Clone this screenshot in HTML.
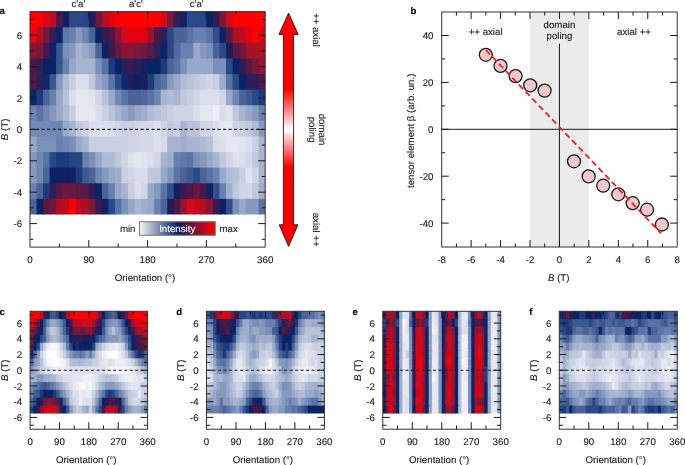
<!DOCTYPE html><html><head><meta charset="utf-8"><style>html,body{margin:0;padding:0;background:#fff;}svg{display:block;will-change:transform;}text{font-family:"Liberation Sans", sans-serif;text-rendering:geometricPrecision;stroke:#1a1a1a;stroke-width:0.12px;}</style></head><body>
<svg width="685" height="465" viewBox="0 0 685 465">
<defs><linearGradient id="cb" x1="0" x2="1" y1="0" y2="0"><stop offset="0" stop-color="#f6f7fb"/><stop offset="0.5" stop-color="#0a2266"/><stop offset="1" stop-color="#ff0000"/></linearGradient><linearGradient id="arr" x1="0" x2="0" y1="12" y2="247" gradientUnits="userSpaceOnUse"><stop offset="0" stop-color="#ff0000"/><stop offset="0.33" stop-color="#ff0000"/><stop offset="0.5" stop-color="#ffffff"/><stop offset="0.66" stop-color="#ff0000"/><stop offset="1" stop-color="#ff0000"/></linearGradient></defs>
<rect width="685" height="465" fill="#fff"/>
<rect x="30" y="11.7" width="14.07" height="16.6" fill="#ff0000"/>
<rect x="43.07" y="11.7" width="7.53" height="16.6" fill="#d80517"/>
<rect x="49.6" y="11.7" width="7.53" height="16.6" fill="#c00a20"/>
<rect x="56.13" y="11.7" width="7.53" height="16.6" fill="#4a1848"/>
<rect x="62.67" y="11.7" width="7.53" height="16.6" fill="#142060"/>
<rect x="69.2" y="11.7" width="14.07" height="16.6" fill="#2a4888"/>
<rect x="82.27" y="11.7" width="7.53" height="16.6" fill="#274484"/>
<rect x="88.8" y="11.7" width="7.53" height="16.6" fill="#1a1e5c"/>
<rect x="95.33" y="11.7" width="7.53" height="16.6" fill="#70183d"/>
<rect x="101.87" y="11.7" width="7.53" height="16.6" fill="#b01020"/>
<rect x="108.4" y="11.7" width="7.53" height="16.6" fill="#e00010"/>
<rect x="114.93" y="11.7" width="46.73" height="16.6" fill="#ff0000"/>
<rect x="160.67" y="11.7" width="7.53" height="16.6" fill="#d80517"/>
<rect x="167.2" y="11.7" width="7.53" height="16.6" fill="#7a1838"/>
<rect x="173.73" y="11.7" width="7.53" height="16.6" fill="#321c54"/>
<rect x="180.27" y="11.7" width="7.53" height="16.6" fill="#142060"/>
<rect x="186.8" y="11.7" width="14.07" height="16.6" fill="#2a4888"/>
<rect x="199.87" y="11.7" width="7.53" height="16.6" fill="#274484"/>
<rect x="206.4" y="11.7" width="7.53" height="16.6" fill="#0a2266"/>
<rect x="212.93" y="11.7" width="7.53" height="16.6" fill="#321c54"/>
<rect x="219.47" y="11.7" width="7.53" height="16.6" fill="#7a1838"/>
<rect x="226" y="11.7" width="7.53" height="16.6" fill="#d00a1e"/>
<rect x="232.53" y="11.7" width="32.67" height="16.6" fill="#ff0000"/>
<rect x="30" y="27.3" width="7.53" height="16.6" fill="#f00008"/>
<rect x="36.53" y="27.3" width="7.53" height="16.6" fill="#b01020"/>
<rect x="43.07" y="27.3" width="7.53" height="16.6" fill="#70183d"/>
<rect x="49.6" y="27.3" width="7.53" height="16.6" fill="#3a1a50"/>
<rect x="56.13" y="27.3" width="7.53" height="16.6" fill="#0a2266"/>
<rect x="62.67" y="27.3" width="7.53" height="16.6" fill="#6077aa"/>
<rect x="69.2" y="27.3" width="7.53" height="16.6" fill="#6a80b0"/>
<rect x="75.73" y="27.3" width="7.53" height="16.6" fill="#8899be"/>
<rect x="82.27" y="27.3" width="7.53" height="16.6" fill="#7086b4"/>
<rect x="88.8" y="27.3" width="7.53" height="16.6" fill="#4a6498"/>
<rect x="95.33" y="27.3" width="7.53" height="16.6" fill="#0a2266"/>
<rect x="101.87" y="27.3" width="7.53" height="16.6" fill="#321c54"/>
<rect x="108.4" y="27.3" width="7.53" height="16.6" fill="#4a1848"/>
<rect x="114.93" y="27.3" width="7.53" height="16.6" fill="#8a1434"/>
<rect x="121.47" y="27.3" width="7.53" height="16.6" fill="#d00a1e"/>
<rect x="128" y="27.3" width="20.6" height="16.6" fill="#e00010"/>
<rect x="147.6" y="27.3" width="7.53" height="16.6" fill="#95142e"/>
<rect x="154.13" y="27.3" width="7.53" height="16.6" fill="#4a1848"/>
<rect x="160.67" y="27.3" width="7.53" height="16.6" fill="#2d1d56"/>
<rect x="167.2" y="27.3" width="7.53" height="16.6" fill="#2a4888"/>
<rect x="173.73" y="27.3" width="14.07" height="16.6" fill="#4a6498"/>
<rect x="186.8" y="27.3" width="7.53" height="16.6" fill="#5a72a6"/>
<rect x="193.33" y="27.3" width="14.07" height="16.6" fill="#6a80b0"/>
<rect x="206.4" y="27.3" width="7.53" height="16.6" fill="#5a72a6"/>
<rect x="212.93" y="27.3" width="7.53" height="16.6" fill="#304e8b"/>
<rect x="219.47" y="27.3" width="7.53" height="16.6" fill="#0a2266"/>
<rect x="226" y="27.3" width="7.53" height="16.6" fill="#5a1844"/>
<rect x="232.53" y="27.3" width="7.53" height="16.6" fill="#a51326"/>
<rect x="239.07" y="27.3" width="7.53" height="16.6" fill="#c00a20"/>
<rect x="245.6" y="27.3" width="7.53" height="16.6" fill="#e00010"/>
<rect x="252.13" y="27.3" width="7.53" height="16.6" fill="#ff0000"/>
<rect x="258.67" y="27.3" width="6.53" height="16.6" fill="#d80517"/>
<rect x="30" y="42.9" width="7.53" height="16.6" fill="#8a1434"/>
<rect x="36.53" y="42.9" width="7.53" height="16.6" fill="#7a1838"/>
<rect x="43.07" y="42.9" width="7.53" height="16.6" fill="#4a1848"/>
<rect x="49.6" y="42.9" width="7.53" height="16.6" fill="#0a2266"/>
<rect x="56.13" y="42.9" width="7.53" height="16.6" fill="#3a5890"/>
<rect x="62.67" y="42.9" width="7.53" height="16.6" fill="#7a90ba"/>
<rect x="69.2" y="42.9" width="7.53" height="16.6" fill="#8899be"/>
<rect x="75.73" y="42.9" width="7.53" height="16.6" fill="#a8b4d0"/>
<rect x="82.27" y="42.9" width="7.53" height="16.6" fill="#98a8c8"/>
<rect x="88.8" y="42.9" width="7.53" height="16.6" fill="#8899be"/>
<rect x="95.33" y="42.9" width="7.53" height="16.6" fill="#4a6498"/>
<rect x="101.87" y="42.9" width="7.53" height="16.6" fill="#0a2266"/>
<rect x="108.4" y="42.9" width="7.53" height="16.6" fill="#3a1a50"/>
<rect x="114.93" y="42.9" width="7.53" height="16.6" fill="#6a1840"/>
<rect x="121.47" y="42.9" width="14.07" height="16.6" fill="#8a1434"/>
<rect x="134.53" y="42.9" width="7.53" height="16.6" fill="#7a1838"/>
<rect x="141.07" y="42.9" width="7.53" height="16.6" fill="#70183d"/>
<rect x="147.6" y="42.9" width="7.53" height="16.6" fill="#5a1844"/>
<rect x="154.13" y="42.9" width="7.53" height="16.6" fill="#2f1d56"/>
<rect x="160.67" y="42.9" width="7.53" height="16.6" fill="#0a2266"/>
<rect x="167.2" y="42.9" width="7.53" height="16.6" fill="#2a4888"/>
<rect x="173.73" y="42.9" width="7.53" height="16.6" fill="#4f689c"/>
<rect x="180.27" y="42.9" width="14.07" height="16.6" fill="#6a80b0"/>
<rect x="193.33" y="42.9" width="7.53" height="16.6" fill="#9baac9"/>
<rect x="199.87" y="42.9" width="7.53" height="16.6" fill="#8899be"/>
<rect x="206.4" y="42.9" width="7.53" height="16.6" fill="#7a90ba"/>
<rect x="212.93" y="42.9" width="7.53" height="16.6" fill="#4a6498"/>
<rect x="219.47" y="42.9" width="7.53" height="16.6" fill="#2a4888"/>
<rect x="226" y="42.9" width="7.53" height="16.6" fill="#1a1e5c"/>
<rect x="232.53" y="42.9" width="7.53" height="16.6" fill="#5a1844"/>
<rect x="239.07" y="42.9" width="7.53" height="16.6" fill="#6a1840"/>
<rect x="245.6" y="42.9" width="14.07" height="16.6" fill="#a51326"/>
<rect x="258.67" y="42.9" width="6.53" height="16.6" fill="#b01020"/>
<rect x="30" y="58.5" width="7.53" height="16.6" fill="#4a1848"/>
<rect x="36.53" y="58.5" width="7.53" height="16.6" fill="#2f1d56"/>
<rect x="43.07" y="58.5" width="14.07" height="16.6" fill="#0a2266"/>
<rect x="56.13" y="58.5" width="7.53" height="16.6" fill="#3a5890"/>
<rect x="62.67" y="58.5" width="7.53" height="16.6" fill="#6a80b0"/>
<rect x="69.2" y="58.5" width="7.53" height="16.6" fill="#98a8c8"/>
<rect x="75.73" y="58.5" width="20.6" height="16.6" fill="#a8b4d0"/>
<rect x="95.33" y="58.5" width="7.53" height="16.6" fill="#7a90ba"/>
<rect x="101.87" y="58.5" width="7.53" height="16.6" fill="#5a72a6"/>
<rect x="108.4" y="58.5" width="7.53" height="16.6" fill="#1e3a7a"/>
<rect x="114.93" y="58.5" width="7.53" height="16.6" fill="#0a2266"/>
<rect x="121.47" y="58.5" width="7.53" height="16.6" fill="#2a1e58"/>
<rect x="128" y="58.5" width="7.53" height="16.6" fill="#3a1a50"/>
<rect x="134.53" y="58.5" width="7.53" height="16.6" fill="#241e5a"/>
<rect x="141.07" y="58.5" width="7.53" height="16.6" fill="#1a1e5c"/>
<rect x="147.6" y="58.5" width="14.07" height="16.6" fill="#0a2266"/>
<rect x="160.67" y="58.5" width="7.53" height="16.6" fill="#1e3a7a"/>
<rect x="167.2" y="58.5" width="7.53" height="16.6" fill="#4a6498"/>
<rect x="173.73" y="58.5" width="7.53" height="16.6" fill="#5a72a6"/>
<rect x="180.27" y="58.5" width="7.53" height="16.6" fill="#7a90ba"/>
<rect x="186.8" y="58.5" width="27.13" height="16.6" fill="#98a8c8"/>
<rect x="212.93" y="58.5" width="14.07" height="16.6" fill="#7a90ba"/>
<rect x="226" y="58.5" width="7.53" height="16.6" fill="#2a4888"/>
<rect x="232.53" y="58.5" width="7.53" height="16.6" fill="#0a2266"/>
<rect x="239.07" y="58.5" width="7.53" height="16.6" fill="#2a1e58"/>
<rect x="245.6" y="58.5" width="7.53" height="16.6" fill="#5a1844"/>
<rect x="252.13" y="58.5" width="7.53" height="16.6" fill="#7a1838"/>
<rect x="258.67" y="58.5" width="6.53" height="16.6" fill="#95142e"/>
<rect x="30" y="74.1" width="7.53" height="16.6" fill="#501846"/>
<rect x="36.53" y="74.1" width="7.53" height="16.6" fill="#2d1d56"/>
<rect x="43.07" y="74.1" width="7.53" height="16.6" fill="#0f286b"/>
<rect x="49.6" y="74.1" width="7.53" height="16.6" fill="#3a5890"/>
<rect x="56.13" y="74.1" width="7.53" height="16.6" fill="#8899be"/>
<rect x="62.67" y="74.1" width="7.53" height="16.6" fill="#b0bcd6"/>
<rect x="69.2" y="74.1" width="7.53" height="16.6" fill="#c8d0e2"/>
<rect x="75.73" y="74.1" width="14.07" height="16.6" fill="#dce0ec"/>
<rect x="88.8" y="74.1" width="7.53" height="16.6" fill="#c0c8dc"/>
<rect x="95.33" y="74.1" width="7.53" height="16.6" fill="#98a8c8"/>
<rect x="101.87" y="74.1" width="7.53" height="16.6" fill="#8899be"/>
<rect x="108.4" y="74.1" width="7.53" height="16.6" fill="#5a72a6"/>
<rect x="114.93" y="74.1" width="7.53" height="16.6" fill="#2a4888"/>
<rect x="121.47" y="74.1" width="7.53" height="16.6" fill="#0f286b"/>
<rect x="128" y="74.1" width="7.53" height="16.6" fill="#201e5a"/>
<rect x="134.53" y="74.1" width="7.53" height="16.6" fill="#102062"/>
<rect x="141.07" y="74.1" width="7.53" height="16.6" fill="#1a1e5c"/>
<rect x="147.6" y="74.1" width="7.53" height="16.6" fill="#1e3a7a"/>
<rect x="154.13" y="74.1" width="7.53" height="16.6" fill="#4a6498"/>
<rect x="160.67" y="74.1" width="7.53" height="16.6" fill="#5a72a6"/>
<rect x="167.2" y="74.1" width="7.53" height="16.6" fill="#8899be"/>
<rect x="173.73" y="74.1" width="7.53" height="16.6" fill="#9baac9"/>
<rect x="180.27" y="74.1" width="7.53" height="16.6" fill="#b0bcd6"/>
<rect x="186.8" y="74.1" width="7.53" height="16.6" fill="#b8c2d8"/>
<rect x="193.33" y="74.1" width="7.53" height="16.6" fill="#c0c8dc"/>
<rect x="199.87" y="74.1" width="7.53" height="16.6" fill="#c8d0e2"/>
<rect x="206.4" y="74.1" width="7.53" height="16.6" fill="#d0d6e6"/>
<rect x="212.93" y="74.1" width="7.53" height="16.6" fill="#c8d0e2"/>
<rect x="219.47" y="74.1" width="7.53" height="16.6" fill="#9baac9"/>
<rect x="226" y="74.1" width="7.53" height="16.6" fill="#5a72a6"/>
<rect x="232.53" y="74.1" width="7.53" height="16.6" fill="#2a4888"/>
<rect x="239.07" y="74.1" width="7.53" height="16.6" fill="#0a2266"/>
<rect x="245.6" y="74.1" width="14.07" height="16.6" fill="#2f1d56"/>
<rect x="258.67" y="74.1" width="6.53" height="16.6" fill="#4a1848"/>
<rect x="30" y="89.7" width="7.53" height="16.6" fill="#0a2266"/>
<rect x="36.53" y="89.7" width="7.53" height="16.6" fill="#1e3a7a"/>
<rect x="43.07" y="89.7" width="7.53" height="16.6" fill="#4a6498"/>
<rect x="49.6" y="89.7" width="7.53" height="16.6" fill="#6a80b0"/>
<rect x="56.13" y="89.7" width="7.53" height="16.6" fill="#98a8c8"/>
<rect x="62.67" y="89.7" width="7.53" height="16.6" fill="#b8c2d8"/>
<rect x="69.2" y="89.7" width="7.53" height="16.6" fill="#dce0ec"/>
<rect x="75.73" y="89.7" width="7.53" height="16.6" fill="#e6e9f1"/>
<rect x="82.27" y="89.7" width="7.53" height="16.6" fill="#e4e8f0"/>
<rect x="88.8" y="89.7" width="7.53" height="16.6" fill="#e0e4ee"/>
<rect x="95.33" y="89.7" width="7.53" height="16.6" fill="#d0d6e6"/>
<rect x="101.87" y="89.7" width="7.53" height="16.6" fill="#b8c2d8"/>
<rect x="108.4" y="89.7" width="7.53" height="16.6" fill="#98a8c8"/>
<rect x="114.93" y="89.7" width="7.53" height="16.6" fill="#7086b4"/>
<rect x="121.47" y="89.7" width="7.53" height="16.6" fill="#5a72a6"/>
<rect x="128" y="89.7" width="14.07" height="16.6" fill="#4a6498"/>
<rect x="141.07" y="89.7" width="7.53" height="16.6" fill="#4f689c"/>
<rect x="147.6" y="89.7" width="7.53" height="16.6" fill="#5a72a6"/>
<rect x="154.13" y="89.7" width="7.53" height="16.6" fill="#7086b4"/>
<rect x="160.67" y="89.7" width="7.53" height="16.6" fill="#a8b4d0"/>
<rect x="167.2" y="89.7" width="7.53" height="16.6" fill="#b0bcd6"/>
<rect x="173.73" y="89.7" width="7.53" height="16.6" fill="#a8b4d0"/>
<rect x="180.27" y="89.7" width="7.53" height="16.6" fill="#c0c8dc"/>
<rect x="186.8" y="89.7" width="7.53" height="16.6" fill="#c8d0e2"/>
<rect x="193.33" y="89.7" width="7.53" height="16.6" fill="#d0d6e6"/>
<rect x="199.87" y="89.7" width="20.6" height="16.6" fill="#dce0ec"/>
<rect x="219.47" y="89.7" width="7.53" height="16.6" fill="#d0d6e6"/>
<rect x="226" y="89.7" width="7.53" height="16.6" fill="#98a8c8"/>
<rect x="232.53" y="89.7" width="7.53" height="16.6" fill="#7086b4"/>
<rect x="239.07" y="89.7" width="7.53" height="16.6" fill="#4a6498"/>
<rect x="245.6" y="89.7" width="7.53" height="16.6" fill="#3a5890"/>
<rect x="252.13" y="89.7" width="7.53" height="16.6" fill="#2a4888"/>
<rect x="258.67" y="89.7" width="6.53" height="16.6" fill="#1e3a7a"/>
<rect x="30" y="105.3" width="7.53" height="16.6" fill="#6d83b2"/>
<rect x="36.53" y="105.3" width="7.53" height="16.6" fill="#5a72a6"/>
<rect x="43.07" y="105.3" width="7.53" height="16.6" fill="#7086b4"/>
<rect x="49.6" y="105.3" width="7.53" height="16.6" fill="#8899be"/>
<rect x="56.13" y="105.3" width="7.53" height="16.6" fill="#98a8c8"/>
<rect x="62.67" y="105.3" width="7.53" height="16.6" fill="#b0bcd6"/>
<rect x="69.2" y="105.3" width="7.53" height="16.6" fill="#c8d0e2"/>
<rect x="75.73" y="105.3" width="20.6" height="16.6" fill="#e4e8f0"/>
<rect x="95.33" y="105.3" width="7.53" height="16.6" fill="#dadeeb"/>
<rect x="101.87" y="105.3" width="7.53" height="16.6" fill="#c8d0e2"/>
<rect x="108.4" y="105.3" width="7.53" height="16.6" fill="#b8c2d8"/>
<rect x="114.93" y="105.3" width="7.53" height="16.6" fill="#a8b4d0"/>
<rect x="121.47" y="105.3" width="7.53" height="16.6" fill="#98a8c8"/>
<rect x="128" y="105.3" width="7.53" height="16.6" fill="#8899be"/>
<rect x="134.53" y="105.3" width="7.53" height="16.6" fill="#98a8c8"/>
<rect x="141.07" y="105.3" width="7.53" height="16.6" fill="#a0aecc"/>
<rect x="147.6" y="105.3" width="7.53" height="16.6" fill="#b0bcd6"/>
<rect x="154.13" y="105.3" width="7.53" height="16.6" fill="#b8c2d8"/>
<rect x="160.67" y="105.3" width="7.53" height="16.6" fill="#c0c8dc"/>
<rect x="167.2" y="105.3" width="7.53" height="16.6" fill="#c8d0e2"/>
<rect x="173.73" y="105.3" width="20.6" height="16.6" fill="#d0d6e6"/>
<rect x="193.33" y="105.3" width="7.53" height="16.6" fill="#dadeeb"/>
<rect x="199.87" y="105.3" width="14.07" height="16.6" fill="#e4e8f0"/>
<rect x="212.93" y="105.3" width="7.53" height="16.6" fill="#eeeff5"/>
<rect x="219.47" y="105.3" width="7.53" height="16.6" fill="#dadeeb"/>
<rect x="226" y="105.3" width="7.53" height="16.6" fill="#e0e4ee"/>
<rect x="232.53" y="105.3" width="7.53" height="16.6" fill="#c0c8dc"/>
<rect x="239.07" y="105.3" width="7.53" height="16.6" fill="#a8b4d0"/>
<rect x="245.6" y="105.3" width="7.53" height="16.6" fill="#98a8c8"/>
<rect x="252.13" y="105.3" width="7.53" height="16.6" fill="#8899be"/>
<rect x="258.67" y="105.3" width="6.53" height="16.6" fill="#6a80b0"/>
<rect x="30" y="120.9" width="20.6" height="16.6" fill="#748ab6"/>
<rect x="49.6" y="120.9" width="7.53" height="16.6" fill="#7086b4"/>
<rect x="56.13" y="120.9" width="7.53" height="16.6" fill="#6d83b2"/>
<rect x="62.67" y="120.9" width="7.53" height="16.6" fill="#98a8c8"/>
<rect x="69.2" y="120.9" width="7.53" height="16.6" fill="#a8b4d0"/>
<rect x="75.73" y="120.9" width="7.53" height="16.6" fill="#c0c8dc"/>
<rect x="82.27" y="120.9" width="7.53" height="16.6" fill="#c8d0e2"/>
<rect x="88.8" y="120.9" width="20.6" height="16.6" fill="#dce0ec"/>
<rect x="108.4" y="120.9" width="7.53" height="16.6" fill="#dadeeb"/>
<rect x="114.93" y="120.9" width="7.53" height="16.6" fill="#d0d6e6"/>
<rect x="121.47" y="120.9" width="14.07" height="16.6" fill="#c8d0e2"/>
<rect x="134.53" y="120.9" width="7.53" height="16.6" fill="#d0d6e6"/>
<rect x="141.07" y="120.9" width="14.07" height="16.6" fill="#d5dae8"/>
<rect x="154.13" y="120.9" width="7.53" height="16.6" fill="#dce0ec"/>
<rect x="160.67" y="120.9" width="7.53" height="16.6" fill="#d0d6e6"/>
<rect x="167.2" y="120.9" width="7.53" height="16.6" fill="#c0c8dc"/>
<rect x="173.73" y="120.9" width="7.53" height="16.6" fill="#c8d0e2"/>
<rect x="180.27" y="120.9" width="7.53" height="16.6" fill="#a8b4d0"/>
<rect x="186.8" y="120.9" width="14.07" height="16.6" fill="#b8c2d8"/>
<rect x="199.87" y="120.9" width="14.07" height="16.6" fill="#d0d6e6"/>
<rect x="212.93" y="120.9" width="7.53" height="16.6" fill="#dce0ec"/>
<rect x="219.47" y="120.9" width="14.07" height="16.6" fill="#e4e8f0"/>
<rect x="232.53" y="120.9" width="7.53" height="16.6" fill="#d0d6e6"/>
<rect x="239.07" y="120.9" width="7.53" height="16.6" fill="#c8d0e2"/>
<rect x="245.6" y="120.9" width="7.53" height="16.6" fill="#c0c8dc"/>
<rect x="252.13" y="120.9" width="7.53" height="16.6" fill="#b0bcd6"/>
<rect x="258.67" y="120.9" width="6.53" height="16.6" fill="#8899be"/>
<rect x="30" y="136.5" width="7.53" height="16.6" fill="#98a8c8"/>
<rect x="36.53" y="136.5" width="20.6" height="16.6" fill="#7d92bb"/>
<rect x="56.13" y="136.5" width="7.53" height="16.6" fill="#6a80b0"/>
<rect x="62.67" y="136.5" width="7.53" height="16.6" fill="#7086b4"/>
<rect x="69.2" y="136.5" width="7.53" height="16.6" fill="#7a90ba"/>
<rect x="75.73" y="136.5" width="7.53" height="16.6" fill="#98a8c8"/>
<rect x="82.27" y="136.5" width="7.53" height="16.6" fill="#a8b4d0"/>
<rect x="88.8" y="136.5" width="40.2" height="16.6" fill="#c8d0e2"/>
<rect x="128" y="136.5" width="14.07" height="16.6" fill="#d0d6e6"/>
<rect x="141.07" y="136.5" width="14.07" height="16.6" fill="#d5dae8"/>
<rect x="154.13" y="136.5" width="7.53" height="16.6" fill="#dce0ec"/>
<rect x="160.67" y="136.5" width="7.53" height="16.6" fill="#d5dae8"/>
<rect x="167.2" y="136.5" width="14.07" height="16.6" fill="#a8b4d0"/>
<rect x="180.27" y="136.5" width="7.53" height="16.6" fill="#a0aecc"/>
<rect x="186.8" y="136.5" width="14.07" height="16.6" fill="#a8b4d0"/>
<rect x="199.87" y="136.5" width="7.53" height="16.6" fill="#b0bcd6"/>
<rect x="206.4" y="136.5" width="7.53" height="16.6" fill="#b8c2d8"/>
<rect x="212.93" y="136.5" width="7.53" height="16.6" fill="#dadeeb"/>
<rect x="219.47" y="136.5" width="7.53" height="16.6" fill="#dce0ec"/>
<rect x="226" y="136.5" width="14.07" height="16.6" fill="#e4e8f0"/>
<rect x="239.07" y="136.5" width="7.53" height="16.6" fill="#e0e4ee"/>
<rect x="245.6" y="136.5" width="7.53" height="16.6" fill="#dce0ec"/>
<rect x="252.13" y="136.5" width="7.53" height="16.6" fill="#c8d0e2"/>
<rect x="258.67" y="136.5" width="6.53" height="16.6" fill="#a8b4d0"/>
<rect x="30" y="152.1" width="7.53" height="16.6" fill="#8899be"/>
<rect x="36.53" y="152.1" width="7.53" height="16.6" fill="#7086b4"/>
<rect x="43.07" y="152.1" width="7.53" height="16.6" fill="#5a72a6"/>
<rect x="49.6" y="152.1" width="7.53" height="16.6" fill="#2a4888"/>
<rect x="56.13" y="152.1" width="14.07" height="16.6" fill="#1e3a7a"/>
<rect x="69.2" y="152.1" width="14.07" height="16.6" fill="#274484"/>
<rect x="82.27" y="152.1" width="7.53" height="16.6" fill="#6a80b0"/>
<rect x="88.8" y="152.1" width="7.53" height="16.6" fill="#7a90ba"/>
<rect x="95.33" y="152.1" width="7.53" height="16.6" fill="#98a8c8"/>
<rect x="101.87" y="152.1" width="14.07" height="16.6" fill="#b0bcd6"/>
<rect x="114.93" y="152.1" width="7.53" height="16.6" fill="#c0c8dc"/>
<rect x="121.47" y="152.1" width="7.53" height="16.6" fill="#d0d6e6"/>
<rect x="128" y="152.1" width="7.53" height="16.6" fill="#e0e4ee"/>
<rect x="134.53" y="152.1" width="7.53" height="16.6" fill="#e4e8f0"/>
<rect x="141.07" y="152.1" width="7.53" height="16.6" fill="#e0e4ee"/>
<rect x="147.6" y="152.1" width="7.53" height="16.6" fill="#dadeeb"/>
<rect x="154.13" y="152.1" width="7.53" height="16.6" fill="#d0d6e6"/>
<rect x="160.67" y="152.1" width="7.53" height="16.6" fill="#a8b4d0"/>
<rect x="167.2" y="152.1" width="7.53" height="16.6" fill="#a0aecc"/>
<rect x="173.73" y="152.1" width="7.53" height="16.6" fill="#6a80b0"/>
<rect x="180.27" y="152.1" width="7.53" height="16.6" fill="#6077aa"/>
<rect x="186.8" y="152.1" width="7.53" height="16.6" fill="#5a72a6"/>
<rect x="193.33" y="152.1" width="7.53" height="16.6" fill="#7a90ba"/>
<rect x="199.87" y="152.1" width="7.53" height="16.6" fill="#8899be"/>
<rect x="206.4" y="152.1" width="7.53" height="16.6" fill="#98a8c8"/>
<rect x="212.93" y="152.1" width="7.53" height="16.6" fill="#a8b4d0"/>
<rect x="219.47" y="152.1" width="7.53" height="16.6" fill="#c0c8dc"/>
<rect x="226" y="152.1" width="7.53" height="16.6" fill="#d0d6e6"/>
<rect x="232.53" y="152.1" width="14.07" height="16.6" fill="#dce0ec"/>
<rect x="245.6" y="152.1" width="7.53" height="16.6" fill="#d0d6e6"/>
<rect x="252.13" y="152.1" width="7.53" height="16.6" fill="#c0c8dc"/>
<rect x="258.67" y="152.1" width="6.53" height="16.6" fill="#a8b4d0"/>
<rect x="30" y="167.7" width="7.53" height="16.6" fill="#8899be"/>
<rect x="36.53" y="167.7" width="7.53" height="16.6" fill="#7086b4"/>
<rect x="43.07" y="167.7" width="7.53" height="16.6" fill="#4a6498"/>
<rect x="49.6" y="167.7" width="7.53" height="16.6" fill="#0a2266"/>
<rect x="56.13" y="167.7" width="7.53" height="16.6" fill="#102062"/>
<rect x="62.67" y="167.7" width="7.53" height="16.6" fill="#0a2266"/>
<rect x="69.2" y="167.7" width="7.53" height="16.6" fill="#142060"/>
<rect x="75.73" y="167.7" width="7.53" height="16.6" fill="#1e3a7a"/>
<rect x="82.27" y="167.7" width="7.53" height="16.6" fill="#3a5890"/>
<rect x="88.8" y="167.7" width="7.53" height="16.6" fill="#4a6498"/>
<rect x="95.33" y="167.7" width="7.53" height="16.6" fill="#7086b4"/>
<rect x="101.87" y="167.7" width="7.53" height="16.6" fill="#8899be"/>
<rect x="108.4" y="167.7" width="7.53" height="16.6" fill="#98a8c8"/>
<rect x="114.93" y="167.7" width="7.53" height="16.6" fill="#a0aecc"/>
<rect x="121.47" y="167.7" width="7.53" height="16.6" fill="#c8d0e2"/>
<rect x="128" y="167.7" width="7.53" height="16.6" fill="#d0d6e6"/>
<rect x="134.53" y="167.7" width="14.07" height="16.6" fill="#d7dcea"/>
<rect x="147.6" y="167.7" width="14.07" height="16.6" fill="#c0c8dc"/>
<rect x="160.67" y="167.7" width="7.53" height="16.6" fill="#98a8c8"/>
<rect x="167.2" y="167.7" width="7.53" height="16.6" fill="#8094bc"/>
<rect x="173.73" y="167.7" width="7.53" height="16.6" fill="#5a72a6"/>
<rect x="180.27" y="167.7" width="7.53" height="16.6" fill="#4a6498"/>
<rect x="186.8" y="167.7" width="7.53" height="16.6" fill="#3a5890"/>
<rect x="193.33" y="167.7" width="7.53" height="16.6" fill="#2a4888"/>
<rect x="199.87" y="167.7" width="7.53" height="16.6" fill="#4a6498"/>
<rect x="206.4" y="167.7" width="7.53" height="16.6" fill="#5a72a6"/>
<rect x="212.93" y="167.7" width="7.53" height="16.6" fill="#6a80b0"/>
<rect x="219.47" y="167.7" width="7.53" height="16.6" fill="#98a8c8"/>
<rect x="226" y="167.7" width="7.53" height="16.6" fill="#b0bcd6"/>
<rect x="232.53" y="167.7" width="7.53" height="16.6" fill="#b8c2d8"/>
<rect x="239.07" y="167.7" width="7.53" height="16.6" fill="#c8d0e2"/>
<rect x="245.6" y="167.7" width="7.53" height="16.6" fill="#e0e4ee"/>
<rect x="252.13" y="167.7" width="7.53" height="16.6" fill="#d0d6e6"/>
<rect x="258.67" y="167.7" width="6.53" height="16.6" fill="#a8b4d0"/>
<rect x="30" y="183.3" width="7.53" height="16.6" fill="#6a80b0"/>
<rect x="36.53" y="183.3" width="7.53" height="16.6" fill="#4a6498"/>
<rect x="43.07" y="183.3" width="7.53" height="16.6" fill="#1e3a7a"/>
<rect x="49.6" y="183.3" width="7.53" height="16.6" fill="#2a1e58"/>
<rect x="56.13" y="183.3" width="7.53" height="16.6" fill="#5a1844"/>
<rect x="62.67" y="183.3" width="14.07" height="16.6" fill="#6a1840"/>
<rect x="75.73" y="183.3" width="14.07" height="16.6" fill="#5a1844"/>
<rect x="88.8" y="183.3" width="7.53" height="16.6" fill="#2d1d56"/>
<rect x="95.33" y="183.3" width="7.53" height="16.6" fill="#0a2266"/>
<rect x="101.87" y="183.3" width="7.53" height="16.6" fill="#4a6498"/>
<rect x="108.4" y="183.3" width="7.53" height="16.6" fill="#6a80b0"/>
<rect x="114.93" y="183.3" width="7.53" height="16.6" fill="#98a8c8"/>
<rect x="121.47" y="183.3" width="7.53" height="16.6" fill="#a8b4d0"/>
<rect x="128" y="183.3" width="7.53" height="16.6" fill="#c8d0e2"/>
<rect x="134.53" y="183.3" width="7.53" height="16.6" fill="#dce0ec"/>
<rect x="141.07" y="183.3" width="7.53" height="16.6" fill="#d0d6e6"/>
<rect x="147.6" y="183.3" width="7.53" height="16.6" fill="#98a8c8"/>
<rect x="154.13" y="183.3" width="7.53" height="16.6" fill="#8899be"/>
<rect x="160.67" y="183.3" width="7.53" height="16.6" fill="#5a72a6"/>
<rect x="167.2" y="183.3" width="7.53" height="16.6" fill="#304e8b"/>
<rect x="173.73" y="183.3" width="7.53" height="16.6" fill="#102062"/>
<rect x="180.27" y="183.3" width="7.53" height="16.6" fill="#3a1a50"/>
<rect x="186.8" y="183.3" width="7.53" height="16.6" fill="#4a1848"/>
<rect x="193.33" y="183.3" width="7.53" height="16.6" fill="#6a1840"/>
<rect x="199.87" y="183.3" width="7.53" height="16.6" fill="#4a1848"/>
<rect x="206.4" y="183.3" width="7.53" height="16.6" fill="#102062"/>
<rect x="212.93" y="183.3" width="7.53" height="16.6" fill="#304e8b"/>
<rect x="219.47" y="183.3" width="7.53" height="16.6" fill="#6a80b0"/>
<rect x="226" y="183.3" width="7.53" height="16.6" fill="#a0aecc"/>
<rect x="232.53" y="183.3" width="7.53" height="16.6" fill="#c0c8dc"/>
<rect x="239.07" y="183.3" width="14.07" height="16.6" fill="#d0d6e6"/>
<rect x="252.13" y="183.3" width="7.53" height="16.6" fill="#c0c8dc"/>
<rect x="258.67" y="183.3" width="6.53" height="16.6" fill="#a0aecc"/>
<rect x="30" y="198.9" width="7.53" height="15.6" fill="#4a6498"/>
<rect x="36.53" y="198.9" width="7.53" height="15.6" fill="#0a2266"/>
<rect x="43.07" y="198.9" width="7.53" height="15.6" fill="#5a1844"/>
<rect x="49.6" y="198.9" width="7.53" height="15.6" fill="#6a1840"/>
<rect x="56.13" y="198.9" width="7.53" height="15.6" fill="#ba0c20"/>
<rect x="62.67" y="198.9" width="7.53" height="15.6" fill="#c00a20"/>
<rect x="69.2" y="198.9" width="7.53" height="15.6" fill="#ff0000"/>
<rect x="75.73" y="198.9" width="7.53" height="15.6" fill="#c00a20"/>
<rect x="82.27" y="198.9" width="7.53" height="15.6" fill="#b01020"/>
<rect x="88.8" y="198.9" width="7.53" height="15.6" fill="#7a1838"/>
<rect x="95.33" y="198.9" width="7.53" height="15.6" fill="#3a1a50"/>
<rect x="101.87" y="198.9" width="7.53" height="15.6" fill="#142060"/>
<rect x="108.4" y="198.9" width="7.53" height="15.6" fill="#2a4888"/>
<rect x="114.93" y="198.9" width="7.53" height="15.6" fill="#5a72a6"/>
<rect x="121.47" y="198.9" width="7.53" height="15.6" fill="#7a90ba"/>
<rect x="128" y="198.9" width="7.53" height="15.6" fill="#98a8c8"/>
<rect x="134.53" y="198.9" width="7.53" height="15.6" fill="#a8b4d0"/>
<rect x="141.07" y="198.9" width="7.53" height="15.6" fill="#a0aecc"/>
<rect x="147.6" y="198.9" width="7.53" height="15.6" fill="#98a8c8"/>
<rect x="154.13" y="198.9" width="7.53" height="15.6" fill="#6a80b0"/>
<rect x="160.67" y="198.9" width="7.53" height="15.6" fill="#4a6498"/>
<rect x="167.2" y="198.9" width="7.53" height="15.6" fill="#1a1e5c"/>
<rect x="173.73" y="198.9" width="7.53" height="15.6" fill="#4a1848"/>
<rect x="180.27" y="198.9" width="7.53" height="15.6" fill="#95142e"/>
<rect x="186.8" y="198.9" width="7.53" height="15.6" fill="#d00a1e"/>
<rect x="193.33" y="198.9" width="7.53" height="15.6" fill="#c00a20"/>
<rect x="199.87" y="198.9" width="7.53" height="15.6" fill="#b01020"/>
<rect x="206.4" y="198.9" width="7.53" height="15.6" fill="#8a1434"/>
<rect x="212.93" y="198.9" width="7.53" height="15.6" fill="#3a1a50"/>
<rect x="219.47" y="198.9" width="7.53" height="15.6" fill="#102062"/>
<rect x="226" y="198.9" width="7.53" height="15.6" fill="#304e8b"/>
<rect x="232.53" y="198.9" width="7.53" height="15.6" fill="#7a90ba"/>
<rect x="239.07" y="198.9" width="7.53" height="15.6" fill="#98a8c8"/>
<rect x="245.6" y="198.9" width="14.07" height="15.6" fill="#8899be"/>
<rect x="258.67" y="198.9" width="6.53" height="15.6" fill="#5a72a6"/>
<line x1="30.6" y1="129.4" x2="265.2" y2="129.4" stroke="#1a1a1a" stroke-width="1.15" stroke-dasharray="3 2.5"/>
<rect x="30" y="11.6" width="235.2" height="235.5" fill="none" stroke="#333" stroke-width="1"/>
<path d="M30 239.3h3.5M265.2 239.3h-3.5M30 223.6h7M265.2 223.6h-7M30 207.9h3.5M265.2 207.9h-3.5M30 192.2h7M265.2 192.2h-7M30 176.5h3.5M265.2 176.5h-3.5M30 160.8h7M265.2 160.8h-7M30 145.1h3.5M265.2 145.1h-3.5M30 129.4h7M265.2 129.4h-7M30 113.7h3.5M265.2 113.7h-3.5M30 98h7M265.2 98h-7M30 82.3h3.5M265.2 82.3h-3.5M30 66.6h7M265.2 66.6h-7M30 50.9h3.5M265.2 50.9h-3.5M30 35.2h7M265.2 35.2h-7M30 19.5h3.5M265.2 19.5h-3.5M59.4 247.1v-3.5M59.4 11.6v3.5M88.8 247.1v-7M88.8 11.6v7M118.2 247.1v-3.5M118.2 11.6v3.5M147.6 247.1v-7M147.6 11.6v7M177 247.1v-3.5M177 11.6v3.5M206.4 247.1v-7M206.4 11.6v7M235.8 247.1v-3.5M235.8 11.6v3.5" stroke="#1a1a1a" stroke-width="1" fill="none"/>
<text x="22.1" y="227.2" font-size="9.7" text-anchor="end" font-weight="normal" fill="#1a1a1a" >-6</text>
<text x="22.1" y="195.8" font-size="9.7" text-anchor="end" font-weight="normal" fill="#1a1a1a" >-4</text>
<text x="22.1" y="164.4" font-size="9.7" text-anchor="end" font-weight="normal" fill="#1a1a1a" >-2</text>
<text x="22.1" y="133" font-size="9.7" text-anchor="end" font-weight="normal" fill="#1a1a1a" >0</text>
<text x="22.1" y="101.6" font-size="9.7" text-anchor="end" font-weight="normal" fill="#1a1a1a" >2</text>
<text x="22.1" y="70.2" font-size="9.7" text-anchor="end" font-weight="normal" fill="#1a1a1a" >4</text>
<text x="22.1" y="38.8" font-size="9.7" text-anchor="end" font-weight="normal" fill="#1a1a1a" >6</text>
<text x="30" y="262.9" font-size="9.7" text-anchor="middle" font-weight="normal" fill="#1a1a1a" >0</text>
<text x="88.8" y="262.9" font-size="9.7" text-anchor="middle" font-weight="normal" fill="#1a1a1a" >90</text>
<text x="147.6" y="262.9" font-size="9.7" text-anchor="middle" font-weight="normal" fill="#1a1a1a" >180</text>
<text x="206.4" y="262.9" font-size="9.7" text-anchor="middle" font-weight="normal" fill="#1a1a1a" >270</text>
<text x="265.2" y="262.9" font-size="9.7" text-anchor="middle" font-weight="normal" fill="#1a1a1a" >360</text>
<text x="145" y="280.9" font-size="9.7" text-anchor="middle" font-weight="normal" fill="#1a1a1a" >Orientation (°)</text>
<text transform="translate(7.7 129.4) rotate(-90)" font-size="9.7" text-anchor="middle" fill="#1a1a1a"><tspan font-style="italic">B</tspan> (T)</text>
<text x="-0.4" y="13.6" font-size="9.7" text-anchor="start" font-weight="bold" fill="#000" >a</text>
<text x="78.4" y="7.4" font-size="9.7" text-anchor="middle" font-weight="normal" fill="#1a1a1a" >c'a'</text>
<text x="135.9" y="7.4" font-size="9.7" text-anchor="middle" font-weight="normal" fill="#1a1a1a" >a'c'</text>
<text x="196.7" y="7.4" font-size="9.7" text-anchor="middle" font-weight="normal" fill="#1a1a1a" >c'a'</text>
<rect x="139.5" y="221.7" width="75.8" height="13.6" fill="url(#cb)" stroke="#777" stroke-width="1"/>
<text x="177.2" y="232" font-size="9.7" text-anchor="middle" font-weight="normal" fill="#ffffff" style="stroke:#ffffff">Intensity</text>
<text x="135.5" y="232" font-size="9.7" text-anchor="end" font-weight="normal" fill="#1a1a1a" >min</text>
<text x="219.5" y="232" font-size="9.7" text-anchor="start" font-weight="normal" fill="#1a1a1a" >max</text>
<path d="M288.6 13.1 L298.2 34.4 L293.6 34.4 L293.6 224.8 L298 224.8 L288.6 246.4 L279.2 224.8 L283.4 224.8 L283.4 34.4 L279 34.4 Z" fill="url(#arr)" stroke="#1a1a1a" stroke-width="0.9" stroke-linejoin="miter"/>
<text transform="translate(313.3 12.9) rotate(90)" font-size="9.7" fill="#1a1a1a">++ axial</text>
<text transform="translate(313.3 212.7) rotate(90)" font-size="9.7" fill="#1a1a1a">axial ++</text>
<text transform="translate(319 129.6) rotate(90)" font-size="9.7" text-anchor="middle" fill="#1a1a1a">domain</text>
<text transform="translate(309.4 129.6) rotate(90)" font-size="9.7" text-anchor="middle" fill="#1a1a1a">poling</text>
<rect x="530.01" y="12" width="58.88" height="235" fill="#ebebeb"/>
<line x1="441.7" y1="129.3" x2="677.2" y2="129.3" stroke="#1a1a1a" stroke-width="1"/>
<line x1="559.45" y1="43.7" x2="559.45" y2="247" stroke="#1a1a1a" stroke-width="1"/>
<rect x="441.7" y="12" width="235.5" height="235" fill="none" stroke="#333" stroke-width="1"/>
<path d="M456.42 247v-3.5M456.42 12v3.5M471.14 247v-7M471.14 12v7M485.86 247v-3.5M485.86 12v3.5M500.57 247v-7M500.57 12v7M515.29 247v-3.5M515.29 12v3.5M530.01 247v-7M530.01 12v7M544.73 247v-3.5M544.73 12v3.5M559.45 247v-7M559.45 12v7M574.17 247v-3.5M574.17 12v3.5M588.89 247v-7M588.89 12v7M603.61 247v-3.5M603.61 12v3.5M618.33 247v-7M618.33 12v7M633.04 247v-3.5M633.04 12v3.5M647.76 247v-7M647.76 12v7M662.48 247v-3.5M662.48 12v3.5M441.7 223.1h7M677.2 223.1h-7M441.7 199.65h3.5M677.2 199.65h-3.5M441.7 176.2h7M677.2 176.2h-7M441.7 152.75h3.5M677.2 152.75h-3.5M441.7 129.3h7M677.2 129.3h-7M441.7 105.85h3.5M677.2 105.85h-3.5M441.7 82.4h7M677.2 82.4h-7M441.7 58.95h3.5M677.2 58.95h-3.5M441.7 35.5h7M677.2 35.5h-7" stroke="#1a1a1a" stroke-width="1" fill="none"/>
<text x="433.5" y="226.7" font-size="9.7" text-anchor="end" font-weight="normal" fill="#1a1a1a" >-40</text>
<text x="433.5" y="179.8" font-size="9.7" text-anchor="end" font-weight="normal" fill="#1a1a1a" >-20</text>
<text x="433.5" y="132.9" font-size="9.7" text-anchor="end" font-weight="normal" fill="#1a1a1a" >0</text>
<text x="433.5" y="86" font-size="9.7" text-anchor="end" font-weight="normal" fill="#1a1a1a" >20</text>
<text x="433.5" y="39.1" font-size="9.7" text-anchor="end" font-weight="normal" fill="#1a1a1a" >40</text>
<text x="441.7" y="262.8" font-size="9.7" text-anchor="middle" font-weight="normal" fill="#1a1a1a" >-8</text>
<text x="471.14" y="262.8" font-size="9.7" text-anchor="middle" font-weight="normal" fill="#1a1a1a" >-6</text>
<text x="500.57" y="262.8" font-size="9.7" text-anchor="middle" font-weight="normal" fill="#1a1a1a" >-4</text>
<text x="530.01" y="262.8" font-size="9.7" text-anchor="middle" font-weight="normal" fill="#1a1a1a" >-2</text>
<text x="559.45" y="262.8" font-size="9.7" text-anchor="middle" font-weight="normal" fill="#1a1a1a" >0</text>
<text x="588.89" y="262.8" font-size="9.7" text-anchor="middle" font-weight="normal" fill="#1a1a1a" >2</text>
<text x="618.33" y="262.8" font-size="9.7" text-anchor="middle" font-weight="normal" fill="#1a1a1a" >4</text>
<text x="647.76" y="262.8" font-size="9.7" text-anchor="middle" font-weight="normal" fill="#1a1a1a" >6</text>
<text x="677.2" y="262.8" font-size="9.7" text-anchor="middle" font-weight="normal" fill="#1a1a1a" >8</text>
<text x="558.75" y="280.8" font-size="9.7" text-anchor="middle" fill="#1a1a1a"><tspan font-style="italic">B</tspan> (T)</text>
<text transform="translate(414.3 130.8) rotate(-90)" font-size="9.7" text-anchor="middle" fill="#1a1a1a">tensor element β (arb. un.)</text>
<text x="410.4" y="13.8" font-size="9.7" text-anchor="start" font-weight="bold" fill="#000" >b</text>
<text x="485.6" y="35.2" font-size="9.7" text-anchor="middle" font-weight="normal" fill="#1a1a1a" >++ axial</text>
<text x="634" y="35.2" font-size="9.7" text-anchor="middle" font-weight="normal" fill="#1a1a1a" >axial ++</text>
<text x="559.45" y="28.4" font-size="9.7" text-anchor="middle" font-weight="normal" fill="#1a1a1a" >domain</text>
<text x="559.45" y="38.6" font-size="9.7" text-anchor="middle" font-weight="normal" fill="#1a1a1a" >poling</text>
<circle cx="485.8" cy="54.8" r="6.5" fill="#f2c9cb" stroke="#1a1a1a" stroke-width="1.3"/>
<circle cx="500.5" cy="65.9" r="6.5" fill="#f2c9cb" stroke="#1a1a1a" stroke-width="1.3"/>
<circle cx="515.6" cy="76.1" r="6.5" fill="#f2c9cb" stroke="#1a1a1a" stroke-width="1.3"/>
<circle cx="530.2" cy="85.3" r="6.5" fill="#f2c9cb" stroke="#1a1a1a" stroke-width="1.3"/>
<circle cx="544.6" cy="90.6" r="6.5" fill="#f2c9cb" stroke="#1a1a1a" stroke-width="1.3"/>
<circle cx="574" cy="161.3" r="6.5" fill="#f2c9cb" stroke="#1a1a1a" stroke-width="1.3"/>
<circle cx="588.7" cy="176.4" r="6.5" fill="#f2c9cb" stroke="#1a1a1a" stroke-width="1.3"/>
<circle cx="603.2" cy="185.7" r="6.5" fill="#f2c9cb" stroke="#1a1a1a" stroke-width="1.3"/>
<circle cx="618.3" cy="194.3" r="6.5" fill="#f2c9cb" stroke="#1a1a1a" stroke-width="1.3"/>
<circle cx="632.7" cy="203.2" r="6.5" fill="#f2c9cb" stroke="#1a1a1a" stroke-width="1.3"/>
<circle cx="647.1" cy="209.7" r="6.5" fill="#f2c9cb" stroke="#1a1a1a" stroke-width="1.3"/>
<circle cx="661.9" cy="224.5" r="6.5" fill="#f2c9cb" stroke="#1a1a1a" stroke-width="1.3"/>
<line x1="485.8" y1="50" x2="661" y2="233.3" stroke="#ee1c24" stroke-width="1.8" stroke-dasharray="6 3.6"/>
<rect x="30.1" y="311.3" width="10.79" height="8.86" fill="#ff0000"/>
<rect x="39.89" y="311.3" width="4.26" height="8.86" fill="#c00a20"/>
<rect x="43.16" y="311.3" width="4.26" height="8.86" fill="#5a1844"/>
<rect x="46.42" y="311.3" width="4.26" height="8.86" fill="#0a2266"/>
<rect x="49.68" y="311.3" width="7.53" height="8.86" fill="#3a5890"/>
<rect x="56.21" y="311.3" width="4.26" height="8.86" fill="#2a4888"/>
<rect x="59.48" y="311.3" width="4.26" height="8.86" fill="#0a2266"/>
<rect x="62.74" y="311.3" width="4.26" height="8.86" fill="#3a1a50"/>
<rect x="66" y="311.3" width="4.26" height="8.86" fill="#a01428"/>
<rect x="69.27" y="311.3" width="4.26" height="8.86" fill="#e00010"/>
<rect x="72.53" y="311.3" width="17.32" height="8.86" fill="#ff0000"/>
<rect x="88.85" y="311.3" width="4.26" height="8.86" fill="#e00010"/>
<rect x="92.11" y="311.3" width="4.26" height="8.86" fill="#ff0000"/>
<rect x="95.38" y="311.3" width="4.26" height="8.86" fill="#d00a1e"/>
<rect x="98.64" y="311.3" width="4.26" height="8.86" fill="#6a1840"/>
<rect x="101.91" y="311.3" width="4.26" height="8.86" fill="#1a1e5c"/>
<rect x="105.17" y="311.3" width="4.26" height="8.86" fill="#2a4888"/>
<rect x="108.43" y="311.3" width="4.26" height="8.86" fill="#3a5890"/>
<rect x="111.7" y="311.3" width="4.26" height="8.86" fill="#4a6498"/>
<rect x="114.96" y="311.3" width="4.26" height="8.86" fill="#3a5890"/>
<rect x="118.22" y="311.3" width="4.26" height="8.86" fill="#0a2266"/>
<rect x="121.49" y="311.3" width="4.26" height="8.86" fill="#3a1a50"/>
<rect x="124.75" y="311.3" width="4.26" height="8.86" fill="#6a1840"/>
<rect x="128.02" y="311.3" width="4.26" height="8.86" fill="#d00a1e"/>
<rect x="131.28" y="311.3" width="16.32" height="8.86" fill="#ff0000"/>
<rect x="30.1" y="319.16" width="4.26" height="8.86" fill="#ff0000"/>
<rect x="33.36" y="319.16" width="4.26" height="8.86" fill="#c00a20"/>
<rect x="36.63" y="319.16" width="4.26" height="8.86" fill="#6a1840"/>
<rect x="39.89" y="319.16" width="4.26" height="8.86" fill="#1a1e5c"/>
<rect x="43.16" y="319.16" width="4.26" height="8.86" fill="#3a5890"/>
<rect x="46.42" y="319.16" width="4.26" height="8.86" fill="#7086b4"/>
<rect x="49.68" y="319.16" width="7.53" height="8.86" fill="#98a8c8"/>
<rect x="56.21" y="319.16" width="4.26" height="8.86" fill="#8899be"/>
<rect x="59.48" y="319.16" width="4.26" height="8.86" fill="#6a80b0"/>
<rect x="62.74" y="319.16" width="4.26" height="8.86" fill="#3a5890"/>
<rect x="66" y="319.16" width="4.26" height="8.86" fill="#0a2266"/>
<rect x="69.27" y="319.16" width="4.26" height="8.86" fill="#4a1848"/>
<rect x="72.53" y="319.16" width="4.26" height="8.86" fill="#a01428"/>
<rect x="75.79" y="319.16" width="7.53" height="8.86" fill="#c00a20"/>
<rect x="82.32" y="319.16" width="10.79" height="8.86" fill="#d00a1e"/>
<rect x="92.11" y="319.16" width="4.26" height="8.86" fill="#a01428"/>
<rect x="95.38" y="319.16" width="4.26" height="8.86" fill="#5a1844"/>
<rect x="98.64" y="319.16" width="4.26" height="8.86" fill="#2a1e58"/>
<rect x="101.91" y="319.16" width="4.26" height="8.86" fill="#2a4888"/>
<rect x="105.17" y="319.16" width="4.26" height="8.86" fill="#6a80b0"/>
<rect x="108.43" y="319.16" width="4.26" height="8.86" fill="#7a90ba"/>
<rect x="111.7" y="319.16" width="7.53" height="8.86" fill="#8899be"/>
<rect x="118.22" y="319.16" width="4.26" height="8.86" fill="#6a80b0"/>
<rect x="121.49" y="319.16" width="4.26" height="8.86" fill="#3a5890"/>
<rect x="124.75" y="319.16" width="4.26" height="8.86" fill="#0a2266"/>
<rect x="128.02" y="319.16" width="4.26" height="8.86" fill="#3a1a50"/>
<rect x="131.28" y="319.16" width="4.26" height="8.86" fill="#a01428"/>
<rect x="134.54" y="319.16" width="4.26" height="8.86" fill="#d00a1e"/>
<rect x="137.81" y="319.16" width="4.26" height="8.86" fill="#e00010"/>
<rect x="141.07" y="319.16" width="6.53" height="8.86" fill="#ff0000"/>
<rect x="30.1" y="327.02" width="4.26" height="8.86" fill="#a01428"/>
<rect x="33.36" y="327.02" width="4.26" height="8.86" fill="#6a1840"/>
<rect x="36.63" y="327.02" width="4.26" height="8.86" fill="#2a1e58"/>
<rect x="39.89" y="327.02" width="4.26" height="8.86" fill="#0a2266"/>
<rect x="43.16" y="327.02" width="4.26" height="8.86" fill="#4a6498"/>
<rect x="46.42" y="327.02" width="4.26" height="8.86" fill="#98a8c8"/>
<rect x="49.68" y="327.02" width="7.53" height="8.86" fill="#c0c8dc"/>
<rect x="56.21" y="327.02" width="4.26" height="8.86" fill="#a8b4d0"/>
<rect x="59.48" y="327.02" width="4.26" height="8.86" fill="#7a90ba"/>
<rect x="62.74" y="327.02" width="4.26" height="8.86" fill="#4a6498"/>
<rect x="66" y="327.02" width="4.26" height="8.86" fill="#1e3a7a"/>
<rect x="69.27" y="327.02" width="4.26" height="8.86" fill="#1a1e5c"/>
<rect x="72.53" y="327.02" width="4.26" height="8.86" fill="#6a1840"/>
<rect x="75.79" y="327.02" width="7.53" height="8.86" fill="#7a1838"/>
<rect x="82.32" y="327.02" width="4.26" height="8.86" fill="#6a1840"/>
<rect x="85.59" y="327.02" width="7.53" height="8.86" fill="#8a1434"/>
<rect x="92.11" y="327.02" width="4.26" height="8.86" fill="#5a1844"/>
<rect x="95.38" y="327.02" width="4.26" height="8.86" fill="#2a1e58"/>
<rect x="98.64" y="327.02" width="4.26" height="8.86" fill="#0a2266"/>
<rect x="101.91" y="327.02" width="4.26" height="8.86" fill="#3a5890"/>
<rect x="105.17" y="327.02" width="4.26" height="8.86" fill="#7a90ba"/>
<rect x="108.43" y="327.02" width="4.26" height="8.86" fill="#98a8c8"/>
<rect x="111.7" y="327.02" width="4.26" height="8.86" fill="#b8c2d8"/>
<rect x="114.96" y="327.02" width="4.26" height="8.86" fill="#98a8c8"/>
<rect x="118.22" y="327.02" width="4.26" height="8.86" fill="#8899be"/>
<rect x="121.49" y="327.02" width="4.26" height="8.86" fill="#5a72a6"/>
<rect x="124.75" y="327.02" width="4.26" height="8.86" fill="#2a4888"/>
<rect x="128.02" y="327.02" width="4.26" height="8.86" fill="#0a2266"/>
<rect x="131.28" y="327.02" width="4.26" height="8.86" fill="#4a1848"/>
<rect x="134.54" y="327.02" width="4.26" height="8.86" fill="#8a1434"/>
<rect x="137.81" y="327.02" width="4.26" height="8.86" fill="#a01428"/>
<rect x="141.07" y="327.02" width="4.26" height="8.86" fill="#b01020"/>
<rect x="144.34" y="327.02" width="3.26" height="8.86" fill="#d00a1e"/>
<rect x="30.1" y="334.88" width="4.26" height="8.86" fill="#6a1840"/>
<rect x="33.36" y="334.88" width="4.26" height="8.86" fill="#2a1e58"/>
<rect x="36.63" y="334.88" width="4.26" height="8.86" fill="#0a2266"/>
<rect x="39.89" y="334.88" width="4.26" height="8.86" fill="#2a4888"/>
<rect x="43.16" y="334.88" width="4.26" height="8.86" fill="#4a6498"/>
<rect x="46.42" y="334.88" width="4.26" height="8.86" fill="#8899be"/>
<rect x="49.68" y="334.88" width="4.26" height="8.86" fill="#a8b4d0"/>
<rect x="52.95" y="334.88" width="4.26" height="8.86" fill="#b0bcd6"/>
<rect x="56.21" y="334.88" width="4.26" height="8.86" fill="#a8b4d0"/>
<rect x="59.48" y="334.88" width="4.26" height="8.86" fill="#8899be"/>
<rect x="62.74" y="334.88" width="4.26" height="8.86" fill="#6a80b0"/>
<rect x="66" y="334.88" width="4.26" height="8.86" fill="#4a6498"/>
<rect x="69.27" y="334.88" width="4.26" height="8.86" fill="#0a2266"/>
<rect x="72.53" y="334.88" width="10.79" height="8.86" fill="#2a1e58"/>
<rect x="82.32" y="334.88" width="7.53" height="8.86" fill="#1a1e5c"/>
<rect x="88.85" y="334.88" width="4.26" height="8.86" fill="#2a1e58"/>
<rect x="92.11" y="334.88" width="4.26" height="8.86" fill="#0a2266"/>
<rect x="95.38" y="334.88" width="4.26" height="8.86" fill="#2a4888"/>
<rect x="98.64" y="334.88" width="4.26" height="8.86" fill="#4a6498"/>
<rect x="101.91" y="334.88" width="4.26" height="8.86" fill="#5a72a6"/>
<rect x="105.17" y="334.88" width="4.26" height="8.86" fill="#7a90ba"/>
<rect x="108.43" y="334.88" width="10.79" height="8.86" fill="#8899be"/>
<rect x="118.22" y="334.88" width="4.26" height="8.86" fill="#98a8c8"/>
<rect x="121.49" y="334.88" width="4.26" height="8.86" fill="#7a90ba"/>
<rect x="124.75" y="334.88" width="4.26" height="8.86" fill="#5a72a6"/>
<rect x="128.02" y="334.88" width="4.26" height="8.86" fill="#2a4888"/>
<rect x="131.28" y="334.88" width="4.26" height="8.86" fill="#0a2266"/>
<rect x="134.54" y="334.88" width="4.26" height="8.86" fill="#2a1e58"/>
<rect x="137.81" y="334.88" width="4.26" height="8.86" fill="#4a1848"/>
<rect x="141.07" y="334.88" width="4.26" height="8.86" fill="#6a1840"/>
<rect x="144.34" y="334.88" width="3.26" height="8.86" fill="#8a1434"/>
<rect x="30.1" y="342.74" width="4.26" height="8.86" fill="#6a1840"/>
<rect x="33.36" y="342.74" width="4.26" height="8.86" fill="#0a2266"/>
<rect x="36.63" y="342.74" width="4.26" height="8.86" fill="#2a4888"/>
<rect x="39.89" y="342.74" width="4.26" height="8.86" fill="#98a8c8"/>
<rect x="43.16" y="342.74" width="4.26" height="8.86" fill="#c8d0e2"/>
<rect x="46.42" y="342.74" width="4.26" height="8.86" fill="#eeeff5"/>
<rect x="49.68" y="342.74" width="7.53" height="8.86" fill="#f6f6fb"/>
<rect x="56.21" y="342.74" width="4.26" height="8.86" fill="#f0f1f7"/>
<rect x="59.48" y="342.74" width="4.26" height="8.86" fill="#d0d6e6"/>
<rect x="62.74" y="342.74" width="4.26" height="8.86" fill="#b0bcd6"/>
<rect x="66" y="342.74" width="4.26" height="8.86" fill="#6a80b0"/>
<rect x="69.27" y="342.74" width="4.26" height="8.86" fill="#2a4888"/>
<rect x="72.53" y="342.74" width="4.26" height="8.86" fill="#0a2266"/>
<rect x="75.79" y="342.74" width="4.26" height="8.86" fill="#163172"/>
<rect x="79.06" y="342.74" width="14.06" height="8.86" fill="#0a2266"/>
<rect x="92.11" y="342.74" width="4.26" height="8.86" fill="#2a4888"/>
<rect x="95.38" y="342.74" width="4.26" height="8.86" fill="#98a8c8"/>
<rect x="98.64" y="342.74" width="4.26" height="8.86" fill="#b0bcd6"/>
<rect x="101.91" y="342.74" width="4.26" height="8.86" fill="#c8d0e2"/>
<rect x="105.17" y="342.74" width="4.26" height="8.86" fill="#dce0ec"/>
<rect x="108.43" y="342.74" width="7.53" height="8.86" fill="#e4e8f0"/>
<rect x="114.96" y="342.74" width="4.26" height="8.86" fill="#eeeff5"/>
<rect x="118.22" y="342.74" width="4.26" height="8.86" fill="#dce0ec"/>
<rect x="121.49" y="342.74" width="4.26" height="8.86" fill="#c8d0e2"/>
<rect x="124.75" y="342.74" width="4.26" height="8.86" fill="#8899be"/>
<rect x="128.02" y="342.74" width="4.26" height="8.86" fill="#3a5890"/>
<rect x="131.28" y="342.74" width="4.26" height="8.86" fill="#0a2266"/>
<rect x="134.54" y="342.74" width="4.26" height="8.86" fill="#2a1e58"/>
<rect x="137.81" y="342.74" width="7.53" height="8.86" fill="#4a1848"/>
<rect x="144.34" y="342.74" width="3.26" height="8.86" fill="#6a1840"/>
<rect x="30.1" y="350.6" width="4.26" height="8.86" fill="#163172"/>
<rect x="33.36" y="350.6" width="4.26" height="8.86" fill="#4a6498"/>
<rect x="36.63" y="350.6" width="4.26" height="8.86" fill="#8899be"/>
<rect x="39.89" y="350.6" width="4.26" height="8.86" fill="#c8d0e2"/>
<rect x="43.16" y="350.6" width="4.26" height="8.86" fill="#eaecf3"/>
<rect x="46.42" y="350.6" width="10.79" height="8.86" fill="#ffffff"/>
<rect x="56.21" y="350.6" width="4.26" height="8.86" fill="#f0f1f7"/>
<rect x="59.48" y="350.6" width="4.26" height="8.86" fill="#e0e4ee"/>
<rect x="62.74" y="350.6" width="4.26" height="8.86" fill="#c8d0e2"/>
<rect x="66" y="350.6" width="4.26" height="8.86" fill="#a8b4d0"/>
<rect x="69.27" y="350.6" width="4.26" height="8.86" fill="#8899be"/>
<rect x="72.53" y="350.6" width="7.53" height="8.86" fill="#6a80b0"/>
<rect x="79.06" y="350.6" width="4.26" height="8.86" fill="#5a72a6"/>
<rect x="82.32" y="350.6" width="4.26" height="8.86" fill="#6a80b0"/>
<rect x="85.59" y="350.6" width="4.26" height="8.86" fill="#8899be"/>
<rect x="88.85" y="350.6" width="4.26" height="8.86" fill="#6a80b0"/>
<rect x="92.11" y="350.6" width="4.26" height="8.86" fill="#98a8c8"/>
<rect x="95.38" y="350.6" width="4.26" height="8.86" fill="#c8d0e2"/>
<rect x="98.64" y="350.6" width="4.26" height="8.86" fill="#dce0ec"/>
<rect x="101.91" y="350.6" width="4.26" height="8.86" fill="#eeeff5"/>
<rect x="105.17" y="350.6" width="4.26" height="8.86" fill="#f6f6fb"/>
<rect x="108.43" y="350.6" width="10.79" height="8.86" fill="#ffffff"/>
<rect x="118.22" y="350.6" width="4.26" height="8.86" fill="#eeeff5"/>
<rect x="121.49" y="350.6" width="4.26" height="8.86" fill="#dce0ec"/>
<rect x="124.75" y="350.6" width="4.26" height="8.86" fill="#c0c8dc"/>
<rect x="128.02" y="350.6" width="4.26" height="8.86" fill="#8899be"/>
<rect x="131.28" y="350.6" width="4.26" height="8.86" fill="#5a72a6"/>
<rect x="134.54" y="350.6" width="4.26" height="8.86" fill="#2a4888"/>
<rect x="137.81" y="350.6" width="4.26" height="8.86" fill="#163172"/>
<rect x="141.07" y="350.6" width="4.26" height="8.86" fill="#213e7e"/>
<rect x="144.34" y="350.6" width="3.26" height="8.86" fill="#4a6498"/>
<rect x="30.1" y="358.46" width="4.26" height="8.86" fill="#4a6498"/>
<rect x="33.36" y="358.46" width="4.26" height="8.86" fill="#8899be"/>
<rect x="36.63" y="358.46" width="4.26" height="8.86" fill="#98a8c8"/>
<rect x="39.89" y="358.46" width="4.26" height="8.86" fill="#b8c2d8"/>
<rect x="43.16" y="358.46" width="4.26" height="8.86" fill="#dce0ec"/>
<rect x="46.42" y="358.46" width="4.26" height="8.86" fill="#f4f5fa"/>
<rect x="49.68" y="358.46" width="4.26" height="8.86" fill="#f8f8fc"/>
<rect x="52.95" y="358.46" width="7.53" height="8.86" fill="#ffffff"/>
<rect x="59.48" y="358.46" width="4.26" height="8.86" fill="#f4f5fa"/>
<rect x="62.74" y="358.46" width="4.26" height="8.86" fill="#eeeff5"/>
<rect x="66" y="358.46" width="4.26" height="8.86" fill="#dce0ec"/>
<rect x="69.27" y="358.46" width="4.26" height="8.86" fill="#b8c2d8"/>
<rect x="72.53" y="358.46" width="7.53" height="8.86" fill="#b0bcd6"/>
<rect x="79.06" y="358.46" width="4.26" height="8.86" fill="#a8b4d0"/>
<rect x="82.32" y="358.46" width="4.26" height="8.86" fill="#b0bcd6"/>
<rect x="85.59" y="358.46" width="7.53" height="8.86" fill="#b8c2d8"/>
<rect x="92.11" y="358.46" width="7.53" height="8.86" fill="#c8d0e2"/>
<rect x="98.64" y="358.46" width="4.26" height="8.86" fill="#dce0ec"/>
<rect x="101.91" y="358.46" width="7.53" height="8.86" fill="#e4e8f0"/>
<rect x="108.43" y="358.46" width="4.26" height="8.86" fill="#dce0ec"/>
<rect x="111.7" y="358.46" width="4.26" height="8.86" fill="#e4e8f0"/>
<rect x="114.96" y="358.46" width="10.79" height="8.86" fill="#eeeff5"/>
<rect x="124.75" y="358.46" width="4.26" height="8.86" fill="#e4e8f0"/>
<rect x="128.02" y="358.46" width="4.26" height="8.86" fill="#dce0ec"/>
<rect x="131.28" y="358.46" width="4.26" height="8.86" fill="#c8d0e2"/>
<rect x="134.54" y="358.46" width="4.26" height="8.86" fill="#a8b4d0"/>
<rect x="137.81" y="358.46" width="4.26" height="8.86" fill="#8899be"/>
<rect x="141.07" y="358.46" width="4.26" height="8.86" fill="#6a80b0"/>
<rect x="144.34" y="358.46" width="3.26" height="8.86" fill="#4a6498"/>
<rect x="30.1" y="366.32" width="4.26" height="8.86" fill="#8899be"/>
<rect x="33.36" y="366.32" width="4.26" height="8.86" fill="#98a8c8"/>
<rect x="36.63" y="366.32" width="4.26" height="8.86" fill="#b0bcd6"/>
<rect x="39.89" y="366.32" width="4.26" height="8.86" fill="#c8d0e2"/>
<rect x="43.16" y="366.32" width="4.26" height="8.86" fill="#d0d6e6"/>
<rect x="46.42" y="366.32" width="4.26" height="8.86" fill="#dce0ec"/>
<rect x="49.68" y="366.32" width="4.26" height="8.86" fill="#e4e8f0"/>
<rect x="52.95" y="366.32" width="14.06" height="8.86" fill="#eeeff5"/>
<rect x="66" y="366.32" width="4.26" height="8.86" fill="#e4e8f0"/>
<rect x="69.27" y="366.32" width="36.9" height="8.86" fill="#dce0ec"/>
<rect x="105.17" y="366.32" width="4.26" height="8.86" fill="#e4e8f0"/>
<rect x="108.43" y="366.32" width="20.58" height="8.86" fill="#f4f5fa"/>
<rect x="128.02" y="366.32" width="4.26" height="8.86" fill="#eeeff5"/>
<rect x="131.28" y="366.32" width="4.26" height="8.86" fill="#e4e8f0"/>
<rect x="134.54" y="366.32" width="4.26" height="8.86" fill="#dce0ec"/>
<rect x="137.81" y="366.32" width="4.26" height="8.86" fill="#c8d0e2"/>
<rect x="141.07" y="366.32" width="4.26" height="8.86" fill="#b0bcd6"/>
<rect x="144.34" y="366.32" width="3.26" height="8.86" fill="#98a8c8"/>
<rect x="30.1" y="374.18" width="4.26" height="8.86" fill="#a8b4d0"/>
<rect x="33.36" y="374.18" width="4.26" height="8.86" fill="#a0aecc"/>
<rect x="36.63" y="374.18" width="7.53" height="8.86" fill="#8899be"/>
<rect x="43.16" y="374.18" width="4.26" height="8.86" fill="#98a8c8"/>
<rect x="46.42" y="374.18" width="4.26" height="8.86" fill="#a0aecc"/>
<rect x="49.68" y="374.18" width="4.26" height="8.86" fill="#a8b4d0"/>
<rect x="52.95" y="374.18" width="4.26" height="8.86" fill="#b0bcd6"/>
<rect x="56.21" y="374.18" width="4.26" height="8.86" fill="#c8d0e2"/>
<rect x="59.48" y="374.18" width="4.26" height="8.86" fill="#d0d6e6"/>
<rect x="62.74" y="374.18" width="10.79" height="8.86" fill="#dce0ec"/>
<rect x="72.53" y="374.18" width="10.79" height="8.86" fill="#e4e8f0"/>
<rect x="82.32" y="374.18" width="10.79" height="8.86" fill="#eeeff5"/>
<rect x="92.11" y="374.18" width="4.26" height="8.86" fill="#e4e8f0"/>
<rect x="95.38" y="374.18" width="4.26" height="8.86" fill="#dce0ec"/>
<rect x="98.64" y="374.18" width="4.26" height="8.86" fill="#c8d0e2"/>
<rect x="101.91" y="374.18" width="4.26" height="8.86" fill="#c0c8dc"/>
<rect x="105.17" y="374.18" width="7.53" height="8.86" fill="#b8c2d8"/>
<rect x="111.7" y="374.18" width="4.26" height="8.86" fill="#c0c8dc"/>
<rect x="114.96" y="374.18" width="4.26" height="8.86" fill="#c8d0e2"/>
<rect x="118.22" y="374.18" width="4.26" height="8.86" fill="#dce0ec"/>
<rect x="121.49" y="374.18" width="4.26" height="8.86" fill="#e4e8f0"/>
<rect x="124.75" y="374.18" width="10.79" height="8.86" fill="#eeeff5"/>
<rect x="134.54" y="374.18" width="4.26" height="8.86" fill="#e4e8f0"/>
<rect x="137.81" y="374.18" width="7.53" height="8.86" fill="#dce0ec"/>
<rect x="144.34" y="374.18" width="3.26" height="8.86" fill="#c8d0e2"/>
<rect x="30.1" y="382.04" width="4.26" height="8.86" fill="#7a90ba"/>
<rect x="33.36" y="382.04" width="4.26" height="8.86" fill="#6a80b0"/>
<rect x="36.63" y="382.04" width="4.26" height="8.86" fill="#5a72a6"/>
<rect x="39.89" y="382.04" width="4.26" height="8.86" fill="#4a6498"/>
<rect x="43.16" y="382.04" width="4.26" height="8.86" fill="#3a5890"/>
<rect x="46.42" y="382.04" width="4.26" height="8.86" fill="#4a6498"/>
<rect x="49.68" y="382.04" width="4.26" height="8.86" fill="#5a72a6"/>
<rect x="52.95" y="382.04" width="4.26" height="8.86" fill="#6a80b0"/>
<rect x="56.21" y="382.04" width="4.26" height="8.86" fill="#8899be"/>
<rect x="59.48" y="382.04" width="4.26" height="8.86" fill="#a0aecc"/>
<rect x="62.74" y="382.04" width="4.26" height="8.86" fill="#b8c2d8"/>
<rect x="66" y="382.04" width="4.26" height="8.86" fill="#c8d0e2"/>
<rect x="69.27" y="382.04" width="4.26" height="8.86" fill="#dce0ec"/>
<rect x="72.53" y="382.04" width="4.26" height="8.86" fill="#e4e8f0"/>
<rect x="75.79" y="382.04" width="4.26" height="8.86" fill="#eeeff5"/>
<rect x="79.06" y="382.04" width="4.26" height="8.86" fill="#f4f5fa"/>
<rect x="82.32" y="382.04" width="4.26" height="8.86" fill="#f8f8fc"/>
<rect x="85.59" y="382.04" width="4.26" height="8.86" fill="#eeeff5"/>
<rect x="88.85" y="382.04" width="4.26" height="8.86" fill="#f4f5fa"/>
<rect x="92.11" y="382.04" width="4.26" height="8.86" fill="#e4e8f0"/>
<rect x="95.38" y="382.04" width="4.26" height="8.86" fill="#c8d0e2"/>
<rect x="98.64" y="382.04" width="4.26" height="8.86" fill="#b0bcd6"/>
<rect x="101.91" y="382.04" width="4.26" height="8.86" fill="#a0aecc"/>
<rect x="105.17" y="382.04" width="10.79" height="8.86" fill="#8899be"/>
<rect x="114.96" y="382.04" width="4.26" height="8.86" fill="#98a8c8"/>
<rect x="118.22" y="382.04" width="4.26" height="8.86" fill="#a8b4d0"/>
<rect x="121.49" y="382.04" width="4.26" height="8.86" fill="#c0c8dc"/>
<rect x="124.75" y="382.04" width="4.26" height="8.86" fill="#d0d6e6"/>
<rect x="128.02" y="382.04" width="4.26" height="8.86" fill="#dce0ec"/>
<rect x="131.28" y="382.04" width="7.53" height="8.86" fill="#e4e8f0"/>
<rect x="137.81" y="382.04" width="4.26" height="8.86" fill="#dce0ec"/>
<rect x="141.07" y="382.04" width="6.53" height="8.86" fill="#c8d0e2"/>
<rect x="30.1" y="389.9" width="4.26" height="8.86" fill="#6a80b0"/>
<rect x="33.36" y="389.9" width="4.26" height="8.86" fill="#4a6498"/>
<rect x="36.63" y="389.9" width="4.26" height="8.86" fill="#3a5890"/>
<rect x="39.89" y="389.9" width="4.26" height="8.86" fill="#1e3a7a"/>
<rect x="43.16" y="389.9" width="10.79" height="8.86" fill="#0a2266"/>
<rect x="52.95" y="389.9" width="4.26" height="8.86" fill="#1e3a7a"/>
<rect x="56.21" y="389.9" width="4.26" height="8.86" fill="#3a5890"/>
<rect x="59.48" y="389.9" width="4.26" height="8.86" fill="#6a80b0"/>
<rect x="62.74" y="389.9" width="4.26" height="8.86" fill="#8899be"/>
<rect x="66" y="389.9" width="4.26" height="8.86" fill="#a8b4d0"/>
<rect x="69.27" y="389.9" width="4.26" height="8.86" fill="#c0c8dc"/>
<rect x="72.53" y="389.9" width="7.53" height="8.86" fill="#dce0ec"/>
<rect x="79.06" y="389.9" width="4.26" height="8.86" fill="#eeeff5"/>
<rect x="82.32" y="389.9" width="4.26" height="8.86" fill="#e4e8f0"/>
<rect x="85.59" y="389.9" width="4.26" height="8.86" fill="#eeeff5"/>
<rect x="88.85" y="389.9" width="4.26" height="8.86" fill="#e4e8f0"/>
<rect x="92.11" y="389.9" width="4.26" height="8.86" fill="#c8d0e2"/>
<rect x="95.38" y="389.9" width="4.26" height="8.86" fill="#a8b4d0"/>
<rect x="98.64" y="389.9" width="4.26" height="8.86" fill="#7a90ba"/>
<rect x="101.91" y="389.9" width="4.26" height="8.86" fill="#5a72a6"/>
<rect x="105.17" y="389.9" width="4.26" height="8.86" fill="#2a4888"/>
<rect x="108.43" y="389.9" width="4.26" height="8.86" fill="#1e3a7a"/>
<rect x="111.7" y="389.9" width="4.26" height="8.86" fill="#2a4888"/>
<rect x="114.96" y="389.9" width="4.26" height="8.86" fill="#4a6498"/>
<rect x="118.22" y="389.9" width="4.26" height="8.86" fill="#6a80b0"/>
<rect x="121.49" y="389.9" width="4.26" height="8.86" fill="#8899be"/>
<rect x="124.75" y="389.9" width="4.26" height="8.86" fill="#a8b4d0"/>
<rect x="128.02" y="389.9" width="4.26" height="8.86" fill="#c0c8dc"/>
<rect x="131.28" y="389.9" width="4.26" height="8.86" fill="#c8d0e2"/>
<rect x="134.54" y="389.9" width="4.26" height="8.86" fill="#d0d6e6"/>
<rect x="137.81" y="389.9" width="4.26" height="8.86" fill="#e4e8f0"/>
<rect x="141.07" y="389.9" width="4.26" height="8.86" fill="#d0d6e6"/>
<rect x="144.34" y="389.9" width="3.26" height="8.86" fill="#c0c8dc"/>
<rect x="30.1" y="397.76" width="4.26" height="8.86" fill="#4a6498"/>
<rect x="33.36" y="397.76" width="4.26" height="8.86" fill="#2a4888"/>
<rect x="36.63" y="397.76" width="4.26" height="8.86" fill="#0a2266"/>
<rect x="39.89" y="397.76" width="4.26" height="8.86" fill="#2a1e58"/>
<rect x="43.16" y="397.76" width="4.26" height="8.86" fill="#6a1840"/>
<rect x="46.42" y="397.76" width="7.53" height="8.86" fill="#7a1838"/>
<rect x="52.95" y="397.76" width="4.26" height="8.86" fill="#6a1840"/>
<rect x="56.21" y="397.76" width="4.26" height="8.86" fill="#5a1844"/>
<rect x="59.48" y="397.76" width="4.26" height="8.86" fill="#0a2266"/>
<rect x="62.74" y="397.76" width="4.26" height="8.86" fill="#4a6498"/>
<rect x="66" y="397.76" width="4.26" height="8.86" fill="#7a90ba"/>
<rect x="69.27" y="397.76" width="4.26" height="8.86" fill="#c0c8dc"/>
<rect x="72.53" y="397.76" width="4.26" height="8.86" fill="#d0d6e6"/>
<rect x="75.79" y="397.76" width="4.26" height="8.86" fill="#dce0ec"/>
<rect x="79.06" y="397.76" width="4.26" height="8.86" fill="#eeeff5"/>
<rect x="82.32" y="397.76" width="10.79" height="8.86" fill="#dce0ec"/>
<rect x="92.11" y="397.76" width="4.26" height="8.86" fill="#b8c2d8"/>
<rect x="95.38" y="397.76" width="4.26" height="8.86" fill="#8899be"/>
<rect x="98.64" y="397.76" width="4.26" height="8.86" fill="#4a6498"/>
<rect x="101.91" y="397.76" width="4.26" height="8.86" fill="#0a2266"/>
<rect x="105.17" y="397.76" width="4.26" height="8.86" fill="#1a1e5c"/>
<rect x="108.43" y="397.76" width="7.53" height="8.86" fill="#4a1848"/>
<rect x="114.96" y="397.76" width="4.26" height="8.86" fill="#2a1e58"/>
<rect x="118.22" y="397.76" width="4.26" height="8.86" fill="#0a2266"/>
<rect x="121.49" y="397.76" width="4.26" height="8.86" fill="#4a6498"/>
<rect x="124.75" y="397.76" width="4.26" height="8.86" fill="#8899be"/>
<rect x="128.02" y="397.76" width="4.26" height="8.86" fill="#c0c8dc"/>
<rect x="131.28" y="397.76" width="4.26" height="8.86" fill="#d0d6e6"/>
<rect x="134.54" y="397.76" width="4.26" height="8.86" fill="#dce0ec"/>
<rect x="137.81" y="397.76" width="4.26" height="8.86" fill="#d0d6e6"/>
<rect x="141.07" y="397.76" width="4.26" height="8.86" fill="#c0c8dc"/>
<rect x="144.34" y="397.76" width="3.26" height="8.86" fill="#a8b4d0"/>
<rect x="30.1" y="405.62" width="4.26" height="7.86" fill="#2a4888"/>
<rect x="33.36" y="405.62" width="4.26" height="7.86" fill="#0a2266"/>
<rect x="36.63" y="405.62" width="4.26" height="7.86" fill="#3a1a50"/>
<rect x="39.89" y="405.62" width="4.26" height="7.86" fill="#8a1434"/>
<rect x="43.16" y="405.62" width="4.26" height="7.86" fill="#c00a20"/>
<rect x="46.42" y="405.62" width="4.26" height="7.86" fill="#d00a1e"/>
<rect x="49.68" y="405.62" width="4.26" height="7.86" fill="#e00010"/>
<rect x="52.95" y="405.62" width="4.26" height="7.86" fill="#d00a1e"/>
<rect x="56.21" y="405.62" width="4.26" height="7.86" fill="#a01428"/>
<rect x="59.48" y="405.62" width="4.26" height="7.86" fill="#3a1a50"/>
<rect x="62.74" y="405.62" width="4.26" height="7.86" fill="#0a2266"/>
<rect x="66" y="405.62" width="4.26" height="7.86" fill="#3a5890"/>
<rect x="69.27" y="405.62" width="4.26" height="7.86" fill="#8899be"/>
<rect x="72.53" y="405.62" width="4.26" height="7.86" fill="#b0bcd6"/>
<rect x="75.79" y="405.62" width="4.26" height="7.86" fill="#c8d0e2"/>
<rect x="79.06" y="405.62" width="4.26" height="7.86" fill="#c0c8dc"/>
<rect x="82.32" y="405.62" width="4.26" height="7.86" fill="#a8b4d0"/>
<rect x="85.59" y="405.62" width="4.26" height="7.86" fill="#98a8c8"/>
<rect x="88.85" y="405.62" width="4.26" height="7.86" fill="#c8d0e2"/>
<rect x="92.11" y="405.62" width="4.26" height="7.86" fill="#98a8c8"/>
<rect x="95.38" y="405.62" width="4.26" height="7.86" fill="#5a72a6"/>
<rect x="98.64" y="405.62" width="4.26" height="7.86" fill="#2a4888"/>
<rect x="101.91" y="405.62" width="4.26" height="7.86" fill="#3a1a50"/>
<rect x="105.17" y="405.62" width="4.26" height="7.86" fill="#a01428"/>
<rect x="108.43" y="405.62" width="7.53" height="7.86" fill="#c00a20"/>
<rect x="114.96" y="405.62" width="4.26" height="7.86" fill="#8a1434"/>
<rect x="118.22" y="405.62" width="4.26" height="7.86" fill="#4a1848"/>
<rect x="121.49" y="405.62" width="4.26" height="7.86" fill="#2a4888"/>
<rect x="124.75" y="405.62" width="4.26" height="7.86" fill="#6a80b0"/>
<rect x="128.02" y="405.62" width="4.26" height="7.86" fill="#8899be"/>
<rect x="131.28" y="405.62" width="4.26" height="7.86" fill="#a0aecc"/>
<rect x="134.54" y="405.62" width="4.26" height="7.86" fill="#a8b4d0"/>
<rect x="137.81" y="405.62" width="4.26" height="7.86" fill="#a0aecc"/>
<rect x="141.07" y="405.62" width="4.26" height="7.86" fill="#8899be"/>
<rect x="144.34" y="405.62" width="3.26" height="7.86" fill="#5a72a6"/>
<line x1="30.7" y1="370.25" x2="147.6" y2="370.25" stroke="#1a1a1a" stroke-width="1.15" stroke-dasharray="3 2.5"/>
<rect x="30.1" y="311.3" width="117.5" height="117.9" fill="none" stroke="#333" stroke-width="1"/>
<path d="M30.1 425.27h3.8M147.6 425.27h-3.8M30.1 417.41h7M147.6 417.41h-7M30.1 409.55h3.8M147.6 409.55h-3.8M30.1 401.69h7M147.6 401.69h-7M30.1 393.83h3.8M147.6 393.83h-3.8M30.1 385.97h7M147.6 385.97h-7M30.1 378.11h3.8M147.6 378.11h-3.8M30.1 370.25h7M147.6 370.25h-7M30.1 362.39h3.8M147.6 362.39h-3.8M30.1 354.53h7M147.6 354.53h-7M30.1 346.67h3.8M147.6 346.67h-3.8M30.1 338.81h7M147.6 338.81h-7M30.1 330.95h3.8M147.6 330.95h-3.8M30.1 323.09h7M147.6 323.09h-7M30.1 315.23h3.8M147.6 315.23h-3.8M44.79 429.2v-3.8M44.79 311.3v3.8M59.48 429.2v-7M59.48 311.3v7M74.16 429.2v-3.8M74.16 311.3v3.8M88.85 429.2v-7M88.85 311.3v7M103.54 429.2v-3.8M103.54 311.3v3.8M118.22 429.2v-7M118.22 311.3v7M132.91 429.2v-3.8M132.91 311.3v3.8" stroke="#1a1a1a" stroke-width="1" fill="none"/>
<text x="22.2" y="421.01" font-size="9.7" text-anchor="end" font-weight="normal" fill="#1a1a1a" >-6</text>
<text x="22.2" y="405.29" font-size="9.7" text-anchor="end" font-weight="normal" fill="#1a1a1a" >-4</text>
<text x="22.2" y="389.57" font-size="9.7" text-anchor="end" font-weight="normal" fill="#1a1a1a" >-2</text>
<text x="22.2" y="373.85" font-size="9.7" text-anchor="end" font-weight="normal" fill="#1a1a1a" >0</text>
<text x="22.2" y="358.13" font-size="9.7" text-anchor="end" font-weight="normal" fill="#1a1a1a" >2</text>
<text x="22.2" y="342.41" font-size="9.7" text-anchor="end" font-weight="normal" fill="#1a1a1a" >4</text>
<text x="22.2" y="326.69" font-size="9.7" text-anchor="end" font-weight="normal" fill="#1a1a1a" >6</text>
<text x="30.1" y="445" font-size="9.7" text-anchor="middle" font-weight="normal" fill="#1a1a1a" >0</text>
<text x="59.48" y="445" font-size="9.7" text-anchor="middle" font-weight="normal" fill="#1a1a1a" >90</text>
<text x="88.85" y="445" font-size="9.7" text-anchor="middle" font-weight="normal" fill="#1a1a1a" >180</text>
<text x="118.22" y="445" font-size="9.7" text-anchor="middle" font-weight="normal" fill="#1a1a1a" >270</text>
<text x="147.6" y="445" font-size="9.7" text-anchor="middle" font-weight="normal" fill="#1a1a1a" >360</text>
<text x="86.25" y="463" font-size="9.7" text-anchor="middle" font-weight="normal" fill="#1a1a1a" >Orientation (°)</text>
<text transform="translate(7.8 370.25) rotate(-90)" font-size="9.7" text-anchor="middle" fill="#1a1a1a"><tspan font-style="italic">B</tspan> (T)</text>
<text x="-0.4" y="314.7" font-size="9.7" text-anchor="start" font-weight="bold" fill="#000" >c</text>
<rect x="206.5" y="311.3" width="4.28" height="8.86" fill="#3a5890"/>
<rect x="209.78" y="311.3" width="4.28" height="8.86" fill="#1e3a7a"/>
<rect x="213.05" y="311.3" width="4.27" height="8.86" fill="#5a1844"/>
<rect x="216.32" y="311.3" width="4.28" height="8.86" fill="#a01428"/>
<rect x="219.6" y="311.3" width="4.28" height="8.86" fill="#d00a1e"/>
<rect x="222.88" y="311.3" width="4.28" height="8.86" fill="#f00008"/>
<rect x="226.15" y="311.3" width="4.28" height="8.86" fill="#d00a1e"/>
<rect x="229.43" y="311.3" width="4.27" height="8.86" fill="#a01428"/>
<rect x="232.7" y="311.3" width="4.28" height="8.86" fill="#6a1840"/>
<rect x="235.97" y="311.3" width="4.28" height="8.86" fill="#321c54"/>
<rect x="239.25" y="311.3" width="7.55" height="8.86" fill="#2a4888"/>
<rect x="245.8" y="311.3" width="4.27" height="8.86" fill="#3a5890"/>
<rect x="249.07" y="311.3" width="4.28" height="8.86" fill="#2a4888"/>
<rect x="252.35" y="311.3" width="4.28" height="8.86" fill="#1e3a7a"/>
<rect x="255.62" y="311.3" width="4.27" height="8.86" fill="#2a4888"/>
<rect x="258.9" y="311.3" width="4.28" height="8.86" fill="#1e3a7a"/>
<rect x="262.18" y="311.3" width="10.82" height="8.86" fill="#2a4888"/>
<rect x="272" y="311.3" width="4.27" height="8.86" fill="#163172"/>
<rect x="275.27" y="311.3" width="4.27" height="8.86" fill="#5a1844"/>
<rect x="278.55" y="311.3" width="4.28" height="8.86" fill="#8a1434"/>
<rect x="281.82" y="311.3" width="4.28" height="8.86" fill="#a01428"/>
<rect x="285.1" y="311.3" width="7.55" height="8.86" fill="#c00a20"/>
<rect x="291.65" y="311.3" width="4.27" height="8.86" fill="#4a1848"/>
<rect x="294.92" y="311.3" width="4.28" height="8.86" fill="#0a2266"/>
<rect x="298.2" y="311.3" width="4.27" height="8.86" fill="#2a4888"/>
<rect x="301.47" y="311.3" width="7.55" height="8.86" fill="#4a6498"/>
<rect x="308.02" y="311.3" width="7.55" height="8.86" fill="#5a72a6"/>
<rect x="314.57" y="311.3" width="4.27" height="8.86" fill="#6a80b0"/>
<rect x="317.85" y="311.3" width="4.28" height="8.86" fill="#7a90ba"/>
<rect x="321.12" y="311.3" width="3.27" height="8.86" fill="#6a80b0"/>
<rect x="206.5" y="319.16" width="4.28" height="8.86" fill="#7086b4"/>
<rect x="209.78" y="319.16" width="4.28" height="8.86" fill="#6a80b0"/>
<rect x="213.05" y="319.16" width="4.27" height="8.86" fill="#2a4888"/>
<rect x="216.32" y="319.16" width="4.28" height="8.86" fill="#1a1e5c"/>
<rect x="219.6" y="319.16" width="4.28" height="8.86" fill="#3a1a50"/>
<rect x="222.88" y="319.16" width="4.28" height="8.86" fill="#4a1848"/>
<rect x="226.15" y="319.16" width="4.28" height="8.86" fill="#3a1a50"/>
<rect x="229.43" y="319.16" width="4.27" height="8.86" fill="#2a1e58"/>
<rect x="232.7" y="319.16" width="4.28" height="8.86" fill="#0a2266"/>
<rect x="235.97" y="319.16" width="4.28" height="8.86" fill="#3a5890"/>
<rect x="239.25" y="319.16" width="4.27" height="8.86" fill="#6a80b0"/>
<rect x="242.52" y="319.16" width="7.55" height="8.86" fill="#98a8c8"/>
<rect x="249.07" y="319.16" width="4.28" height="8.86" fill="#8899be"/>
<rect x="252.35" y="319.16" width="7.55" height="8.86" fill="#7a90ba"/>
<rect x="258.9" y="319.16" width="4.28" height="8.86" fill="#8899be"/>
<rect x="262.18" y="319.16" width="4.27" height="8.86" fill="#7a90ba"/>
<rect x="265.45" y="319.16" width="10.82" height="8.86" fill="#6a80b0"/>
<rect x="275.27" y="319.16" width="4.27" height="8.86" fill="#4a6498"/>
<rect x="278.55" y="319.16" width="4.28" height="8.86" fill="#1e3a7a"/>
<rect x="281.82" y="319.16" width="4.28" height="8.86" fill="#2a1e58"/>
<rect x="285.1" y="319.16" width="4.27" height="8.86" fill="#4a1848"/>
<rect x="288.38" y="319.16" width="4.27" height="8.86" fill="#6a1840"/>
<rect x="291.65" y="319.16" width="4.27" height="8.86" fill="#3a1a50"/>
<rect x="294.92" y="319.16" width="4.28" height="8.86" fill="#1e3a7a"/>
<rect x="298.2" y="319.16" width="4.27" height="8.86" fill="#6a80b0"/>
<rect x="301.47" y="319.16" width="4.28" height="8.86" fill="#8899be"/>
<rect x="304.75" y="319.16" width="7.55" height="8.86" fill="#a8b4d0"/>
<rect x="311.3" y="319.16" width="10.83" height="8.86" fill="#a0aecc"/>
<rect x="321.12" y="319.16" width="3.27" height="8.86" fill="#8899be"/>
<rect x="206.5" y="327.02" width="4.28" height="8.86" fill="#8899be"/>
<rect x="209.78" y="327.02" width="4.28" height="8.86" fill="#7a90ba"/>
<rect x="213.05" y="327.02" width="4.27" height="8.86" fill="#2a4888"/>
<rect x="216.32" y="327.02" width="4.28" height="8.86" fill="#1a1e5c"/>
<rect x="219.6" y="327.02" width="4.28" height="8.86" fill="#2a1e58"/>
<rect x="222.88" y="327.02" width="4.28" height="8.86" fill="#3a1a50"/>
<rect x="226.15" y="327.02" width="4.28" height="8.86" fill="#5a1844"/>
<rect x="229.43" y="327.02" width="4.27" height="8.86" fill="#1a1e5c"/>
<rect x="232.7" y="327.02" width="4.28" height="8.86" fill="#0a2266"/>
<rect x="235.97" y="327.02" width="4.28" height="8.86" fill="#6a80b0"/>
<rect x="239.25" y="327.02" width="4.27" height="8.86" fill="#98a8c8"/>
<rect x="242.52" y="327.02" width="7.55" height="8.86" fill="#a0aecc"/>
<rect x="249.07" y="327.02" width="4.28" height="8.86" fill="#8899be"/>
<rect x="252.35" y="327.02" width="7.55" height="8.86" fill="#98a8c8"/>
<rect x="258.9" y="327.02" width="7.55" height="8.86" fill="#8899be"/>
<rect x="265.45" y="327.02" width="7.55" height="8.86" fill="#7a90ba"/>
<rect x="272" y="327.02" width="4.27" height="8.86" fill="#4a6498"/>
<rect x="275.27" y="327.02" width="4.27" height="8.86" fill="#3a5890"/>
<rect x="278.55" y="327.02" width="4.28" height="8.86" fill="#0a2266"/>
<rect x="281.82" y="327.02" width="4.28" height="8.86" fill="#5a1844"/>
<rect x="285.1" y="327.02" width="4.27" height="8.86" fill="#3a1a50"/>
<rect x="288.38" y="327.02" width="4.27" height="8.86" fill="#2a1e58"/>
<rect x="291.65" y="327.02" width="4.27" height="8.86" fill="#0a2266"/>
<rect x="294.92" y="327.02" width="4.28" height="8.86" fill="#3a5890"/>
<rect x="298.2" y="327.02" width="4.27" height="8.86" fill="#8899be"/>
<rect x="301.47" y="327.02" width="4.28" height="8.86" fill="#a0aecc"/>
<rect x="304.75" y="327.02" width="17.38" height="8.86" fill="#b8c2d8"/>
<rect x="321.12" y="327.02" width="3.27" height="8.86" fill="#a8b4d0"/>
<rect x="206.5" y="334.88" width="4.28" height="8.86" fill="#98a8c8"/>
<rect x="209.78" y="334.88" width="4.28" height="8.86" fill="#8899be"/>
<rect x="213.05" y="334.88" width="4.27" height="8.86" fill="#3a5890"/>
<rect x="216.32" y="334.88" width="4.28" height="8.86" fill="#1e3a7a"/>
<rect x="219.6" y="334.88" width="7.55" height="8.86" fill="#0a2266"/>
<rect x="226.15" y="334.88" width="4.28" height="8.86" fill="#1a1e5c"/>
<rect x="229.43" y="334.88" width="4.27" height="8.86" fill="#0a2266"/>
<rect x="232.7" y="334.88" width="4.28" height="8.86" fill="#2a4888"/>
<rect x="235.97" y="334.88" width="4.28" height="8.86" fill="#8899be"/>
<rect x="239.25" y="334.88" width="4.27" height="8.86" fill="#a0aecc"/>
<rect x="242.52" y="334.88" width="4.28" height="8.86" fill="#a8b4d0"/>
<rect x="245.8" y="334.88" width="4.27" height="8.86" fill="#a0aecc"/>
<rect x="249.07" y="334.88" width="4.28" height="8.86" fill="#8899be"/>
<rect x="252.35" y="334.88" width="4.28" height="8.86" fill="#7a90ba"/>
<rect x="255.62" y="334.88" width="4.27" height="8.86" fill="#98a8c8"/>
<rect x="258.9" y="334.88" width="14.1" height="8.86" fill="#a0aecc"/>
<rect x="272" y="334.88" width="4.27" height="8.86" fill="#8899be"/>
<rect x="275.27" y="334.88" width="4.27" height="8.86" fill="#4a6498"/>
<rect x="278.55" y="334.88" width="4.28" height="8.86" fill="#1e3a7a"/>
<rect x="281.82" y="334.88" width="10.82" height="8.86" fill="#0a2266"/>
<rect x="291.65" y="334.88" width="4.27" height="8.86" fill="#2a4888"/>
<rect x="294.92" y="334.88" width="4.28" height="8.86" fill="#6a80b0"/>
<rect x="298.2" y="334.88" width="4.27" height="8.86" fill="#a8b4d0"/>
<rect x="301.47" y="334.88" width="4.28" height="8.86" fill="#b8c2d8"/>
<rect x="304.75" y="334.88" width="4.27" height="8.86" fill="#c0c8dc"/>
<rect x="308.02" y="334.88" width="4.27" height="8.86" fill="#b8c2d8"/>
<rect x="311.3" y="334.88" width="7.55" height="8.86" fill="#a8b4d0"/>
<rect x="317.85" y="334.88" width="6.55" height="8.86" fill="#b8c2d8"/>
<rect x="206.5" y="342.74" width="4.28" height="8.86" fill="#a8b4d0"/>
<rect x="209.78" y="342.74" width="4.28" height="8.86" fill="#a0aecc"/>
<rect x="213.05" y="342.74" width="4.27" height="8.86" fill="#6a80b0"/>
<rect x="216.32" y="342.74" width="4.28" height="8.86" fill="#3a5890"/>
<rect x="219.6" y="342.74" width="4.28" height="8.86" fill="#2a4888"/>
<rect x="222.88" y="342.74" width="7.55" height="8.86" fill="#1e3a7a"/>
<rect x="229.43" y="342.74" width="4.27" height="8.86" fill="#3a5890"/>
<rect x="232.7" y="342.74" width="4.28" height="8.86" fill="#6a80b0"/>
<rect x="235.97" y="342.74" width="4.28" height="8.86" fill="#a8b4d0"/>
<rect x="239.25" y="342.74" width="7.55" height="8.86" fill="#c0c8dc"/>
<rect x="245.8" y="342.74" width="4.27" height="8.86" fill="#b0bcd6"/>
<rect x="249.07" y="342.74" width="4.28" height="8.86" fill="#a8b4d0"/>
<rect x="252.35" y="342.74" width="4.28" height="8.86" fill="#98a8c8"/>
<rect x="255.62" y="342.74" width="4.27" height="8.86" fill="#a8b4d0"/>
<rect x="258.9" y="342.74" width="4.28" height="8.86" fill="#b8c2d8"/>
<rect x="262.18" y="342.74" width="4.27" height="8.86" fill="#b0bcd6"/>
<rect x="265.45" y="342.74" width="7.55" height="8.86" fill="#c0c8dc"/>
<rect x="272" y="342.74" width="4.27" height="8.86" fill="#a0aecc"/>
<rect x="275.27" y="342.74" width="4.27" height="8.86" fill="#6a80b0"/>
<rect x="278.55" y="342.74" width="4.28" height="8.86" fill="#2a4888"/>
<rect x="281.82" y="342.74" width="4.28" height="8.86" fill="#0a2266"/>
<rect x="285.1" y="342.74" width="4.27" height="8.86" fill="#1e3a7a"/>
<rect x="288.38" y="342.74" width="4.27" height="8.86" fill="#0a2266"/>
<rect x="291.65" y="342.74" width="4.27" height="8.86" fill="#4a6498"/>
<rect x="294.92" y="342.74" width="4.28" height="8.86" fill="#8899be"/>
<rect x="298.2" y="342.74" width="4.27" height="8.86" fill="#c0c8dc"/>
<rect x="301.47" y="342.74" width="4.28" height="8.86" fill="#d0d6e6"/>
<rect x="304.75" y="342.74" width="7.55" height="8.86" fill="#dce0ec"/>
<rect x="311.3" y="342.74" width="4.28" height="8.86" fill="#d0d6e6"/>
<rect x="314.57" y="342.74" width="9.82" height="8.86" fill="#c8d0e2"/>
<rect x="206.5" y="350.6" width="4.28" height="8.86" fill="#c0c8dc"/>
<rect x="209.78" y="350.6" width="4.28" height="8.86" fill="#b0bcd6"/>
<rect x="213.05" y="350.6" width="4.27" height="8.86" fill="#7a90ba"/>
<rect x="216.32" y="350.6" width="4.28" height="8.86" fill="#4a6498"/>
<rect x="219.6" y="350.6" width="4.28" height="8.86" fill="#3a5890"/>
<rect x="222.88" y="350.6" width="4.28" height="8.86" fill="#1e3a7a"/>
<rect x="226.15" y="350.6" width="4.28" height="8.86" fill="#4a6498"/>
<rect x="229.43" y="350.6" width="4.27" height="8.86" fill="#6a80b0"/>
<rect x="232.7" y="350.6" width="4.28" height="8.86" fill="#98a8c8"/>
<rect x="235.97" y="350.6" width="4.28" height="8.86" fill="#c8d0e2"/>
<rect x="239.25" y="350.6" width="4.27" height="8.86" fill="#dce0ec"/>
<rect x="242.52" y="350.6" width="4.28" height="8.86" fill="#d0d6e6"/>
<rect x="245.8" y="350.6" width="4.27" height="8.86" fill="#b8c2d8"/>
<rect x="249.07" y="350.6" width="4.28" height="8.86" fill="#98a8c8"/>
<rect x="252.35" y="350.6" width="4.28" height="8.86" fill="#8899be"/>
<rect x="255.62" y="350.6" width="4.27" height="8.86" fill="#98a8c8"/>
<rect x="258.9" y="350.6" width="4.28" height="8.86" fill="#c0c8dc"/>
<rect x="262.18" y="350.6" width="4.27" height="8.86" fill="#c8d0e2"/>
<rect x="265.45" y="350.6" width="4.27" height="8.86" fill="#d0d6e6"/>
<rect x="268.72" y="350.6" width="4.28" height="8.86" fill="#c8d0e2"/>
<rect x="272" y="350.6" width="4.27" height="8.86" fill="#b0bcd6"/>
<rect x="275.27" y="350.6" width="4.27" height="8.86" fill="#8899be"/>
<rect x="278.55" y="350.6" width="4.28" height="8.86" fill="#4a6498"/>
<rect x="281.82" y="350.6" width="4.28" height="8.86" fill="#3a5890"/>
<rect x="285.1" y="350.6" width="4.27" height="8.86" fill="#2a4888"/>
<rect x="288.38" y="350.6" width="4.27" height="8.86" fill="#4a6498"/>
<rect x="291.65" y="350.6" width="4.27" height="8.86" fill="#6a80b0"/>
<rect x="294.92" y="350.6" width="4.28" height="8.86" fill="#a8b4d0"/>
<rect x="298.2" y="350.6" width="4.27" height="8.86" fill="#d0d6e6"/>
<rect x="301.47" y="350.6" width="4.28" height="8.86" fill="#dce0ec"/>
<rect x="304.75" y="350.6" width="4.27" height="8.86" fill="#e4e8f0"/>
<rect x="308.02" y="350.6" width="7.55" height="8.86" fill="#dce0ec"/>
<rect x="314.57" y="350.6" width="7.55" height="8.86" fill="#d0d6e6"/>
<rect x="321.12" y="350.6" width="3.27" height="8.86" fill="#c8d0e2"/>
<rect x="206.5" y="358.46" width="4.28" height="8.86" fill="#dce0ec"/>
<rect x="209.78" y="358.46" width="4.28" height="8.86" fill="#c0c8dc"/>
<rect x="213.05" y="358.46" width="4.27" height="8.86" fill="#98a8c8"/>
<rect x="216.32" y="358.46" width="4.28" height="8.86" fill="#6a80b0"/>
<rect x="219.6" y="358.46" width="7.55" height="8.86" fill="#5a72a6"/>
<rect x="226.15" y="358.46" width="4.28" height="8.86" fill="#7086b4"/>
<rect x="229.43" y="358.46" width="4.27" height="8.86" fill="#98a8c8"/>
<rect x="232.7" y="358.46" width="4.28" height="8.86" fill="#c8d0e2"/>
<rect x="235.97" y="358.46" width="7.55" height="8.86" fill="#e4e8f0"/>
<rect x="242.52" y="358.46" width="4.28" height="8.86" fill="#d0d6e6"/>
<rect x="245.8" y="358.46" width="4.27" height="8.86" fill="#b8c2d8"/>
<rect x="249.07" y="358.46" width="4.28" height="8.86" fill="#a8b4d0"/>
<rect x="252.35" y="358.46" width="4.28" height="8.86" fill="#b0bcd6"/>
<rect x="255.62" y="358.46" width="4.27" height="8.86" fill="#c8d0e2"/>
<rect x="258.9" y="358.46" width="7.55" height="8.86" fill="#d0d6e6"/>
<rect x="265.45" y="358.46" width="4.27" height="8.86" fill="#dce0ec"/>
<rect x="268.72" y="358.46" width="4.28" height="8.86" fill="#f4f5fa"/>
<rect x="272" y="358.46" width="4.27" height="8.86" fill="#dce0ec"/>
<rect x="275.27" y="358.46" width="4.27" height="8.86" fill="#b8c2d8"/>
<rect x="278.55" y="358.46" width="7.55" height="8.86" fill="#8899be"/>
<rect x="285.1" y="358.46" width="4.27" height="8.86" fill="#7a90ba"/>
<rect x="288.38" y="358.46" width="4.27" height="8.86" fill="#8899be"/>
<rect x="291.65" y="358.46" width="4.27" height="8.86" fill="#a8b4d0"/>
<rect x="294.92" y="358.46" width="4.28" height="8.86" fill="#c8d0e2"/>
<rect x="298.2" y="358.46" width="4.27" height="8.86" fill="#dce0ec"/>
<rect x="301.47" y="358.46" width="7.55" height="8.86" fill="#e4e8f0"/>
<rect x="308.02" y="358.46" width="4.27" height="8.86" fill="#dce0ec"/>
<rect x="311.3" y="358.46" width="4.28" height="8.86" fill="#d0d6e6"/>
<rect x="314.57" y="358.46" width="4.27" height="8.86" fill="#dce0ec"/>
<rect x="317.85" y="358.46" width="6.55" height="8.86" fill="#c8d0e2"/>
<rect x="206.5" y="366.32" width="4.28" height="8.86" fill="#e4e8f0"/>
<rect x="209.78" y="366.32" width="4.28" height="8.86" fill="#c8d0e2"/>
<rect x="213.05" y="366.32" width="4.27" height="8.86" fill="#a8b4d0"/>
<rect x="216.32" y="366.32" width="4.28" height="8.86" fill="#8899be"/>
<rect x="219.6" y="366.32" width="4.28" height="8.86" fill="#7a90ba"/>
<rect x="222.88" y="366.32" width="4.28" height="8.86" fill="#6a80b0"/>
<rect x="226.15" y="366.32" width="4.28" height="8.86" fill="#7a90ba"/>
<rect x="229.43" y="366.32" width="4.27" height="8.86" fill="#a8b4d0"/>
<rect x="232.7" y="366.32" width="4.28" height="8.86" fill="#d0d6e6"/>
<rect x="235.97" y="366.32" width="4.28" height="8.86" fill="#e4e8f0"/>
<rect x="239.25" y="366.32" width="4.27" height="8.86" fill="#eeeff5"/>
<rect x="242.52" y="366.32" width="4.28" height="8.86" fill="#dce0ec"/>
<rect x="245.8" y="366.32" width="4.27" height="8.86" fill="#c8d0e2"/>
<rect x="249.07" y="366.32" width="4.28" height="8.86" fill="#b8c2d8"/>
<rect x="252.35" y="366.32" width="4.28" height="8.86" fill="#b0bcd6"/>
<rect x="255.62" y="366.32" width="4.27" height="8.86" fill="#c0c8dc"/>
<rect x="258.9" y="366.32" width="4.28" height="8.86" fill="#dce0ec"/>
<rect x="262.18" y="366.32" width="4.27" height="8.86" fill="#e4e8f0"/>
<rect x="265.45" y="366.32" width="7.55" height="8.86" fill="#eeeff5"/>
<rect x="272" y="366.32" width="4.27" height="8.86" fill="#dce0ec"/>
<rect x="275.27" y="366.32" width="4.27" height="8.86" fill="#c8d0e2"/>
<rect x="278.55" y="366.32" width="4.28" height="8.86" fill="#b0bcd6"/>
<rect x="281.82" y="366.32" width="4.28" height="8.86" fill="#7a90ba"/>
<rect x="285.1" y="366.32" width="4.27" height="8.86" fill="#8899be"/>
<rect x="288.38" y="366.32" width="4.27" height="8.86" fill="#98a8c8"/>
<rect x="291.65" y="366.32" width="4.27" height="8.86" fill="#c0c8dc"/>
<rect x="294.92" y="366.32" width="4.28" height="8.86" fill="#dce0ec"/>
<rect x="298.2" y="366.32" width="4.27" height="8.86" fill="#e4e8f0"/>
<rect x="301.47" y="366.32" width="4.28" height="8.86" fill="#eeeff5"/>
<rect x="304.75" y="366.32" width="4.27" height="8.86" fill="#f4f5fa"/>
<rect x="308.02" y="366.32" width="4.27" height="8.86" fill="#eeeff5"/>
<rect x="311.3" y="366.32" width="4.28" height="8.86" fill="#e4e8f0"/>
<rect x="314.57" y="366.32" width="4.27" height="8.86" fill="#dce0ec"/>
<rect x="317.85" y="366.32" width="4.28" height="8.86" fill="#d0d6e6"/>
<rect x="321.12" y="366.32" width="3.27" height="8.86" fill="#c8d0e2"/>
<rect x="206.5" y="374.18" width="4.28" height="8.86" fill="#e4e8f0"/>
<rect x="209.78" y="374.18" width="4.28" height="8.86" fill="#dce0ec"/>
<rect x="213.05" y="374.18" width="4.27" height="8.86" fill="#b0bcd6"/>
<rect x="216.32" y="374.18" width="7.55" height="8.86" fill="#a8b4d0"/>
<rect x="222.88" y="374.18" width="7.55" height="8.86" fill="#98a8c8"/>
<rect x="229.43" y="374.18" width="4.27" height="8.86" fill="#a8b4d0"/>
<rect x="232.7" y="374.18" width="4.28" height="8.86" fill="#d0d6e6"/>
<rect x="235.97" y="374.18" width="7.55" height="8.86" fill="#dce0ec"/>
<rect x="242.52" y="374.18" width="4.28" height="8.86" fill="#e4e8f0"/>
<rect x="245.8" y="374.18" width="4.27" height="8.86" fill="#b8c2d8"/>
<rect x="249.07" y="374.18" width="4.28" height="8.86" fill="#a0aecc"/>
<rect x="252.35" y="374.18" width="4.28" height="8.86" fill="#98a8c8"/>
<rect x="255.62" y="374.18" width="4.27" height="8.86" fill="#a8b4d0"/>
<rect x="258.9" y="374.18" width="4.28" height="8.86" fill="#b8c2d8"/>
<rect x="262.18" y="374.18" width="4.27" height="8.86" fill="#c8d0e2"/>
<rect x="265.45" y="374.18" width="10.82" height="8.86" fill="#d0d6e6"/>
<rect x="275.27" y="374.18" width="4.27" height="8.86" fill="#c0c8dc"/>
<rect x="278.55" y="374.18" width="4.28" height="8.86" fill="#b0bcd6"/>
<rect x="281.82" y="374.18" width="4.28" height="8.86" fill="#a8b4d0"/>
<rect x="285.1" y="374.18" width="4.27" height="8.86" fill="#98a8c8"/>
<rect x="288.38" y="374.18" width="4.27" height="8.86" fill="#a8b4d0"/>
<rect x="291.65" y="374.18" width="4.27" height="8.86" fill="#c0c8dc"/>
<rect x="294.92" y="374.18" width="4.28" height="8.86" fill="#d0d6e6"/>
<rect x="298.2" y="374.18" width="4.27" height="8.86" fill="#dce0ec"/>
<rect x="301.47" y="374.18" width="4.28" height="8.86" fill="#e4e8f0"/>
<rect x="304.75" y="374.18" width="4.27" height="8.86" fill="#dce0ec"/>
<rect x="308.02" y="374.18" width="10.82" height="8.86" fill="#d0d6e6"/>
<rect x="317.85" y="374.18" width="6.55" height="8.86" fill="#c8d0e2"/>
<rect x="206.5" y="382.04" width="4.28" height="8.86" fill="#c8d0e2"/>
<rect x="209.78" y="382.04" width="4.28" height="8.86" fill="#c0c8dc"/>
<rect x="213.05" y="382.04" width="4.27" height="8.86" fill="#b0bcd6"/>
<rect x="216.32" y="382.04" width="4.28" height="8.86" fill="#98a8c8"/>
<rect x="219.6" y="382.04" width="7.55" height="8.86" fill="#8899be"/>
<rect x="226.15" y="382.04" width="4.28" height="8.86" fill="#98a8c8"/>
<rect x="229.43" y="382.04" width="4.27" height="8.86" fill="#b0bcd6"/>
<rect x="232.7" y="382.04" width="4.28" height="8.86" fill="#c0c8dc"/>
<rect x="235.97" y="382.04" width="7.55" height="8.86" fill="#d0d6e6"/>
<rect x="242.52" y="382.04" width="4.28" height="8.86" fill="#b8c2d8"/>
<rect x="245.8" y="382.04" width="4.27" height="8.86" fill="#98a8c8"/>
<rect x="249.07" y="382.04" width="4.28" height="8.86" fill="#7a90ba"/>
<rect x="252.35" y="382.04" width="7.55" height="8.86" fill="#6a80b0"/>
<rect x="258.9" y="382.04" width="4.28" height="8.86" fill="#7a90ba"/>
<rect x="262.18" y="382.04" width="4.27" height="8.86" fill="#a0aecc"/>
<rect x="265.45" y="382.04" width="4.27" height="8.86" fill="#b0bcd6"/>
<rect x="268.72" y="382.04" width="4.28" height="8.86" fill="#c0c8dc"/>
<rect x="272" y="382.04" width="4.27" height="8.86" fill="#c8d0e2"/>
<rect x="275.27" y="382.04" width="4.27" height="8.86" fill="#b8c2d8"/>
<rect x="278.55" y="382.04" width="4.28" height="8.86" fill="#98a8c8"/>
<rect x="281.82" y="382.04" width="7.55" height="8.86" fill="#7a90ba"/>
<rect x="288.38" y="382.04" width="4.27" height="8.86" fill="#8899be"/>
<rect x="291.65" y="382.04" width="4.27" height="8.86" fill="#a8b4d0"/>
<rect x="294.92" y="382.04" width="4.28" height="8.86" fill="#c0c8dc"/>
<rect x="298.2" y="382.04" width="4.27" height="8.86" fill="#c8d0e2"/>
<rect x="301.47" y="382.04" width="4.28" height="8.86" fill="#c0c8dc"/>
<rect x="304.75" y="382.04" width="4.27" height="8.86" fill="#b0bcd6"/>
<rect x="308.02" y="382.04" width="7.55" height="8.86" fill="#a8b4d0"/>
<rect x="314.57" y="382.04" width="4.27" height="8.86" fill="#a0aecc"/>
<rect x="317.85" y="382.04" width="4.28" height="8.86" fill="#a8b4d0"/>
<rect x="321.12" y="382.04" width="3.27" height="8.86" fill="#b0bcd6"/>
<rect x="206.5" y="389.9" width="4.28" height="8.86" fill="#b8c2d8"/>
<rect x="209.78" y="389.9" width="4.28" height="8.86" fill="#a8b4d0"/>
<rect x="213.05" y="389.9" width="4.27" height="8.86" fill="#98a8c8"/>
<rect x="216.32" y="389.9" width="10.83" height="8.86" fill="#8899be"/>
<rect x="226.15" y="389.9" width="4.28" height="8.86" fill="#98a8c8"/>
<rect x="229.43" y="389.9" width="4.27" height="8.86" fill="#a8b4d0"/>
<rect x="232.7" y="389.9" width="4.28" height="8.86" fill="#b8c2d8"/>
<rect x="235.97" y="389.9" width="4.28" height="8.86" fill="#c8d0e2"/>
<rect x="239.25" y="389.9" width="4.27" height="8.86" fill="#c0c8dc"/>
<rect x="242.52" y="389.9" width="4.28" height="8.86" fill="#a8b4d0"/>
<rect x="245.8" y="389.9" width="4.27" height="8.86" fill="#7a90ba"/>
<rect x="249.07" y="389.9" width="4.28" height="8.86" fill="#5a72a6"/>
<rect x="252.35" y="389.9" width="7.55" height="8.86" fill="#4a6498"/>
<rect x="258.9" y="389.9" width="4.28" height="8.86" fill="#5a72a6"/>
<rect x="262.18" y="389.9" width="4.27" height="8.86" fill="#8899be"/>
<rect x="265.45" y="389.9" width="4.27" height="8.86" fill="#a8b4d0"/>
<rect x="268.72" y="389.9" width="4.28" height="8.86" fill="#b0bcd6"/>
<rect x="272" y="389.9" width="4.27" height="8.86" fill="#c0c8dc"/>
<rect x="275.27" y="389.9" width="4.27" height="8.86" fill="#c8d0e2"/>
<rect x="278.55" y="389.9" width="4.28" height="8.86" fill="#a8b4d0"/>
<rect x="281.82" y="389.9" width="10.82" height="8.86" fill="#8899be"/>
<rect x="291.65" y="389.9" width="4.27" height="8.86" fill="#98a8c8"/>
<rect x="294.92" y="389.9" width="4.28" height="8.86" fill="#a8b4d0"/>
<rect x="298.2" y="389.9" width="7.55" height="8.86" fill="#b0bcd6"/>
<rect x="304.75" y="389.9" width="4.27" height="8.86" fill="#a0aecc"/>
<rect x="308.02" y="389.9" width="7.55" height="8.86" fill="#98a8c8"/>
<rect x="314.57" y="389.9" width="4.27" height="8.86" fill="#8899be"/>
<rect x="317.85" y="389.9" width="4.28" height="8.86" fill="#98a8c8"/>
<rect x="321.12" y="389.9" width="3.27" height="8.86" fill="#a8b4d0"/>
<rect x="206.5" y="397.76" width="7.55" height="8.86" fill="#8899be"/>
<rect x="213.05" y="397.76" width="4.27" height="8.86" fill="#98a8c8"/>
<rect x="216.32" y="397.76" width="4.28" height="8.86" fill="#8899be"/>
<rect x="219.6" y="397.76" width="4.28" height="8.86" fill="#5a72a6"/>
<rect x="222.88" y="397.76" width="7.55" height="8.86" fill="#8899be"/>
<rect x="229.43" y="397.76" width="4.27" height="8.86" fill="#98a8c8"/>
<rect x="232.7" y="397.76" width="7.55" height="8.86" fill="#a8b4d0"/>
<rect x="239.25" y="397.76" width="4.27" height="8.86" fill="#98a8c8"/>
<rect x="242.52" y="397.76" width="4.28" height="8.86" fill="#8899be"/>
<rect x="245.8" y="397.76" width="4.27" height="8.86" fill="#4a6498"/>
<rect x="249.07" y="397.76" width="4.28" height="8.86" fill="#2a4888"/>
<rect x="252.35" y="397.76" width="4.28" height="8.86" fill="#2a1e58"/>
<rect x="255.62" y="397.76" width="7.55" height="8.86" fill="#0a2266"/>
<rect x="262.18" y="397.76" width="4.27" height="8.86" fill="#3a5890"/>
<rect x="265.45" y="397.76" width="4.27" height="8.86" fill="#8899be"/>
<rect x="268.72" y="397.76" width="4.28" height="8.86" fill="#a0aecc"/>
<rect x="272" y="397.76" width="7.55" height="8.86" fill="#a8b4d0"/>
<rect x="278.55" y="397.76" width="4.28" height="8.86" fill="#98a8c8"/>
<rect x="281.82" y="397.76" width="4.28" height="8.86" fill="#8899be"/>
<rect x="285.1" y="397.76" width="4.27" height="8.86" fill="#7a90ba"/>
<rect x="288.38" y="397.76" width="4.27" height="8.86" fill="#6a80b0"/>
<rect x="291.65" y="397.76" width="4.27" height="8.86" fill="#7a90ba"/>
<rect x="294.92" y="397.76" width="4.28" height="8.86" fill="#8899be"/>
<rect x="298.2" y="397.76" width="4.27" height="8.86" fill="#a0aecc"/>
<rect x="301.47" y="397.76" width="4.28" height="8.86" fill="#8899be"/>
<rect x="304.75" y="397.76" width="4.27" height="8.86" fill="#7a90ba"/>
<rect x="308.02" y="397.76" width="4.27" height="8.86" fill="#6a80b0"/>
<rect x="311.3" y="397.76" width="7.55" height="8.86" fill="#5a72a6"/>
<rect x="317.85" y="397.76" width="4.28" height="8.86" fill="#7a90ba"/>
<rect x="321.12" y="397.76" width="3.27" height="8.86" fill="#a0aecc"/>
<rect x="206.5" y="405.62" width="14.1" height="7.86" fill="#6a80b0"/>
<rect x="219.6" y="405.62" width="4.28" height="7.86" fill="#5a72a6"/>
<rect x="222.88" y="405.62" width="4.28" height="7.86" fill="#4a6498"/>
<rect x="226.15" y="405.62" width="4.28" height="7.86" fill="#5a72a6"/>
<rect x="229.43" y="405.62" width="4.27" height="7.86" fill="#6a80b0"/>
<rect x="232.7" y="405.62" width="4.28" height="7.86" fill="#7a90ba"/>
<rect x="235.97" y="405.62" width="4.28" height="7.86" fill="#8899be"/>
<rect x="239.25" y="405.62" width="4.27" height="7.86" fill="#6a80b0"/>
<rect x="242.52" y="405.62" width="4.28" height="7.86" fill="#3a5890"/>
<rect x="245.8" y="405.62" width="4.27" height="7.86" fill="#1e3a7a"/>
<rect x="249.07" y="405.62" width="4.28" height="7.86" fill="#0a2266"/>
<rect x="252.35" y="405.62" width="7.55" height="7.86" fill="#4a1848"/>
<rect x="258.9" y="405.62" width="4.28" height="7.86" fill="#3a1a50"/>
<rect x="262.18" y="405.62" width="4.27" height="7.86" fill="#0a2266"/>
<rect x="265.45" y="405.62" width="4.27" height="7.86" fill="#4a6498"/>
<rect x="268.72" y="405.62" width="4.28" height="7.86" fill="#8899be"/>
<rect x="272" y="405.62" width="7.55" height="7.86" fill="#98a8c8"/>
<rect x="278.55" y="405.62" width="7.55" height="7.86" fill="#8899be"/>
<rect x="285.1" y="405.62" width="7.55" height="7.86" fill="#6a80b0"/>
<rect x="291.65" y="405.62" width="7.55" height="7.86" fill="#5a72a6"/>
<rect x="298.2" y="405.62" width="4.27" height="7.86" fill="#4a6498"/>
<rect x="301.47" y="405.62" width="4.28" height="7.86" fill="#3a5890"/>
<rect x="304.75" y="405.62" width="4.27" height="7.86" fill="#2a4888"/>
<rect x="308.02" y="405.62" width="16.38" height="7.86" fill="#0a2266"/>
<line x1="207.1" y1="370.25" x2="324.4" y2="370.25" stroke="#1a1a1a" stroke-width="1.15" stroke-dasharray="3 2.5"/>
<rect x="206.5" y="311.3" width="117.9" height="117.9" fill="none" stroke="#333" stroke-width="1"/>
<path d="M206.5 425.27h3.8M324.4 425.27h-3.8M206.5 417.41h7M324.4 417.41h-7M206.5 409.55h3.8M324.4 409.55h-3.8M206.5 401.69h7M324.4 401.69h-7M206.5 393.83h3.8M324.4 393.83h-3.8M206.5 385.97h7M324.4 385.97h-7M206.5 378.11h3.8M324.4 378.11h-3.8M206.5 370.25h7M324.4 370.25h-7M206.5 362.39h3.8M324.4 362.39h-3.8M206.5 354.53h7M324.4 354.53h-7M206.5 346.67h3.8M324.4 346.67h-3.8M206.5 338.81h7M324.4 338.81h-7M206.5 330.95h3.8M324.4 330.95h-3.8M206.5 323.09h7M324.4 323.09h-7M206.5 315.23h3.8M324.4 315.23h-3.8M221.24 429.2v-3.8M221.24 311.3v3.8M235.97 429.2v-7M235.97 311.3v7M250.71 429.2v-3.8M250.71 311.3v3.8M265.45 429.2v-7M265.45 311.3v7M280.19 429.2v-3.8M280.19 311.3v3.8M294.92 429.2v-7M294.92 311.3v7M309.66 429.2v-3.8M309.66 311.3v3.8" stroke="#1a1a1a" stroke-width="1" fill="none"/>
<text x="198.6" y="421.01" font-size="9.7" text-anchor="end" font-weight="normal" fill="#1a1a1a" >-6</text>
<text x="198.6" y="405.29" font-size="9.7" text-anchor="end" font-weight="normal" fill="#1a1a1a" >-4</text>
<text x="198.6" y="389.57" font-size="9.7" text-anchor="end" font-weight="normal" fill="#1a1a1a" >-2</text>
<text x="198.6" y="373.85" font-size="9.7" text-anchor="end" font-weight="normal" fill="#1a1a1a" >0</text>
<text x="198.6" y="358.13" font-size="9.7" text-anchor="end" font-weight="normal" fill="#1a1a1a" >2</text>
<text x="198.6" y="342.41" font-size="9.7" text-anchor="end" font-weight="normal" fill="#1a1a1a" >4</text>
<text x="198.6" y="326.69" font-size="9.7" text-anchor="end" font-weight="normal" fill="#1a1a1a" >6</text>
<text x="206.5" y="445" font-size="9.7" text-anchor="middle" font-weight="normal" fill="#1a1a1a" >0</text>
<text x="235.97" y="445" font-size="9.7" text-anchor="middle" font-weight="normal" fill="#1a1a1a" >90</text>
<text x="265.45" y="445" font-size="9.7" text-anchor="middle" font-weight="normal" fill="#1a1a1a" >180</text>
<text x="294.92" y="445" font-size="9.7" text-anchor="middle" font-weight="normal" fill="#1a1a1a" >270</text>
<text x="324.4" y="445" font-size="9.7" text-anchor="middle" font-weight="normal" fill="#1a1a1a" >360</text>
<text x="262.85" y="463" font-size="9.7" text-anchor="middle" font-weight="normal" fill="#1a1a1a" >Orientation (°)</text>
<text transform="translate(184.2 370.25) rotate(-90)" font-size="9.7" text-anchor="middle" fill="#1a1a1a"><tspan font-style="italic">B</tspan> (T)</text>
<text x="176.3" y="314.7" font-size="9.7" text-anchor="start" font-weight="bold" fill="#000" >d</text>
<rect x="382.8" y="311.3" width="4.27" height="8.86" fill="#3a1a50"/>
<rect x="386.07" y="311.3" width="7.55" height="8.86" fill="#a01428"/>
<rect x="392.62" y="311.3" width="4.28" height="8.86" fill="#8a1434"/>
<rect x="395.9" y="311.3" width="4.27" height="8.86" fill="#0a2266"/>
<rect x="399.18" y="311.3" width="4.27" height="8.86" fill="#98a8c8"/>
<rect x="402.45" y="311.3" width="4.28" height="8.86" fill="#e4e8f0"/>
<rect x="405.73" y="311.3" width="4.27" height="8.86" fill="#dce0ec"/>
<rect x="409" y="311.3" width="4.27" height="8.86" fill="#6a80b0"/>
<rect x="412.27" y="311.3" width="4.28" height="8.86" fill="#1a1e5c"/>
<rect x="415.55" y="311.3" width="7.55" height="8.86" fill="#c00a20"/>
<rect x="422.1" y="311.3" width="4.27" height="8.86" fill="#8a1434"/>
<rect x="425.38" y="311.3" width="4.27" height="8.86" fill="#0a2266"/>
<rect x="428.65" y="311.3" width="4.28" height="8.86" fill="#93a4c5"/>
<rect x="431.93" y="311.3" width="4.27" height="8.86" fill="#e4e8f0"/>
<rect x="435.2" y="311.3" width="4.28" height="8.86" fill="#dce0ec"/>
<rect x="438.48" y="311.3" width="4.27" height="8.86" fill="#8295bc"/>
<rect x="441.75" y="311.3" width="4.27" height="8.86" fill="#0a2266"/>
<rect x="445.02" y="311.3" width="4.28" height="8.86" fill="#5a1844"/>
<rect x="448.3" y="311.3" width="4.27" height="8.86" fill="#c00a20"/>
<rect x="451.57" y="311.3" width="4.28" height="8.86" fill="#8a1434"/>
<rect x="454.85" y="311.3" width="4.27" height="8.86" fill="#0a2266"/>
<rect x="458.12" y="311.3" width="4.27" height="8.86" fill="#b0bcd6"/>
<rect x="461.4" y="311.3" width="7.55" height="8.86" fill="#e4e8f0"/>
<rect x="467.95" y="311.3" width="4.28" height="8.86" fill="#7a90ba"/>
<rect x="471.23" y="311.3" width="4.27" height="8.86" fill="#1a1e5c"/>
<rect x="474.5" y="311.3" width="4.27" height="8.86" fill="#8a1434"/>
<rect x="477.77" y="311.3" width="4.28" height="8.86" fill="#c00a20"/>
<rect x="481.05" y="311.3" width="4.27" height="8.86" fill="#6a1840"/>
<rect x="484.32" y="311.3" width="4.28" height="8.86" fill="#0a2266"/>
<rect x="487.6" y="311.3" width="4.27" height="8.86" fill="#93a4c5"/>
<rect x="490.88" y="311.3" width="7.55" height="8.86" fill="#e4e8f0"/>
<rect x="497.43" y="311.3" width="3.27" height="8.86" fill="#8899be"/>
<rect x="382.8" y="319.16" width="4.27" height="8.86" fill="#2a4888"/>
<rect x="386.07" y="319.16" width="4.28" height="8.86" fill="#5a1844"/>
<rect x="389.35" y="319.16" width="4.27" height="8.86" fill="#8a1434"/>
<rect x="392.62" y="319.16" width="4.28" height="8.86" fill="#6a1840"/>
<rect x="395.9" y="319.16" width="4.27" height="8.86" fill="#2a4888"/>
<rect x="399.18" y="319.16" width="4.27" height="8.86" fill="#a0aecc"/>
<rect x="402.45" y="319.16" width="4.28" height="8.86" fill="#f8f8fc"/>
<rect x="405.73" y="319.16" width="4.27" height="8.86" fill="#dce0ec"/>
<rect x="409" y="319.16" width="4.27" height="8.86" fill="#4a6498"/>
<rect x="412.27" y="319.16" width="4.28" height="8.86" fill="#0a2266"/>
<rect x="415.55" y="319.16" width="4.27" height="8.86" fill="#6a1840"/>
<rect x="418.82" y="319.16" width="4.28" height="8.86" fill="#8a1434"/>
<rect x="422.1" y="319.16" width="4.27" height="8.86" fill="#6a1840"/>
<rect x="425.38" y="319.16" width="4.27" height="8.86" fill="#1e3a7a"/>
<rect x="428.65" y="319.16" width="4.28" height="8.86" fill="#93a4c5"/>
<rect x="431.93" y="319.16" width="4.27" height="8.86" fill="#eeeff5"/>
<rect x="435.2" y="319.16" width="4.28" height="8.86" fill="#dce0ec"/>
<rect x="438.48" y="319.16" width="4.27" height="8.86" fill="#8295bc"/>
<rect x="441.75" y="319.16" width="4.27" height="8.86" fill="#0a2266"/>
<rect x="445.02" y="319.16" width="4.28" height="8.86" fill="#4a1848"/>
<rect x="448.3" y="319.16" width="4.27" height="8.86" fill="#6a1840"/>
<rect x="451.57" y="319.16" width="4.28" height="8.86" fill="#1a1e5c"/>
<rect x="454.85" y="319.16" width="4.27" height="8.86" fill="#2a4888"/>
<rect x="458.12" y="319.16" width="4.27" height="8.86" fill="#b0bcd6"/>
<rect x="461.4" y="319.16" width="4.28" height="8.86" fill="#e4e8f0"/>
<rect x="464.68" y="319.16" width="4.27" height="8.86" fill="#dce0ec"/>
<rect x="467.95" y="319.16" width="4.28" height="8.86" fill="#6a80b0"/>
<rect x="471.23" y="319.16" width="4.27" height="8.86" fill="#0a2266"/>
<rect x="474.5" y="319.16" width="4.27" height="8.86" fill="#4a1848"/>
<rect x="477.77" y="319.16" width="4.28" height="8.86" fill="#5a1844"/>
<rect x="481.05" y="319.16" width="4.27" height="8.86" fill="#3a1a50"/>
<rect x="484.32" y="319.16" width="4.28" height="8.86" fill="#0a2266"/>
<rect x="487.6" y="319.16" width="4.27" height="8.86" fill="#93a4c5"/>
<rect x="490.88" y="319.16" width="7.55" height="8.86" fill="#e4e8f0"/>
<rect x="497.43" y="319.16" width="3.27" height="8.86" fill="#8899be"/>
<rect x="382.8" y="327.02" width="4.27" height="8.86" fill="#1e3a7a"/>
<rect x="386.07" y="327.02" width="4.28" height="8.86" fill="#8a1434"/>
<rect x="389.35" y="327.02" width="4.27" height="8.86" fill="#c00a20"/>
<rect x="392.62" y="327.02" width="4.28" height="8.86" fill="#8a1434"/>
<rect x="395.9" y="327.02" width="4.27" height="8.86" fill="#0a2266"/>
<rect x="399.18" y="327.02" width="4.27" height="8.86" fill="#a0aecc"/>
<rect x="402.45" y="327.02" width="4.28" height="8.86" fill="#eeeff5"/>
<rect x="405.73" y="327.02" width="4.27" height="8.86" fill="#dce0ec"/>
<rect x="409" y="327.02" width="4.27" height="8.86" fill="#8295bc"/>
<rect x="412.27" y="327.02" width="4.28" height="8.86" fill="#2a1e58"/>
<rect x="415.55" y="327.02" width="4.27" height="8.86" fill="#c00a20"/>
<rect x="418.82" y="327.02" width="4.28" height="8.86" fill="#d00a1e"/>
<rect x="422.1" y="327.02" width="4.27" height="8.86" fill="#a01428"/>
<rect x="425.38" y="327.02" width="4.27" height="8.86" fill="#0a2266"/>
<rect x="428.65" y="327.02" width="4.28" height="8.86" fill="#93a4c5"/>
<rect x="431.93" y="327.02" width="4.27" height="8.86" fill="#eeeff5"/>
<rect x="435.2" y="327.02" width="4.28" height="8.86" fill="#e4e8f0"/>
<rect x="438.48" y="327.02" width="4.27" height="8.86" fill="#8295bc"/>
<rect x="441.75" y="327.02" width="4.27" height="8.86" fill="#0a2266"/>
<rect x="445.02" y="327.02" width="4.28" height="8.86" fill="#8a1434"/>
<rect x="448.3" y="327.02" width="4.27" height="8.86" fill="#c00a20"/>
<rect x="451.57" y="327.02" width="4.28" height="8.86" fill="#8a1434"/>
<rect x="454.85" y="327.02" width="4.27" height="8.86" fill="#0a2266"/>
<rect x="458.12" y="327.02" width="4.27" height="8.86" fill="#a8b4d0"/>
<rect x="461.4" y="327.02" width="7.55" height="8.86" fill="#dce0ec"/>
<rect x="467.95" y="327.02" width="4.28" height="8.86" fill="#7a90ba"/>
<rect x="471.23" y="327.02" width="4.27" height="8.86" fill="#0a2266"/>
<rect x="474.5" y="327.02" width="4.27" height="8.86" fill="#8a1434"/>
<rect x="477.77" y="327.02" width="4.28" height="8.86" fill="#a01428"/>
<rect x="481.05" y="327.02" width="4.27" height="8.86" fill="#8a1434"/>
<rect x="484.32" y="327.02" width="4.28" height="8.86" fill="#0a2266"/>
<rect x="487.6" y="327.02" width="4.27" height="8.86" fill="#93a4c5"/>
<rect x="490.88" y="327.02" width="7.55" height="8.86" fill="#e4e8f0"/>
<rect x="497.43" y="327.02" width="3.27" height="8.86" fill="#8899be"/>
<rect x="382.8" y="334.88" width="4.27" height="8.86" fill="#2a1e58"/>
<rect x="386.07" y="334.88" width="4.28" height="8.86" fill="#a01428"/>
<rect x="389.35" y="334.88" width="4.27" height="8.86" fill="#c00a20"/>
<rect x="392.62" y="334.88" width="4.28" height="8.86" fill="#8a1434"/>
<rect x="395.9" y="334.88" width="4.27" height="8.86" fill="#0a2266"/>
<rect x="399.18" y="334.88" width="4.27" height="8.86" fill="#a0aecc"/>
<rect x="402.45" y="334.88" width="4.28" height="8.86" fill="#eeeff5"/>
<rect x="405.73" y="334.88" width="4.27" height="8.86" fill="#e4e8f0"/>
<rect x="409" y="334.88" width="4.27" height="8.86" fill="#8295bc"/>
<rect x="412.27" y="334.88" width="4.28" height="8.86" fill="#3a1a50"/>
<rect x="415.55" y="334.88" width="4.27" height="8.86" fill="#c00a20"/>
<rect x="418.82" y="334.88" width="4.28" height="8.86" fill="#d00a1e"/>
<rect x="422.1" y="334.88" width="4.27" height="8.86" fill="#a01428"/>
<rect x="425.38" y="334.88" width="4.27" height="8.86" fill="#0a2266"/>
<rect x="428.65" y="334.88" width="4.28" height="8.86" fill="#93a4c5"/>
<rect x="431.93" y="334.88" width="4.27" height="8.86" fill="#e4e8f0"/>
<rect x="435.2" y="334.88" width="4.28" height="8.86" fill="#dce0ec"/>
<rect x="438.48" y="334.88" width="4.27" height="8.86" fill="#8295bc"/>
<rect x="441.75" y="334.88" width="4.27" height="8.86" fill="#0a2266"/>
<rect x="445.02" y="334.88" width="4.28" height="8.86" fill="#a01428"/>
<rect x="448.3" y="334.88" width="4.27" height="8.86" fill="#d00a1e"/>
<rect x="451.57" y="334.88" width="4.28" height="8.86" fill="#a01428"/>
<rect x="454.85" y="334.88" width="4.27" height="8.86" fill="#0a2266"/>
<rect x="458.12" y="334.88" width="4.27" height="8.86" fill="#b0bcd6"/>
<rect x="461.4" y="334.88" width="7.55" height="8.86" fill="#eeeff5"/>
<rect x="467.95" y="334.88" width="4.28" height="8.86" fill="#7a90ba"/>
<rect x="471.23" y="334.88" width="4.27" height="8.86" fill="#0a2266"/>
<rect x="474.5" y="334.88" width="4.27" height="8.86" fill="#c00a20"/>
<rect x="477.77" y="334.88" width="4.28" height="8.86" fill="#e00010"/>
<rect x="481.05" y="334.88" width="4.27" height="8.86" fill="#a01428"/>
<rect x="484.32" y="334.88" width="4.28" height="8.86" fill="#0a2266"/>
<rect x="487.6" y="334.88" width="4.27" height="8.86" fill="#93a4c5"/>
<rect x="490.88" y="334.88" width="4.27" height="8.86" fill="#eeeff5"/>
<rect x="494.15" y="334.88" width="4.28" height="8.86" fill="#e4e8f0"/>
<rect x="497.43" y="334.88" width="3.27" height="8.86" fill="#8899be"/>
<rect x="382.8" y="342.74" width="4.27" height="8.86" fill="#3a1a50"/>
<rect x="386.07" y="342.74" width="7.55" height="8.86" fill="#d00a1e"/>
<rect x="392.62" y="342.74" width="4.28" height="8.86" fill="#a01428"/>
<rect x="395.9" y="342.74" width="4.27" height="8.86" fill="#0a2266"/>
<rect x="399.18" y="342.74" width="4.27" height="8.86" fill="#a0aecc"/>
<rect x="402.45" y="342.74" width="7.55" height="8.86" fill="#e4e8f0"/>
<rect x="409" y="342.74" width="4.27" height="8.86" fill="#8295bc"/>
<rect x="412.27" y="342.74" width="4.28" height="8.86" fill="#3a1a50"/>
<rect x="415.55" y="342.74" width="7.55" height="8.86" fill="#d00a1e"/>
<rect x="422.1" y="342.74" width="4.27" height="8.86" fill="#a01428"/>
<rect x="425.38" y="342.74" width="4.27" height="8.86" fill="#0a2266"/>
<rect x="428.65" y="342.74" width="4.28" height="8.86" fill="#93a4c5"/>
<rect x="431.93" y="342.74" width="7.55" height="8.86" fill="#e4e8f0"/>
<rect x="438.48" y="342.74" width="4.27" height="8.86" fill="#8295bc"/>
<rect x="441.75" y="342.74" width="4.27" height="8.86" fill="#2a1e58"/>
<rect x="445.02" y="342.74" width="4.28" height="8.86" fill="#8a1434"/>
<rect x="448.3" y="342.74" width="4.27" height="8.86" fill="#d00a1e"/>
<rect x="451.57" y="342.74" width="4.28" height="8.86" fill="#a01428"/>
<rect x="454.85" y="342.74" width="4.27" height="8.86" fill="#0a2266"/>
<rect x="458.12" y="342.74" width="4.27" height="8.86" fill="#b0bcd6"/>
<rect x="461.4" y="342.74" width="4.28" height="8.86" fill="#f4f5fa"/>
<rect x="464.68" y="342.74" width="4.27" height="8.86" fill="#eeeff5"/>
<rect x="467.95" y="342.74" width="4.28" height="8.86" fill="#7a90ba"/>
<rect x="471.23" y="342.74" width="4.27" height="8.86" fill="#0a2266"/>
<rect x="474.5" y="342.74" width="4.27" height="8.86" fill="#c00a20"/>
<rect x="477.77" y="342.74" width="4.28" height="8.86" fill="#d00a1e"/>
<rect x="481.05" y="342.74" width="4.27" height="8.86" fill="#a01428"/>
<rect x="484.32" y="342.74" width="4.28" height="8.86" fill="#0a2266"/>
<rect x="487.6" y="342.74" width="4.27" height="8.86" fill="#93a4c5"/>
<rect x="490.88" y="342.74" width="4.27" height="8.86" fill="#eeeff5"/>
<rect x="494.15" y="342.74" width="4.28" height="8.86" fill="#e4e8f0"/>
<rect x="497.43" y="342.74" width="3.27" height="8.86" fill="#8899be"/>
<rect x="382.8" y="350.6" width="4.27" height="8.86" fill="#3a1a50"/>
<rect x="386.07" y="350.6" width="4.28" height="8.86" fill="#e00010"/>
<rect x="389.35" y="350.6" width="4.27" height="8.86" fill="#d00a1e"/>
<rect x="392.62" y="350.6" width="4.28" height="8.86" fill="#a01428"/>
<rect x="395.9" y="350.6" width="4.27" height="8.86" fill="#0a2266"/>
<rect x="399.18" y="350.6" width="4.27" height="8.86" fill="#a0aecc"/>
<rect x="402.45" y="350.6" width="4.28" height="8.86" fill="#e4e8f0"/>
<rect x="405.73" y="350.6" width="4.27" height="8.86" fill="#c8d0e2"/>
<rect x="409" y="350.6" width="4.27" height="8.86" fill="#8295bc"/>
<rect x="412.27" y="350.6" width="4.28" height="8.86" fill="#3a1a50"/>
<rect x="415.55" y="350.6" width="4.27" height="8.86" fill="#d00a1e"/>
<rect x="418.82" y="350.6" width="4.28" height="8.86" fill="#e00010"/>
<rect x="422.1" y="350.6" width="4.27" height="8.86" fill="#a01428"/>
<rect x="425.38" y="350.6" width="4.27" height="8.86" fill="#0a2266"/>
<rect x="428.65" y="350.6" width="4.28" height="8.86" fill="#93a4c5"/>
<rect x="431.93" y="350.6" width="7.55" height="8.86" fill="#e4e8f0"/>
<rect x="438.48" y="350.6" width="4.27" height="8.86" fill="#8295bc"/>
<rect x="441.75" y="350.6" width="4.27" height="8.86" fill="#2a1e58"/>
<rect x="445.02" y="350.6" width="4.28" height="8.86" fill="#a01428"/>
<rect x="448.3" y="350.6" width="4.27" height="8.86" fill="#e00010"/>
<rect x="451.57" y="350.6" width="4.28" height="8.86" fill="#a01428"/>
<rect x="454.85" y="350.6" width="4.27" height="8.86" fill="#0a2266"/>
<rect x="458.12" y="350.6" width="4.27" height="8.86" fill="#b0bcd6"/>
<rect x="461.4" y="350.6" width="4.28" height="8.86" fill="#eeeff5"/>
<rect x="464.68" y="350.6" width="4.27" height="8.86" fill="#e4e8f0"/>
<rect x="467.95" y="350.6" width="4.28" height="8.86" fill="#7a90ba"/>
<rect x="471.23" y="350.6" width="4.27" height="8.86" fill="#0a2266"/>
<rect x="474.5" y="350.6" width="4.27" height="8.86" fill="#c00a20"/>
<rect x="477.77" y="350.6" width="4.28" height="8.86" fill="#ff0000"/>
<rect x="481.05" y="350.6" width="4.27" height="8.86" fill="#a01428"/>
<rect x="484.32" y="350.6" width="4.28" height="8.86" fill="#0a2266"/>
<rect x="487.6" y="350.6" width="4.27" height="8.86" fill="#93a4c5"/>
<rect x="490.88" y="350.6" width="7.55" height="8.86" fill="#e4e8f0"/>
<rect x="497.43" y="350.6" width="3.27" height="8.86" fill="#8899be"/>
<rect x="382.8" y="358.46" width="4.27" height="8.86" fill="#3a1a50"/>
<rect x="386.07" y="358.46" width="4.28" height="8.86" fill="#e00010"/>
<rect x="389.35" y="358.46" width="4.27" height="8.86" fill="#d00a1e"/>
<rect x="392.62" y="358.46" width="4.28" height="8.86" fill="#a01428"/>
<rect x="395.9" y="358.46" width="4.27" height="8.86" fill="#0a2266"/>
<rect x="399.18" y="358.46" width="4.27" height="8.86" fill="#a0aecc"/>
<rect x="402.45" y="358.46" width="4.28" height="8.86" fill="#eeeff5"/>
<rect x="405.73" y="358.46" width="4.27" height="8.86" fill="#e4e8f0"/>
<rect x="409" y="358.46" width="4.27" height="8.86" fill="#8295bc"/>
<rect x="412.27" y="358.46" width="4.28" height="8.86" fill="#3a1a50"/>
<rect x="415.55" y="358.46" width="4.27" height="8.86" fill="#d00a1e"/>
<rect x="418.82" y="358.46" width="4.28" height="8.86" fill="#ff0000"/>
<rect x="422.1" y="358.46" width="4.27" height="8.86" fill="#a01428"/>
<rect x="425.38" y="358.46" width="4.27" height="8.86" fill="#0a2266"/>
<rect x="428.65" y="358.46" width="4.28" height="8.86" fill="#93a4c5"/>
<rect x="431.93" y="358.46" width="4.27" height="8.86" fill="#eeeff5"/>
<rect x="435.2" y="358.46" width="4.28" height="8.86" fill="#e4e8f0"/>
<rect x="438.48" y="358.46" width="4.27" height="8.86" fill="#8295bc"/>
<rect x="441.75" y="358.46" width="4.27" height="8.86" fill="#2a1e58"/>
<rect x="445.02" y="358.46" width="4.28" height="8.86" fill="#c00a20"/>
<rect x="448.3" y="358.46" width="4.27" height="8.86" fill="#ff0000"/>
<rect x="451.57" y="358.46" width="4.28" height="8.86" fill="#a01428"/>
<rect x="454.85" y="358.46" width="4.27" height="8.86" fill="#0a2266"/>
<rect x="458.12" y="358.46" width="4.27" height="8.86" fill="#b0bcd6"/>
<rect x="461.4" y="358.46" width="4.28" height="8.86" fill="#f4f5fa"/>
<rect x="464.68" y="358.46" width="4.27" height="8.86" fill="#eeeff5"/>
<rect x="467.95" y="358.46" width="4.28" height="8.86" fill="#7a90ba"/>
<rect x="471.23" y="358.46" width="4.27" height="8.86" fill="#0a2266"/>
<rect x="474.5" y="358.46" width="4.27" height="8.86" fill="#c00a20"/>
<rect x="477.77" y="358.46" width="4.28" height="8.86" fill="#e00010"/>
<rect x="481.05" y="358.46" width="4.27" height="8.86" fill="#a01428"/>
<rect x="484.32" y="358.46" width="4.28" height="8.86" fill="#0a2266"/>
<rect x="487.6" y="358.46" width="4.27" height="8.86" fill="#93a4c5"/>
<rect x="490.88" y="358.46" width="7.55" height="8.86" fill="#e4e8f0"/>
<rect x="497.43" y="358.46" width="3.27" height="8.86" fill="#8899be"/>
<rect x="382.8" y="366.32" width="4.27" height="8.86" fill="#3a1a50"/>
<rect x="386.07" y="366.32" width="4.28" height="8.86" fill="#d00a1e"/>
<rect x="389.35" y="366.32" width="4.27" height="8.86" fill="#d80517"/>
<rect x="392.62" y="366.32" width="4.28" height="8.86" fill="#a01428"/>
<rect x="395.9" y="366.32" width="4.27" height="8.86" fill="#0a2266"/>
<rect x="399.18" y="366.32" width="4.27" height="8.86" fill="#a0aecc"/>
<rect x="402.45" y="366.32" width="4.28" height="8.86" fill="#eeeff5"/>
<rect x="405.73" y="366.32" width="4.27" height="8.86" fill="#e4e8f0"/>
<rect x="409" y="366.32" width="4.27" height="8.86" fill="#8295bc"/>
<rect x="412.27" y="366.32" width="4.28" height="8.86" fill="#3a1a50"/>
<rect x="415.55" y="366.32" width="4.27" height="8.86" fill="#d00a1e"/>
<rect x="418.82" y="366.32" width="4.28" height="8.86" fill="#ff0000"/>
<rect x="422.1" y="366.32" width="4.27" height="8.86" fill="#a01428"/>
<rect x="425.38" y="366.32" width="4.27" height="8.86" fill="#0a2266"/>
<rect x="428.65" y="366.32" width="4.28" height="8.86" fill="#93a4c5"/>
<rect x="431.93" y="366.32" width="4.27" height="8.86" fill="#eeeff5"/>
<rect x="435.2" y="366.32" width="4.28" height="8.86" fill="#e4e8f0"/>
<rect x="438.48" y="366.32" width="4.27" height="8.86" fill="#8295bc"/>
<rect x="441.75" y="366.32" width="4.27" height="8.86" fill="#0a2266"/>
<rect x="445.02" y="366.32" width="4.28" height="8.86" fill="#a01428"/>
<rect x="448.3" y="366.32" width="4.27" height="8.86" fill="#e00010"/>
<rect x="451.57" y="366.32" width="4.28" height="8.86" fill="#a01428"/>
<rect x="454.85" y="366.32" width="4.27" height="8.86" fill="#0a2266"/>
<rect x="458.12" y="366.32" width="4.27" height="8.86" fill="#b0bcd6"/>
<rect x="461.4" y="366.32" width="7.55" height="8.86" fill="#eeeff5"/>
<rect x="467.95" y="366.32" width="4.28" height="8.86" fill="#7a90ba"/>
<rect x="471.23" y="366.32" width="4.27" height="8.86" fill="#0a2266"/>
<rect x="474.5" y="366.32" width="4.27" height="8.86" fill="#c00a20"/>
<rect x="477.77" y="366.32" width="4.28" height="8.86" fill="#e00010"/>
<rect x="481.05" y="366.32" width="4.27" height="8.86" fill="#a01428"/>
<rect x="484.32" y="366.32" width="4.28" height="8.86" fill="#213e7e"/>
<rect x="487.6" y="366.32" width="4.27" height="8.86" fill="#93a4c5"/>
<rect x="490.88" y="366.32" width="7.55" height="8.86" fill="#e4e8f0"/>
<rect x="497.43" y="366.32" width="3.27" height="8.86" fill="#8899be"/>
<rect x="382.8" y="374.18" width="4.27" height="8.86" fill="#163172"/>
<rect x="386.07" y="374.18" width="4.28" height="8.86" fill="#8a1434"/>
<rect x="389.35" y="374.18" width="4.27" height="8.86" fill="#c00a20"/>
<rect x="392.62" y="374.18" width="4.28" height="8.86" fill="#8a1434"/>
<rect x="395.9" y="374.18" width="4.27" height="8.86" fill="#0a2266"/>
<rect x="399.18" y="374.18" width="4.27" height="8.86" fill="#a0aecc"/>
<rect x="402.45" y="374.18" width="4.28" height="8.86" fill="#eeeff5"/>
<rect x="405.73" y="374.18" width="4.27" height="8.86" fill="#e4e8f0"/>
<rect x="409" y="374.18" width="4.27" height="8.86" fill="#8295bc"/>
<rect x="412.27" y="374.18" width="4.28" height="8.86" fill="#2a1e58"/>
<rect x="415.55" y="374.18" width="4.27" height="8.86" fill="#c00a20"/>
<rect x="418.82" y="374.18" width="4.28" height="8.86" fill="#d00a1e"/>
<rect x="422.1" y="374.18" width="4.27" height="8.86" fill="#a01428"/>
<rect x="425.38" y="374.18" width="4.27" height="8.86" fill="#0a2266"/>
<rect x="428.65" y="374.18" width="4.28" height="8.86" fill="#93a4c5"/>
<rect x="431.93" y="374.18" width="4.27" height="8.86" fill="#f8f8fc"/>
<rect x="435.2" y="374.18" width="4.28" height="8.86" fill="#e4e8f0"/>
<rect x="438.48" y="374.18" width="4.27" height="8.86" fill="#8295bc"/>
<rect x="441.75" y="374.18" width="4.27" height="8.86" fill="#0a2266"/>
<rect x="445.02" y="374.18" width="4.28" height="8.86" fill="#8a1434"/>
<rect x="448.3" y="374.18" width="4.27" height="8.86" fill="#d00a1e"/>
<rect x="451.57" y="374.18" width="4.28" height="8.86" fill="#a01428"/>
<rect x="454.85" y="374.18" width="4.27" height="8.86" fill="#0a2266"/>
<rect x="458.12" y="374.18" width="4.27" height="8.86" fill="#b0bcd6"/>
<rect x="461.4" y="374.18" width="4.28" height="8.86" fill="#eeeff5"/>
<rect x="464.68" y="374.18" width="4.27" height="8.86" fill="#e4e8f0"/>
<rect x="467.95" y="374.18" width="4.28" height="8.86" fill="#7a90ba"/>
<rect x="471.23" y="374.18" width="4.27" height="8.86" fill="#0a2266"/>
<rect x="474.5" y="374.18" width="4.27" height="8.86" fill="#a01428"/>
<rect x="477.77" y="374.18" width="4.28" height="8.86" fill="#c00a20"/>
<rect x="481.05" y="374.18" width="4.27" height="8.86" fill="#8a1434"/>
<rect x="484.32" y="374.18" width="4.28" height="8.86" fill="#213e7e"/>
<rect x="487.6" y="374.18" width="4.27" height="8.86" fill="#93a4c5"/>
<rect x="490.88" y="374.18" width="7.55" height="8.86" fill="#e4e8f0"/>
<rect x="497.43" y="374.18" width="3.27" height="8.86" fill="#8899be"/>
<rect x="382.8" y="382.04" width="4.27" height="8.86" fill="#2a1e58"/>
<rect x="386.07" y="382.04" width="4.28" height="8.86" fill="#c00a20"/>
<rect x="389.35" y="382.04" width="4.27" height="8.86" fill="#d80517"/>
<rect x="392.62" y="382.04" width="4.28" height="8.86" fill="#a01428"/>
<rect x="395.9" y="382.04" width="4.27" height="8.86" fill="#0a2266"/>
<rect x="399.18" y="382.04" width="4.27" height="8.86" fill="#a0aecc"/>
<rect x="402.45" y="382.04" width="7.55" height="8.86" fill="#e4e8f0"/>
<rect x="409" y="382.04" width="4.27" height="8.86" fill="#8295bc"/>
<rect x="412.27" y="382.04" width="4.28" height="8.86" fill="#3a1a50"/>
<rect x="415.55" y="382.04" width="4.27" height="8.86" fill="#d00a1e"/>
<rect x="418.82" y="382.04" width="4.28" height="8.86" fill="#d80517"/>
<rect x="422.1" y="382.04" width="4.27" height="8.86" fill="#a01428"/>
<rect x="425.38" y="382.04" width="4.27" height="8.86" fill="#0a2266"/>
<rect x="428.65" y="382.04" width="4.28" height="8.86" fill="#93a4c5"/>
<rect x="431.93" y="382.04" width="7.55" height="8.86" fill="#e4e8f0"/>
<rect x="438.48" y="382.04" width="4.27" height="8.86" fill="#8295bc"/>
<rect x="441.75" y="382.04" width="4.27" height="8.86" fill="#0a2266"/>
<rect x="445.02" y="382.04" width="4.28" height="8.86" fill="#a01428"/>
<rect x="448.3" y="382.04" width="4.27" height="8.86" fill="#d80517"/>
<rect x="451.57" y="382.04" width="4.28" height="8.86" fill="#a01428"/>
<rect x="454.85" y="382.04" width="4.27" height="8.86" fill="#0a2266"/>
<rect x="458.12" y="382.04" width="4.27" height="8.86" fill="#b0bcd6"/>
<rect x="461.4" y="382.04" width="7.55" height="8.86" fill="#eeeff5"/>
<rect x="467.95" y="382.04" width="4.28" height="8.86" fill="#7a90ba"/>
<rect x="471.23" y="382.04" width="4.27" height="8.86" fill="#0a2266"/>
<rect x="474.5" y="382.04" width="4.27" height="8.86" fill="#c00a20"/>
<rect x="477.77" y="382.04" width="4.28" height="8.86" fill="#d80517"/>
<rect x="481.05" y="382.04" width="4.27" height="8.86" fill="#a01428"/>
<rect x="484.32" y="382.04" width="4.28" height="8.86" fill="#0a2266"/>
<rect x="487.6" y="382.04" width="4.27" height="8.86" fill="#93a4c5"/>
<rect x="490.88" y="382.04" width="7.55" height="8.86" fill="#e4e8f0"/>
<rect x="497.43" y="382.04" width="3.27" height="8.86" fill="#8899be"/>
<rect x="382.8" y="389.9" width="4.27" height="8.86" fill="#0a2266"/>
<rect x="386.07" y="389.9" width="4.28" height="8.86" fill="#a01428"/>
<rect x="389.35" y="389.9" width="4.27" height="8.86" fill="#d00a1e"/>
<rect x="392.62" y="389.9" width="4.28" height="8.86" fill="#8a1434"/>
<rect x="395.9" y="389.9" width="4.27" height="8.86" fill="#0a2266"/>
<rect x="399.18" y="389.9" width="4.27" height="8.86" fill="#a0aecc"/>
<rect x="402.45" y="389.9" width="7.55" height="8.86" fill="#e4e8f0"/>
<rect x="409" y="389.9" width="4.27" height="8.86" fill="#8295bc"/>
<rect x="412.27" y="389.9" width="4.28" height="8.86" fill="#0a2266"/>
<rect x="415.55" y="389.9" width="4.27" height="8.86" fill="#c00a20"/>
<rect x="418.82" y="389.9" width="4.28" height="8.86" fill="#e00010"/>
<rect x="422.1" y="389.9" width="4.27" height="8.86" fill="#a01428"/>
<rect x="425.38" y="389.9" width="4.27" height="8.86" fill="#0a2266"/>
<rect x="428.65" y="389.9" width="4.28" height="8.86" fill="#93a4c5"/>
<rect x="431.93" y="389.9" width="7.55" height="8.86" fill="#e4e8f0"/>
<rect x="438.48" y="389.9" width="4.27" height="8.86" fill="#8295bc"/>
<rect x="441.75" y="389.9" width="4.27" height="8.86" fill="#0a2266"/>
<rect x="445.02" y="389.9" width="4.28" height="8.86" fill="#a01428"/>
<rect x="448.3" y="389.9" width="4.27" height="8.86" fill="#f00008"/>
<rect x="451.57" y="389.9" width="4.28" height="8.86" fill="#a01428"/>
<rect x="454.85" y="389.9" width="4.27" height="8.86" fill="#0a2266"/>
<rect x="458.12" y="389.9" width="4.27" height="8.86" fill="#b0bcd6"/>
<rect x="461.4" y="389.9" width="7.55" height="8.86" fill="#eeeff5"/>
<rect x="467.95" y="389.9" width="4.28" height="8.86" fill="#7a90ba"/>
<rect x="471.23" y="389.9" width="4.27" height="8.86" fill="#0a2266"/>
<rect x="474.5" y="389.9" width="4.27" height="8.86" fill="#c00a20"/>
<rect x="477.77" y="389.9" width="4.28" height="8.86" fill="#e00010"/>
<rect x="481.05" y="389.9" width="4.27" height="8.86" fill="#a01428"/>
<rect x="484.32" y="389.9" width="4.28" height="8.86" fill="#0a2266"/>
<rect x="487.6" y="389.9" width="4.27" height="8.86" fill="#93a4c5"/>
<rect x="490.88" y="389.9" width="7.55" height="8.86" fill="#e4e8f0"/>
<rect x="497.43" y="389.9" width="3.27" height="8.86" fill="#8899be"/>
<rect x="382.8" y="397.76" width="4.27" height="8.86" fill="#2a1e58"/>
<rect x="386.07" y="397.76" width="7.55" height="8.86" fill="#d00a1e"/>
<rect x="392.62" y="397.76" width="4.28" height="8.86" fill="#a01428"/>
<rect x="395.9" y="397.76" width="4.27" height="8.86" fill="#0a2266"/>
<rect x="399.18" y="397.76" width="4.27" height="8.86" fill="#a0aecc"/>
<rect x="402.45" y="397.76" width="4.28" height="8.86" fill="#e4e8f0"/>
<rect x="405.73" y="397.76" width="4.27" height="8.86" fill="#dce0ec"/>
<rect x="409" y="397.76" width="4.27" height="8.86" fill="#8295bc"/>
<rect x="412.27" y="397.76" width="4.28" height="8.86" fill="#3a1a50"/>
<rect x="415.55" y="397.76" width="4.27" height="8.86" fill="#d00a1e"/>
<rect x="418.82" y="397.76" width="4.28" height="8.86" fill="#d80517"/>
<rect x="422.1" y="397.76" width="4.27" height="8.86" fill="#a01428"/>
<rect x="425.38" y="397.76" width="4.27" height="8.86" fill="#0a2266"/>
<rect x="428.65" y="397.76" width="4.28" height="8.86" fill="#93a4c5"/>
<rect x="431.93" y="397.76" width="7.55" height="8.86" fill="#e4e8f0"/>
<rect x="438.48" y="397.76" width="4.27" height="8.86" fill="#8295bc"/>
<rect x="441.75" y="397.76" width="4.27" height="8.86" fill="#0a2266"/>
<rect x="445.02" y="397.76" width="4.28" height="8.86" fill="#b01020"/>
<rect x="448.3" y="397.76" width="4.27" height="8.86" fill="#d00a1e"/>
<rect x="451.57" y="397.76" width="4.28" height="8.86" fill="#a81224"/>
<rect x="454.85" y="397.76" width="4.27" height="8.86" fill="#0a2266"/>
<rect x="458.12" y="397.76" width="4.27" height="8.86" fill="#b0bcd6"/>
<rect x="461.4" y="397.76" width="7.55" height="8.86" fill="#eeeff5"/>
<rect x="467.95" y="397.76" width="4.28" height="8.86" fill="#7a90ba"/>
<rect x="471.23" y="397.76" width="4.27" height="8.86" fill="#0a2266"/>
<rect x="474.5" y="397.76" width="7.55" height="8.86" fill="#8a1434"/>
<rect x="481.05" y="397.76" width="4.27" height="8.86" fill="#70183d"/>
<rect x="484.32" y="397.76" width="4.28" height="8.86" fill="#0a2266"/>
<rect x="487.6" y="397.76" width="4.27" height="8.86" fill="#93a4c5"/>
<rect x="490.88" y="397.76" width="7.55" height="8.86" fill="#e4e8f0"/>
<rect x="497.43" y="397.76" width="3.27" height="8.86" fill="#8899be"/>
<rect x="382.8" y="405.62" width="4.27" height="7.86" fill="#0a2266"/>
<rect x="386.07" y="405.62" width="4.28" height="7.86" fill="#8a1434"/>
<rect x="389.35" y="405.62" width="4.27" height="7.86" fill="#f00008"/>
<rect x="392.62" y="405.62" width="4.28" height="7.86" fill="#8a1434"/>
<rect x="395.9" y="405.62" width="4.27" height="7.86" fill="#0a2266"/>
<rect x="399.18" y="405.62" width="4.27" height="7.86" fill="#a0aecc"/>
<rect x="402.45" y="405.62" width="4.28" height="7.86" fill="#e4e8f0"/>
<rect x="405.73" y="405.62" width="4.27" height="7.86" fill="#dce0ec"/>
<rect x="409" y="405.62" width="4.27" height="7.86" fill="#8295bc"/>
<rect x="412.27" y="405.62" width="4.28" height="7.86" fill="#0a2266"/>
<rect x="415.55" y="405.62" width="4.27" height="7.86" fill="#b01020"/>
<rect x="418.82" y="405.62" width="4.28" height="7.86" fill="#d00a1e"/>
<rect x="422.1" y="405.62" width="4.27" height="7.86" fill="#8a1434"/>
<rect x="425.38" y="405.62" width="4.27" height="7.86" fill="#0a2266"/>
<rect x="428.65" y="405.62" width="4.28" height="7.86" fill="#93a4c5"/>
<rect x="431.93" y="405.62" width="7.55" height="7.86" fill="#e4e8f0"/>
<rect x="438.48" y="405.62" width="4.27" height="7.86" fill="#8295bc"/>
<rect x="441.75" y="405.62" width="4.27" height="7.86" fill="#0a2266"/>
<rect x="445.02" y="405.62" width="4.28" height="7.86" fill="#8a1434"/>
<rect x="448.3" y="405.62" width="4.27" height="7.86" fill="#a01428"/>
<rect x="451.57" y="405.62" width="4.28" height="7.86" fill="#6a1840"/>
<rect x="454.85" y="405.62" width="4.27" height="7.86" fill="#0a2266"/>
<rect x="458.12" y="405.62" width="4.27" height="7.86" fill="#b0bcd6"/>
<rect x="461.4" y="405.62" width="7.55" height="7.86" fill="#eeeff5"/>
<rect x="467.95" y="405.62" width="4.28" height="7.86" fill="#7a90ba"/>
<rect x="471.23" y="405.62" width="4.27" height="7.86" fill="#0a2266"/>
<rect x="474.5" y="405.62" width="4.27" height="7.86" fill="#d00a1e"/>
<rect x="477.77" y="405.62" width="4.28" height="7.86" fill="#e00010"/>
<rect x="481.05" y="405.62" width="4.27" height="7.86" fill="#a01428"/>
<rect x="484.32" y="405.62" width="4.28" height="7.86" fill="#0a2266"/>
<rect x="487.6" y="405.62" width="4.27" height="7.86" fill="#93a4c5"/>
<rect x="490.88" y="405.62" width="7.55" height="7.86" fill="#e4e8f0"/>
<rect x="497.43" y="405.62" width="3.27" height="7.86" fill="#8899be"/>
<line x1="383.4" y1="370.25" x2="500.7" y2="370.25" stroke="#1a1a1a" stroke-width="1.15" stroke-dasharray="3 2.5"/>
<rect x="382.8" y="311.3" width="117.9" height="117.9" fill="none" stroke="#333" stroke-width="1"/>
<path d="M382.8 425.27h3.8M500.7 425.27h-3.8M382.8 417.41h7M500.7 417.41h-7M382.8 409.55h3.8M500.7 409.55h-3.8M382.8 401.69h7M500.7 401.69h-7M382.8 393.83h3.8M500.7 393.83h-3.8M382.8 385.97h7M500.7 385.97h-7M382.8 378.11h3.8M500.7 378.11h-3.8M382.8 370.25h7M500.7 370.25h-7M382.8 362.39h3.8M500.7 362.39h-3.8M382.8 354.53h7M500.7 354.53h-7M382.8 346.67h3.8M500.7 346.67h-3.8M382.8 338.81h7M500.7 338.81h-7M382.8 330.95h3.8M500.7 330.95h-3.8M382.8 323.09h7M500.7 323.09h-7M382.8 315.23h3.8M500.7 315.23h-3.8M397.54 429.2v-3.8M397.54 311.3v3.8M412.27 429.2v-7M412.27 311.3v7M427.01 429.2v-3.8M427.01 311.3v3.8M441.75 429.2v-7M441.75 311.3v7M456.49 429.2v-3.8M456.49 311.3v3.8M471.23 429.2v-7M471.23 311.3v7M485.96 429.2v-3.8M485.96 311.3v3.8" stroke="#1a1a1a" stroke-width="1" fill="none"/>
<text x="374.9" y="421.01" font-size="9.7" text-anchor="end" font-weight="normal" fill="#1a1a1a" >-6</text>
<text x="374.9" y="405.29" font-size="9.7" text-anchor="end" font-weight="normal" fill="#1a1a1a" >-4</text>
<text x="374.9" y="389.57" font-size="9.7" text-anchor="end" font-weight="normal" fill="#1a1a1a" >-2</text>
<text x="374.9" y="373.85" font-size="9.7" text-anchor="end" font-weight="normal" fill="#1a1a1a" >0</text>
<text x="374.9" y="358.13" font-size="9.7" text-anchor="end" font-weight="normal" fill="#1a1a1a" >2</text>
<text x="374.9" y="342.41" font-size="9.7" text-anchor="end" font-weight="normal" fill="#1a1a1a" >4</text>
<text x="374.9" y="326.69" font-size="9.7" text-anchor="end" font-weight="normal" fill="#1a1a1a" >6</text>
<text x="382.8" y="445" font-size="9.7" text-anchor="middle" font-weight="normal" fill="#1a1a1a" >0</text>
<text x="412.27" y="445" font-size="9.7" text-anchor="middle" font-weight="normal" fill="#1a1a1a" >90</text>
<text x="441.75" y="445" font-size="9.7" text-anchor="middle" font-weight="normal" fill="#1a1a1a" >180</text>
<text x="471.23" y="445" font-size="9.7" text-anchor="middle" font-weight="normal" fill="#1a1a1a" >270</text>
<text x="500.7" y="445" font-size="9.7" text-anchor="middle" font-weight="normal" fill="#1a1a1a" >360</text>
<text x="439.15" y="463" font-size="9.7" text-anchor="middle" font-weight="normal" fill="#1a1a1a" >Orientation (°)</text>
<text transform="translate(360.5 370.25) rotate(-90)" font-size="9.7" text-anchor="middle" fill="#1a1a1a"><tspan font-style="italic">B</tspan> (T)</text>
<text x="352.6" y="314.7" font-size="9.7" text-anchor="start" font-weight="bold" fill="#000" >e</text>
<rect x="559.3" y="311.3" width="4.28" height="8.86" fill="#0f286b"/>
<rect x="562.58" y="311.3" width="4.28" height="8.86" fill="#2a1e58"/>
<rect x="565.86" y="311.3" width="4.28" height="8.86" fill="#6a1840"/>
<rect x="569.13" y="311.3" width="4.28" height="8.86" fill="#2a1e58"/>
<rect x="572.41" y="311.3" width="4.28" height="8.86" fill="#1a1e5c"/>
<rect x="575.69" y="311.3" width="4.28" height="8.86" fill="#0a2266"/>
<rect x="578.97" y="311.3" width="7.56" height="8.86" fill="#1e3a7a"/>
<rect x="585.52" y="311.3" width="4.28" height="8.86" fill="#0a2266"/>
<rect x="588.8" y="311.3" width="4.28" height="8.86" fill="#1a1e5c"/>
<rect x="592.08" y="311.3" width="4.28" height="8.86" fill="#3a1a50"/>
<rect x="595.36" y="311.3" width="7.56" height="8.86" fill="#0a2266"/>
<rect x="601.91" y="311.3" width="4.28" height="8.86" fill="#1e3a7a"/>
<rect x="605.19" y="311.3" width="4.28" height="8.86" fill="#2a4888"/>
<rect x="608.47" y="311.3" width="7.56" height="8.86" fill="#4a6498"/>
<rect x="615.02" y="311.3" width="4.28" height="8.86" fill="#1e3a7a"/>
<rect x="618.3" y="311.3" width="4.28" height="8.86" fill="#2a4888"/>
<rect x="621.58" y="311.3" width="7.56" height="8.86" fill="#4a1848"/>
<rect x="628.13" y="311.3" width="4.28" height="8.86" fill="#3a1a50"/>
<rect x="631.41" y="311.3" width="4.28" height="8.86" fill="#2a1e58"/>
<rect x="634.69" y="311.3" width="7.56" height="8.86" fill="#0a2266"/>
<rect x="641.24" y="311.3" width="7.56" height="8.86" fill="#1e3a7a"/>
<rect x="647.8" y="311.3" width="4.28" height="8.86" fill="#0a2266"/>
<rect x="651.08" y="311.3" width="4.28" height="8.86" fill="#2a4888"/>
<rect x="654.36" y="311.3" width="4.28" height="8.86" fill="#2a1e58"/>
<rect x="657.63" y="311.3" width="4.28" height="8.86" fill="#0a2266"/>
<rect x="660.91" y="311.3" width="4.28" height="8.86" fill="#2a4888"/>
<rect x="664.19" y="311.3" width="4.28" height="8.86" fill="#3a5890"/>
<rect x="667.47" y="311.3" width="7.56" height="8.86" fill="#4a6498"/>
<rect x="674.02" y="311.3" width="3.28" height="8.86" fill="#2a4888"/>
<rect x="559.3" y="319.16" width="4.28" height="8.86" fill="#2a4888"/>
<rect x="562.58" y="319.16" width="7.56" height="8.86" fill="#1e3a7a"/>
<rect x="569.13" y="319.16" width="4.28" height="8.86" fill="#2a4888"/>
<rect x="572.41" y="319.16" width="17.39" height="8.86" fill="#3a5890"/>
<rect x="588.8" y="319.16" width="4.28" height="8.86" fill="#2a4888"/>
<rect x="592.08" y="319.16" width="4.28" height="8.86" fill="#3a5890"/>
<rect x="595.36" y="319.16" width="4.28" height="8.86" fill="#4a6498"/>
<rect x="598.63" y="319.16" width="7.56" height="8.86" fill="#3a5890"/>
<rect x="605.19" y="319.16" width="7.56" height="8.86" fill="#4a6498"/>
<rect x="611.74" y="319.16" width="4.28" height="8.86" fill="#3a5890"/>
<rect x="615.02" y="319.16" width="4.28" height="8.86" fill="#4a6498"/>
<rect x="618.3" y="319.16" width="7.56" height="8.86" fill="#3a5890"/>
<rect x="624.86" y="319.16" width="7.56" height="8.86" fill="#4a6498"/>
<rect x="631.41" y="319.16" width="4.28" height="8.86" fill="#5a72a6"/>
<rect x="634.69" y="319.16" width="4.28" height="8.86" fill="#4a6498"/>
<rect x="637.97" y="319.16" width="4.28" height="8.86" fill="#2a4888"/>
<rect x="641.24" y="319.16" width="4.28" height="8.86" fill="#3a5890"/>
<rect x="644.52" y="319.16" width="4.28" height="8.86" fill="#4a6498"/>
<rect x="647.8" y="319.16" width="14.11" height="8.86" fill="#5a72a6"/>
<rect x="660.91" y="319.16" width="4.28" height="8.86" fill="#4a6498"/>
<rect x="664.19" y="319.16" width="4.28" height="8.86" fill="#3a5890"/>
<rect x="667.47" y="319.16" width="7.56" height="8.86" fill="#5a72a6"/>
<rect x="674.02" y="319.16" width="3.28" height="8.86" fill="#3a5890"/>
<rect x="559.3" y="327.02" width="4.28" height="8.86" fill="#3a5890"/>
<rect x="562.58" y="327.02" width="4.28" height="8.86" fill="#2a4888"/>
<rect x="565.86" y="327.02" width="7.56" height="8.86" fill="#1e3a7a"/>
<rect x="572.41" y="327.02" width="4.28" height="8.86" fill="#4a6498"/>
<rect x="575.69" y="327.02" width="7.56" height="8.86" fill="#5a72a6"/>
<rect x="582.24" y="327.02" width="7.56" height="8.86" fill="#4a6498"/>
<rect x="588.8" y="327.02" width="4.28" height="8.86" fill="#5a72a6"/>
<rect x="592.08" y="327.02" width="4.28" height="8.86" fill="#4a6498"/>
<rect x="595.36" y="327.02" width="4.28" height="8.86" fill="#3a5890"/>
<rect x="598.63" y="327.02" width="4.28" height="8.86" fill="#0f286b"/>
<rect x="601.91" y="327.02" width="4.28" height="8.86" fill="#3a5890"/>
<rect x="605.19" y="327.02" width="4.28" height="8.86" fill="#6a80b0"/>
<rect x="608.47" y="327.02" width="4.28" height="8.86" fill="#5a72a6"/>
<rect x="611.74" y="327.02" width="4.28" height="8.86" fill="#6a80b0"/>
<rect x="615.02" y="327.02" width="4.28" height="8.86" fill="#5a72a6"/>
<rect x="618.3" y="327.02" width="4.28" height="8.86" fill="#6077aa"/>
<rect x="621.58" y="327.02" width="4.28" height="8.86" fill="#5a72a6"/>
<rect x="624.86" y="327.02" width="4.28" height="8.86" fill="#0f286b"/>
<rect x="628.13" y="327.02" width="4.28" height="8.86" fill="#0a2266"/>
<rect x="631.41" y="327.02" width="4.28" height="8.86" fill="#2a4888"/>
<rect x="634.69" y="327.02" width="4.28" height="8.86" fill="#3a5890"/>
<rect x="637.97" y="327.02" width="10.83" height="8.86" fill="#5a72a6"/>
<rect x="647.8" y="327.02" width="4.28" height="8.86" fill="#1e3a7a"/>
<rect x="651.08" y="327.02" width="7.56" height="8.86" fill="#4a6498"/>
<rect x="657.63" y="327.02" width="7.56" height="8.86" fill="#5a72a6"/>
<rect x="664.19" y="327.02" width="7.56" height="8.86" fill="#6a80b0"/>
<rect x="670.74" y="327.02" width="6.56" height="8.86" fill="#5a72a6"/>
<rect x="559.3" y="334.88" width="4.28" height="8.86" fill="#7086b4"/>
<rect x="562.58" y="334.88" width="4.28" height="8.86" fill="#4a6498"/>
<rect x="565.86" y="334.88" width="4.28" height="8.86" fill="#3a5890"/>
<rect x="569.13" y="334.88" width="4.28" height="8.86" fill="#5a72a6"/>
<rect x="572.41" y="334.88" width="4.28" height="8.86" fill="#8899be"/>
<rect x="575.69" y="334.88" width="7.56" height="8.86" fill="#98a8c8"/>
<rect x="582.24" y="334.88" width="7.56" height="8.86" fill="#8899be"/>
<rect x="588.8" y="334.88" width="4.28" height="8.86" fill="#7a90ba"/>
<rect x="592.08" y="334.88" width="4.28" height="8.86" fill="#6a80b0"/>
<rect x="595.36" y="334.88" width="4.28" height="8.86" fill="#4a6498"/>
<rect x="598.63" y="334.88" width="4.28" height="8.86" fill="#7a90ba"/>
<rect x="601.91" y="334.88" width="4.28" height="8.86" fill="#8899be"/>
<rect x="605.19" y="334.88" width="4.28" height="8.86" fill="#98a8c8"/>
<rect x="608.47" y="334.88" width="4.28" height="8.86" fill="#a8b4d0"/>
<rect x="611.74" y="334.88" width="4.28" height="8.86" fill="#a0aecc"/>
<rect x="615.02" y="334.88" width="4.28" height="8.86" fill="#6a80b0"/>
<rect x="618.3" y="334.88" width="7.56" height="8.86" fill="#7a90ba"/>
<rect x="624.86" y="334.88" width="4.28" height="8.86" fill="#5a72a6"/>
<rect x="628.13" y="334.88" width="4.28" height="8.86" fill="#4a6498"/>
<rect x="631.41" y="334.88" width="4.28" height="8.86" fill="#5a72a6"/>
<rect x="634.69" y="334.88" width="7.56" height="8.86" fill="#8899be"/>
<rect x="641.24" y="334.88" width="4.28" height="8.86" fill="#98a8c8"/>
<rect x="644.52" y="334.88" width="4.28" height="8.86" fill="#7a90ba"/>
<rect x="647.8" y="334.88" width="14.11" height="8.86" fill="#5a72a6"/>
<rect x="660.91" y="334.88" width="7.56" height="8.86" fill="#8899be"/>
<rect x="667.47" y="334.88" width="4.28" height="8.86" fill="#a8b4d0"/>
<rect x="670.74" y="334.88" width="4.28" height="8.86" fill="#b0bcd6"/>
<rect x="674.02" y="334.88" width="3.28" height="8.86" fill="#8899be"/>
<rect x="559.3" y="342.74" width="7.56" height="8.86" fill="#8899be"/>
<rect x="565.86" y="342.74" width="4.28" height="8.86" fill="#6a80b0"/>
<rect x="569.13" y="342.74" width="4.28" height="8.86" fill="#8899be"/>
<rect x="572.41" y="342.74" width="7.56" height="8.86" fill="#a8b4d0"/>
<rect x="578.97" y="342.74" width="4.28" height="8.86" fill="#b0bcd6"/>
<rect x="582.24" y="342.74" width="10.83" height="8.86" fill="#a8b4d0"/>
<rect x="592.08" y="342.74" width="4.28" height="8.86" fill="#98a8c8"/>
<rect x="595.36" y="342.74" width="4.28" height="8.86" fill="#8899be"/>
<rect x="598.63" y="342.74" width="7.56" height="8.86" fill="#98a8c8"/>
<rect x="605.19" y="342.74" width="4.28" height="8.86" fill="#a8b4d0"/>
<rect x="608.47" y="342.74" width="4.28" height="8.86" fill="#b0bcd6"/>
<rect x="611.74" y="342.74" width="7.56" height="8.86" fill="#c0c8dc"/>
<rect x="618.3" y="342.74" width="4.28" height="8.86" fill="#b0bcd6"/>
<rect x="621.58" y="342.74" width="4.28" height="8.86" fill="#a0aecc"/>
<rect x="624.86" y="342.74" width="7.56" height="8.86" fill="#8899be"/>
<rect x="631.41" y="342.74" width="4.28" height="8.86" fill="#a0aecc"/>
<rect x="634.69" y="342.74" width="7.56" height="8.86" fill="#b8c2d8"/>
<rect x="641.24" y="342.74" width="4.28" height="8.86" fill="#a8b4d0"/>
<rect x="644.52" y="342.74" width="4.28" height="8.86" fill="#c0c8dc"/>
<rect x="647.8" y="342.74" width="4.28" height="8.86" fill="#a8b4d0"/>
<rect x="651.08" y="342.74" width="7.56" height="8.86" fill="#a0aecc"/>
<rect x="657.63" y="342.74" width="4.28" height="8.86" fill="#a8b4d0"/>
<rect x="660.91" y="342.74" width="7.56" height="8.86" fill="#c0c8dc"/>
<rect x="667.47" y="342.74" width="4.28" height="8.86" fill="#b8c2d8"/>
<rect x="670.74" y="342.74" width="4.28" height="8.86" fill="#c8d0e2"/>
<rect x="674.02" y="342.74" width="3.28" height="8.86" fill="#98a8c8"/>
<rect x="559.3" y="350.6" width="4.28" height="8.86" fill="#b0bcd6"/>
<rect x="562.58" y="350.6" width="4.28" height="8.86" fill="#98a8c8"/>
<rect x="565.86" y="350.6" width="4.28" height="8.86" fill="#a0aecc"/>
<rect x="569.13" y="350.6" width="4.28" height="8.86" fill="#b8c2d8"/>
<rect x="572.41" y="350.6" width="7.56" height="8.86" fill="#c0c8dc"/>
<rect x="578.97" y="350.6" width="4.28" height="8.86" fill="#c8d0e2"/>
<rect x="582.24" y="350.6" width="4.28" height="8.86" fill="#e4e8f0"/>
<rect x="585.52" y="350.6" width="4.28" height="8.86" fill="#c8d0e2"/>
<rect x="588.8" y="350.6" width="4.28" height="8.86" fill="#c0c8dc"/>
<rect x="592.08" y="350.6" width="4.28" height="8.86" fill="#a8b4d0"/>
<rect x="595.36" y="350.6" width="4.28" height="8.86" fill="#a0aecc"/>
<rect x="598.63" y="350.6" width="4.28" height="8.86" fill="#a8b4d0"/>
<rect x="601.91" y="350.6" width="4.28" height="8.86" fill="#c0c8dc"/>
<rect x="605.19" y="350.6" width="4.28" height="8.86" fill="#dce0ec"/>
<rect x="608.47" y="350.6" width="7.56" height="8.86" fill="#d0d6e6"/>
<rect x="615.02" y="350.6" width="4.28" height="8.86" fill="#cbd2e3"/>
<rect x="618.3" y="350.6" width="4.28" height="8.86" fill="#c5cde0"/>
<rect x="621.58" y="350.6" width="4.28" height="8.86" fill="#c8d0e2"/>
<rect x="624.86" y="350.6" width="4.28" height="8.86" fill="#c0c8dc"/>
<rect x="628.13" y="350.6" width="4.28" height="8.86" fill="#a0aecc"/>
<rect x="631.41" y="350.6" width="4.28" height="8.86" fill="#c8d0e2"/>
<rect x="634.69" y="350.6" width="4.28" height="8.86" fill="#c0c8dc"/>
<rect x="637.97" y="350.6" width="4.28" height="8.86" fill="#dce0ec"/>
<rect x="641.24" y="350.6" width="4.28" height="8.86" fill="#d0d6e6"/>
<rect x="644.52" y="350.6" width="7.56" height="8.86" fill="#c8d0e2"/>
<rect x="651.08" y="350.6" width="4.28" height="8.86" fill="#c0c8dc"/>
<rect x="654.36" y="350.6" width="4.28" height="8.86" fill="#a0aecc"/>
<rect x="657.63" y="350.6" width="4.28" height="8.86" fill="#d0d6e6"/>
<rect x="660.91" y="350.6" width="4.28" height="8.86" fill="#c8d0e2"/>
<rect x="664.19" y="350.6" width="4.28" height="8.86" fill="#dce0ec"/>
<rect x="667.47" y="350.6" width="4.28" height="8.86" fill="#e4e8f0"/>
<rect x="670.74" y="350.6" width="4.28" height="8.86" fill="#eeeff5"/>
<rect x="674.02" y="350.6" width="3.28" height="8.86" fill="#c8d0e2"/>
<rect x="559.3" y="358.46" width="4.28" height="8.86" fill="#c8d0e2"/>
<rect x="562.58" y="358.46" width="4.28" height="8.86" fill="#a0aecc"/>
<rect x="565.86" y="358.46" width="4.28" height="8.86" fill="#b8c2d8"/>
<rect x="569.13" y="358.46" width="4.28" height="8.86" fill="#c8d0e2"/>
<rect x="572.41" y="358.46" width="4.28" height="8.86" fill="#d0d6e6"/>
<rect x="575.69" y="358.46" width="4.28" height="8.86" fill="#dce0ec"/>
<rect x="578.97" y="358.46" width="4.28" height="8.86" fill="#e4e8f0"/>
<rect x="582.24" y="358.46" width="4.28" height="8.86" fill="#dce0ec"/>
<rect x="585.52" y="358.46" width="7.56" height="8.86" fill="#c8d0e2"/>
<rect x="592.08" y="358.46" width="4.28" height="8.86" fill="#c0c8dc"/>
<rect x="595.36" y="358.46" width="7.56" height="8.86" fill="#c8d0e2"/>
<rect x="601.91" y="358.46" width="7.56" height="8.86" fill="#d0d6e6"/>
<rect x="608.47" y="358.46" width="4.28" height="8.86" fill="#dce0ec"/>
<rect x="611.74" y="358.46" width="4.28" height="8.86" fill="#e4e8f0"/>
<rect x="615.02" y="358.46" width="4.28" height="8.86" fill="#d5dae8"/>
<rect x="618.3" y="358.46" width="4.28" height="8.86" fill="#c8d0e2"/>
<rect x="621.58" y="358.46" width="4.28" height="8.86" fill="#b0bcd6"/>
<rect x="624.86" y="358.46" width="4.28" height="8.86" fill="#c0c8dc"/>
<rect x="628.13" y="358.46" width="4.28" height="8.86" fill="#c8d0e2"/>
<rect x="631.41" y="358.46" width="4.28" height="8.86" fill="#dce0ec"/>
<rect x="634.69" y="358.46" width="10.83" height="8.86" fill="#e4e8f0"/>
<rect x="644.52" y="358.46" width="4.28" height="8.86" fill="#d0d6e6"/>
<rect x="647.8" y="358.46" width="4.28" height="8.86" fill="#c8d0e2"/>
<rect x="651.08" y="358.46" width="4.28" height="8.86" fill="#c0c8dc"/>
<rect x="654.36" y="358.46" width="4.28" height="8.86" fill="#c8d0e2"/>
<rect x="657.63" y="358.46" width="4.28" height="8.86" fill="#d0d6e6"/>
<rect x="660.91" y="358.46" width="7.56" height="8.86" fill="#e4e8f0"/>
<rect x="667.47" y="358.46" width="4.28" height="8.86" fill="#dce0ec"/>
<rect x="670.74" y="358.46" width="4.28" height="8.86" fill="#e4e8f0"/>
<rect x="674.02" y="358.46" width="3.28" height="8.86" fill="#c8d0e2"/>
<rect x="559.3" y="366.32" width="4.28" height="8.86" fill="#c8d0e2"/>
<rect x="562.58" y="366.32" width="4.28" height="8.86" fill="#a8b4d0"/>
<rect x="565.86" y="366.32" width="4.28" height="8.86" fill="#c0c8dc"/>
<rect x="569.13" y="366.32" width="4.28" height="8.86" fill="#c8d0e2"/>
<rect x="572.41" y="366.32" width="7.56" height="8.86" fill="#dce0ec"/>
<rect x="578.97" y="366.32" width="10.83" height="8.86" fill="#e4e8f0"/>
<rect x="588.8" y="366.32" width="4.28" height="8.86" fill="#d0d6e6"/>
<rect x="592.08" y="366.32" width="4.28" height="8.86" fill="#c8d0e2"/>
<rect x="595.36" y="366.32" width="4.28" height="8.86" fill="#d0d6e6"/>
<rect x="598.63" y="366.32" width="4.28" height="8.86" fill="#dce0ec"/>
<rect x="601.91" y="366.32" width="4.28" height="8.86" fill="#d0d6e6"/>
<rect x="605.19" y="366.32" width="7.56" height="8.86" fill="#dce0ec"/>
<rect x="611.74" y="366.32" width="4.28" height="8.86" fill="#e4e8f0"/>
<rect x="615.02" y="366.32" width="4.28" height="8.86" fill="#dce0ec"/>
<rect x="618.3" y="366.32" width="4.28" height="8.86" fill="#d0d6e6"/>
<rect x="621.58" y="366.32" width="4.28" height="8.86" fill="#c8d0e2"/>
<rect x="624.86" y="366.32" width="4.28" height="8.86" fill="#b8c2d8"/>
<rect x="628.13" y="366.32" width="4.28" height="8.86" fill="#c0c8dc"/>
<rect x="631.41" y="366.32" width="4.28" height="8.86" fill="#d0d6e6"/>
<rect x="634.69" y="366.32" width="4.28" height="8.86" fill="#e4e8f0"/>
<rect x="637.97" y="366.32" width="7.56" height="8.86" fill="#dce0ec"/>
<rect x="644.52" y="366.32" width="7.56" height="8.86" fill="#d0d6e6"/>
<rect x="651.08" y="366.32" width="7.56" height="8.86" fill="#c8d0e2"/>
<rect x="657.63" y="366.32" width="4.28" height="8.86" fill="#d0d6e6"/>
<rect x="660.91" y="366.32" width="7.56" height="8.86" fill="#e4e8f0"/>
<rect x="667.47" y="366.32" width="4.28" height="8.86" fill="#eeeff5"/>
<rect x="670.74" y="366.32" width="4.28" height="8.86" fill="#dce0ec"/>
<rect x="674.02" y="366.32" width="3.28" height="8.86" fill="#d0d6e6"/>
<rect x="559.3" y="374.18" width="4.28" height="8.86" fill="#b8c2d8"/>
<rect x="562.58" y="374.18" width="4.28" height="8.86" fill="#8899be"/>
<rect x="565.86" y="374.18" width="4.28" height="8.86" fill="#a0aecc"/>
<rect x="569.13" y="374.18" width="4.28" height="8.86" fill="#c8d0e2"/>
<rect x="572.41" y="374.18" width="4.28" height="8.86" fill="#d0d6e6"/>
<rect x="575.69" y="374.18" width="10.83" height="8.86" fill="#dce0ec"/>
<rect x="585.52" y="374.18" width="4.28" height="8.86" fill="#d0d6e6"/>
<rect x="588.8" y="374.18" width="4.28" height="8.86" fill="#c8d0e2"/>
<rect x="592.08" y="374.18" width="4.28" height="8.86" fill="#c0c8dc"/>
<rect x="595.36" y="374.18" width="4.28" height="8.86" fill="#c8d0e2"/>
<rect x="598.63" y="374.18" width="4.28" height="8.86" fill="#d0d6e6"/>
<rect x="601.91" y="374.18" width="4.28" height="8.86" fill="#dce0ec"/>
<rect x="605.19" y="374.18" width="4.28" height="8.86" fill="#e4e8f0"/>
<rect x="608.47" y="374.18" width="4.28" height="8.86" fill="#eeeff5"/>
<rect x="611.74" y="374.18" width="4.28" height="8.86" fill="#e4e8f0"/>
<rect x="615.02" y="374.18" width="4.28" height="8.86" fill="#e0e4ee"/>
<rect x="618.3" y="374.18" width="4.28" height="8.86" fill="#d5dae8"/>
<rect x="621.58" y="374.18" width="4.28" height="8.86" fill="#d0d6e6"/>
<rect x="624.86" y="374.18" width="4.28" height="8.86" fill="#c8d0e2"/>
<rect x="628.13" y="374.18" width="4.28" height="8.86" fill="#c0c8dc"/>
<rect x="631.41" y="374.18" width="4.28" height="8.86" fill="#d0d6e6"/>
<rect x="634.69" y="374.18" width="4.28" height="8.86" fill="#dce0ec"/>
<rect x="637.97" y="374.18" width="4.28" height="8.86" fill="#e4e8f0"/>
<rect x="641.24" y="374.18" width="4.28" height="8.86" fill="#dce0ec"/>
<rect x="644.52" y="374.18" width="14.11" height="8.86" fill="#d0d6e6"/>
<rect x="657.63" y="374.18" width="7.56" height="8.86" fill="#dce0ec"/>
<rect x="664.19" y="374.18" width="7.56" height="8.86" fill="#e4e8f0"/>
<rect x="670.74" y="374.18" width="4.28" height="8.86" fill="#dce0ec"/>
<rect x="674.02" y="374.18" width="3.28" height="8.86" fill="#c8d0e2"/>
<rect x="559.3" y="382.04" width="4.28" height="8.86" fill="#a8b4d0"/>
<rect x="562.58" y="382.04" width="7.56" height="8.86" fill="#8899be"/>
<rect x="569.13" y="382.04" width="4.28" height="8.86" fill="#a0aecc"/>
<rect x="572.41" y="382.04" width="4.28" height="8.86" fill="#a8b4d0"/>
<rect x="575.69" y="382.04" width="4.28" height="8.86" fill="#b0bcd6"/>
<rect x="578.97" y="382.04" width="4.28" height="8.86" fill="#b8c2d8"/>
<rect x="582.24" y="382.04" width="4.28" height="8.86" fill="#c0c8dc"/>
<rect x="585.52" y="382.04" width="4.28" height="8.86" fill="#b8c2d8"/>
<rect x="588.8" y="382.04" width="4.28" height="8.86" fill="#a8b4d0"/>
<rect x="592.08" y="382.04" width="7.56" height="8.86" fill="#a0aecc"/>
<rect x="598.63" y="382.04" width="4.28" height="8.86" fill="#a8b4d0"/>
<rect x="601.91" y="382.04" width="4.28" height="8.86" fill="#b0bcd6"/>
<rect x="605.19" y="382.04" width="4.28" height="8.86" fill="#c0c8dc"/>
<rect x="608.47" y="382.04" width="4.28" height="8.86" fill="#c8d0e2"/>
<rect x="611.74" y="382.04" width="4.28" height="8.86" fill="#e4e8f0"/>
<rect x="615.02" y="382.04" width="4.28" height="8.86" fill="#dadeeb"/>
<rect x="618.3" y="382.04" width="4.28" height="8.86" fill="#c5cde0"/>
<rect x="621.58" y="382.04" width="4.28" height="8.86" fill="#b8c2d8"/>
<rect x="624.86" y="382.04" width="4.28" height="8.86" fill="#b0bcd6"/>
<rect x="628.13" y="382.04" width="4.28" height="8.86" fill="#b8c2d8"/>
<rect x="631.41" y="382.04" width="7.56" height="8.86" fill="#c8d0e2"/>
<rect x="637.97" y="382.04" width="4.28" height="8.86" fill="#d0d6e6"/>
<rect x="641.24" y="382.04" width="4.28" height="8.86" fill="#c8d0e2"/>
<rect x="644.52" y="382.04" width="4.28" height="8.86" fill="#b8c2d8"/>
<rect x="647.8" y="382.04" width="4.28" height="8.86" fill="#c0c8dc"/>
<rect x="651.08" y="382.04" width="4.28" height="8.86" fill="#a0aecc"/>
<rect x="654.36" y="382.04" width="4.28" height="8.86" fill="#98a8c8"/>
<rect x="657.63" y="382.04" width="4.28" height="8.86" fill="#b0bcd6"/>
<rect x="660.91" y="382.04" width="4.28" height="8.86" fill="#c0c8dc"/>
<rect x="664.19" y="382.04" width="7.56" height="8.86" fill="#d0d6e6"/>
<rect x="670.74" y="382.04" width="4.28" height="8.86" fill="#c0c8dc"/>
<rect x="674.02" y="382.04" width="3.28" height="8.86" fill="#b0bcd6"/>
<rect x="559.3" y="389.9" width="4.28" height="8.86" fill="#6a80b0"/>
<rect x="562.58" y="389.9" width="4.28" height="8.86" fill="#4a6498"/>
<rect x="565.86" y="389.9" width="4.28" height="8.86" fill="#6a80b0"/>
<rect x="569.13" y="389.9" width="4.28" height="8.86" fill="#8899be"/>
<rect x="572.41" y="389.9" width="7.56" height="8.86" fill="#98a8c8"/>
<rect x="578.97" y="389.9" width="7.56" height="8.86" fill="#8899be"/>
<rect x="585.52" y="389.9" width="4.28" height="8.86" fill="#98a8c8"/>
<rect x="588.8" y="389.9" width="4.28" height="8.86" fill="#8899be"/>
<rect x="592.08" y="389.9" width="4.28" height="8.86" fill="#7a90ba"/>
<rect x="595.36" y="389.9" width="4.28" height="8.86" fill="#6a80b0"/>
<rect x="598.63" y="389.9" width="4.28" height="8.86" fill="#7a90ba"/>
<rect x="601.91" y="389.9" width="4.28" height="8.86" fill="#8899be"/>
<rect x="605.19" y="389.9" width="4.28" height="8.86" fill="#98a8c8"/>
<rect x="608.47" y="389.9" width="7.56" height="8.86" fill="#a8b4d0"/>
<rect x="615.02" y="389.9" width="4.28" height="8.86" fill="#b0bcd6"/>
<rect x="618.3" y="389.9" width="4.28" height="8.86" fill="#a5b2ce"/>
<rect x="621.58" y="389.9" width="4.28" height="8.86" fill="#a0aecc"/>
<rect x="624.86" y="389.9" width="4.28" height="8.86" fill="#98a8c8"/>
<rect x="628.13" y="389.9" width="4.28" height="8.86" fill="#8899be"/>
<rect x="631.41" y="389.9" width="4.28" height="8.86" fill="#98a8c8"/>
<rect x="634.69" y="389.9" width="7.56" height="8.86" fill="#a8b4d0"/>
<rect x="641.24" y="389.9" width="4.28" height="8.86" fill="#a0aecc"/>
<rect x="644.52" y="389.9" width="14.11" height="8.86" fill="#8899be"/>
<rect x="657.63" y="389.9" width="4.28" height="8.86" fill="#7a90ba"/>
<rect x="660.91" y="389.9" width="4.28" height="8.86" fill="#98a8c8"/>
<rect x="664.19" y="389.9" width="4.28" height="8.86" fill="#a8b4d0"/>
<rect x="667.47" y="389.9" width="4.28" height="8.86" fill="#b8c2d8"/>
<rect x="670.74" y="389.9" width="4.28" height="8.86" fill="#c0c8dc"/>
<rect x="674.02" y="389.9" width="3.28" height="8.86" fill="#a0aecc"/>
<rect x="559.3" y="397.76" width="7.56" height="8.86" fill="#4a6498"/>
<rect x="565.86" y="397.76" width="4.28" height="8.86" fill="#3a5890"/>
<rect x="569.13" y="397.76" width="4.28" height="8.86" fill="#5a72a6"/>
<rect x="572.41" y="397.76" width="4.28" height="8.86" fill="#7a90ba"/>
<rect x="575.69" y="397.76" width="4.28" height="8.86" fill="#8899be"/>
<rect x="578.97" y="397.76" width="4.28" height="8.86" fill="#98a8c8"/>
<rect x="582.24" y="397.76" width="4.28" height="8.86" fill="#8899be"/>
<rect x="585.52" y="397.76" width="4.28" height="8.86" fill="#5a72a6"/>
<rect x="588.8" y="397.76" width="4.28" height="8.86" fill="#4a6498"/>
<rect x="592.08" y="397.76" width="4.28" height="8.86" fill="#2a4888"/>
<rect x="595.36" y="397.76" width="4.28" height="8.86" fill="#4a6498"/>
<rect x="598.63" y="397.76" width="7.56" height="8.86" fill="#6a80b0"/>
<rect x="605.19" y="397.76" width="4.28" height="8.86" fill="#8899be"/>
<rect x="608.47" y="397.76" width="4.28" height="8.86" fill="#98a8c8"/>
<rect x="611.74" y="397.76" width="4.28" height="8.86" fill="#7a90ba"/>
<rect x="615.02" y="397.76" width="4.28" height="8.86" fill="#7086b4"/>
<rect x="618.3" y="397.76" width="4.28" height="8.86" fill="#667cae"/>
<rect x="621.58" y="397.76" width="4.28" height="8.86" fill="#6a80b0"/>
<rect x="624.86" y="397.76" width="4.28" height="8.86" fill="#5a72a6"/>
<rect x="628.13" y="397.76" width="4.28" height="8.86" fill="#4a6498"/>
<rect x="631.41" y="397.76" width="7.56" height="8.86" fill="#6a80b0"/>
<rect x="637.97" y="397.76" width="4.28" height="8.86" fill="#7a90ba"/>
<rect x="641.24" y="397.76" width="4.28" height="8.86" fill="#8899be"/>
<rect x="644.52" y="397.76" width="4.28" height="8.86" fill="#6a80b0"/>
<rect x="647.8" y="397.76" width="7.56" height="8.86" fill="#5a72a6"/>
<rect x="654.36" y="397.76" width="7.56" height="8.86" fill="#6a80b0"/>
<rect x="660.91" y="397.76" width="4.28" height="8.86" fill="#7a90ba"/>
<rect x="664.19" y="397.76" width="4.28" height="8.86" fill="#8899be"/>
<rect x="667.47" y="397.76" width="7.56" height="8.86" fill="#98a8c8"/>
<rect x="674.02" y="397.76" width="3.28" height="8.86" fill="#6a80b0"/>
<rect x="559.3" y="405.62" width="4.28" height="7.86" fill="#2a4888"/>
<rect x="562.58" y="405.62" width="4.28" height="7.86" fill="#1e3a7a"/>
<rect x="565.86" y="405.62" width="4.28" height="7.86" fill="#3a5890"/>
<rect x="569.13" y="405.62" width="4.28" height="7.86" fill="#0f286b"/>
<rect x="572.41" y="405.62" width="4.28" height="7.86" fill="#3a5890"/>
<rect x="575.69" y="405.62" width="10.83" height="7.86" fill="#4a6498"/>
<rect x="585.52" y="405.62" width="14.11" height="7.86" fill="#2a4888"/>
<rect x="598.63" y="405.62" width="4.28" height="7.86" fill="#1e3a7a"/>
<rect x="601.91" y="405.62" width="4.28" height="7.86" fill="#3a5890"/>
<rect x="605.19" y="405.62" width="10.83" height="7.86" fill="#4a6498"/>
<rect x="615.02" y="405.62" width="4.28" height="7.86" fill="#5a72a6"/>
<rect x="618.3" y="405.62" width="4.28" height="7.86" fill="#6a80b0"/>
<rect x="621.58" y="405.62" width="4.28" height="7.86" fill="#3a5890"/>
<rect x="624.86" y="405.62" width="4.28" height="7.86" fill="#4a6498"/>
<rect x="628.13" y="405.62" width="4.28" height="7.86" fill="#8899be"/>
<rect x="631.41" y="405.62" width="4.28" height="7.86" fill="#2a4888"/>
<rect x="634.69" y="405.62" width="4.28" height="7.86" fill="#4a6498"/>
<rect x="637.97" y="405.62" width="4.28" height="7.86" fill="#6a80b0"/>
<rect x="641.24" y="405.62" width="4.28" height="7.86" fill="#5a72a6"/>
<rect x="644.52" y="405.62" width="4.28" height="7.86" fill="#2a4888"/>
<rect x="647.8" y="405.62" width="7.56" height="7.86" fill="#1e3a7a"/>
<rect x="654.36" y="405.62" width="4.28" height="7.86" fill="#2a4888"/>
<rect x="657.63" y="405.62" width="4.28" height="7.86" fill="#0f286b"/>
<rect x="660.91" y="405.62" width="4.28" height="7.86" fill="#3a5890"/>
<rect x="664.19" y="405.62" width="4.28" height="7.86" fill="#4a6498"/>
<rect x="667.47" y="405.62" width="4.28" height="7.86" fill="#5a72a6"/>
<rect x="670.74" y="405.62" width="4.28" height="7.86" fill="#4a6498"/>
<rect x="674.02" y="405.62" width="3.28" height="7.86" fill="#6a80b0"/>
<line x1="559.9" y1="370.25" x2="677.3" y2="370.25" stroke="#1a1a1a" stroke-width="1.15" stroke-dasharray="3 2.5"/>
<rect x="559.3" y="311.3" width="118" height="117.9" fill="none" stroke="#333" stroke-width="1"/>
<path d="M559.3 425.27h3.8M677.3 425.27h-3.8M559.3 417.41h7M677.3 417.41h-7M559.3 409.55h3.8M677.3 409.55h-3.8M559.3 401.69h7M677.3 401.69h-7M559.3 393.83h3.8M677.3 393.83h-3.8M559.3 385.97h7M677.3 385.97h-7M559.3 378.11h3.8M677.3 378.11h-3.8M559.3 370.25h7M677.3 370.25h-7M559.3 362.39h3.8M677.3 362.39h-3.8M559.3 354.53h7M677.3 354.53h-7M559.3 346.67h3.8M677.3 346.67h-3.8M559.3 338.81h7M677.3 338.81h-7M559.3 330.95h3.8M677.3 330.95h-3.8M559.3 323.09h7M677.3 323.09h-7M559.3 315.23h3.8M677.3 315.23h-3.8M574.05 429.2v-3.8M574.05 311.3v3.8M588.8 429.2v-7M588.8 311.3v7M603.55 429.2v-3.8M603.55 311.3v3.8M618.3 429.2v-7M618.3 311.3v7M633.05 429.2v-3.8M633.05 311.3v3.8M647.8 429.2v-7M647.8 311.3v7M662.55 429.2v-3.8M662.55 311.3v3.8" stroke="#1a1a1a" stroke-width="1" fill="none"/>
<text x="551.4" y="421.01" font-size="9.7" text-anchor="end" font-weight="normal" fill="#1a1a1a" >-6</text>
<text x="551.4" y="405.29" font-size="9.7" text-anchor="end" font-weight="normal" fill="#1a1a1a" >-4</text>
<text x="551.4" y="389.57" font-size="9.7" text-anchor="end" font-weight="normal" fill="#1a1a1a" >-2</text>
<text x="551.4" y="373.85" font-size="9.7" text-anchor="end" font-weight="normal" fill="#1a1a1a" >0</text>
<text x="551.4" y="358.13" font-size="9.7" text-anchor="end" font-weight="normal" fill="#1a1a1a" >2</text>
<text x="551.4" y="342.41" font-size="9.7" text-anchor="end" font-weight="normal" fill="#1a1a1a" >4</text>
<text x="551.4" y="326.69" font-size="9.7" text-anchor="end" font-weight="normal" fill="#1a1a1a" >6</text>
<text x="559.3" y="445" font-size="9.7" text-anchor="middle" font-weight="normal" fill="#1a1a1a" >0</text>
<text x="588.8" y="445" font-size="9.7" text-anchor="middle" font-weight="normal" fill="#1a1a1a" >90</text>
<text x="618.3" y="445" font-size="9.7" text-anchor="middle" font-weight="normal" fill="#1a1a1a" >180</text>
<text x="647.8" y="445" font-size="9.7" text-anchor="middle" font-weight="normal" fill="#1a1a1a" >270</text>
<text x="677.3" y="445" font-size="9.7" text-anchor="middle" font-weight="normal" fill="#1a1a1a" >360</text>
<text x="615.7" y="463" font-size="9.7" text-anchor="middle" font-weight="normal" fill="#1a1a1a" >Orientation (°)</text>
<text transform="translate(537 370.25) rotate(-90)" font-size="9.7" text-anchor="middle" fill="#1a1a1a"><tspan font-style="italic">B</tspan> (T)</text>
<text x="529.2" y="314.7" font-size="9.7" text-anchor="start" font-weight="bold" fill="#000" >f</text>
</svg></body></html>
